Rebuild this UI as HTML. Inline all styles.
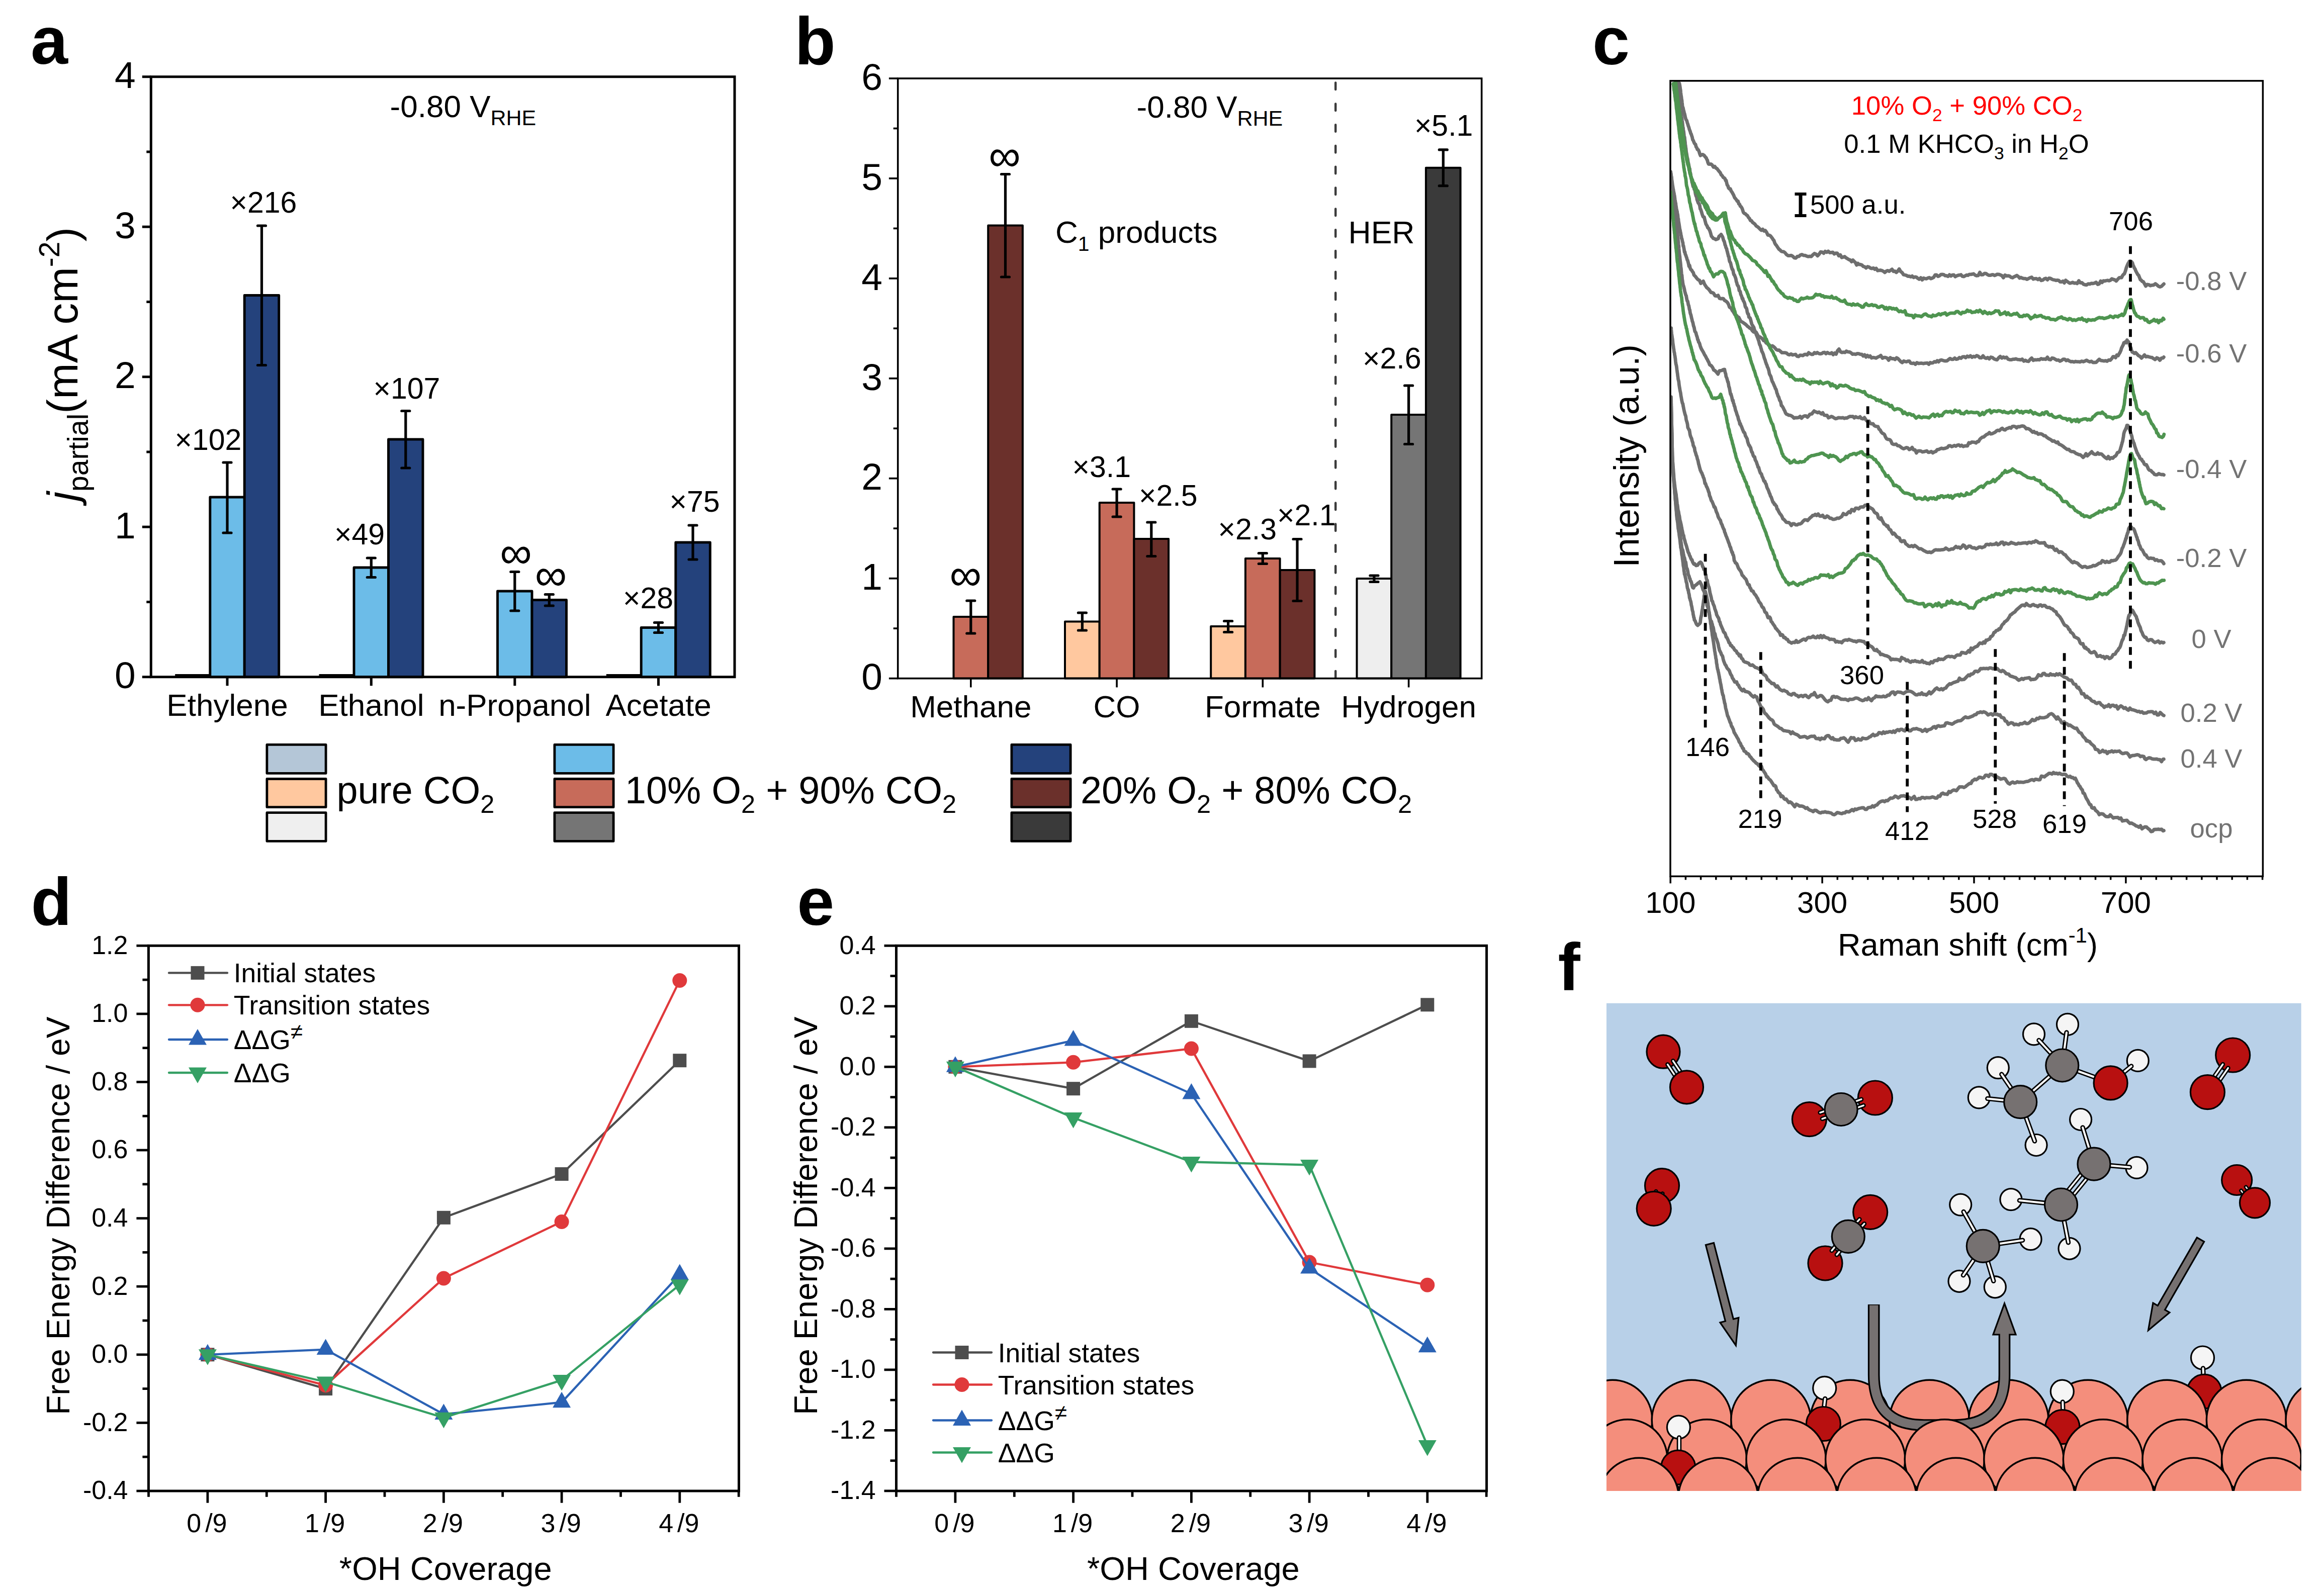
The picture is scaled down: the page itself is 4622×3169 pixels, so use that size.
<!DOCTYPE html>
<html><head><meta charset="utf-8"><title>Figure</title>
<style>html,body{margin:0;padding:0;background:#fff}svg{display:block}text{font-family:"Liberation Sans", Arial, sans-serif}</style>
</head><body>
<svg width="4622" height="3169" viewBox="0 0 4622 3169">
<rect width="4622" height="3169" fill="#fff"/>
<text x="61" y="127" font-size="133" text-anchor="start" fill="#000" font-weight="bold" >a</text>
<rect x="349.2" y="1342" width="68.5" height="4.7" fill="#000" stroke="#000" stroke-width="2" />
<rect x="417.8" y="989" width="68.5" height="357.7" fill="#6CBCE8" stroke="#000" stroke-width="4.9" stroke-linejoin="round"/>
<rect x="486.2" y="587.5" width="68.5" height="759.2" fill="#24427C" stroke="#000" stroke-width="4.9" stroke-linejoin="round"/>
<line x1="452" y1="920" x2="452" y2="1060" stroke="#000" stroke-width="5.2" /><line x1="444" y1="920" x2="460" y2="920" stroke="#000" stroke-width="5.2" stroke-linecap="round"/><line x1="444" y1="1060" x2="460" y2="1060" stroke="#000" stroke-width="5.2" stroke-linecap="round"/>
<line x1="520.5" y1="449" x2="520.5" y2="726.5" stroke="#000" stroke-width="5.2" /><line x1="512.5" y1="449" x2="528.5" y2="449" stroke="#000" stroke-width="5.2" stroke-linecap="round"/><line x1="512.5" y1="726.5" x2="528.5" y2="726.5" stroke="#000" stroke-width="5.2" stroke-linecap="round"/>
<rect x="635.5" y="1342" width="68.5" height="4.7" fill="#000" stroke="#000" stroke-width="2" />
<rect x="704" y="1129" width="68.5" height="217.7" fill="#6CBCE8" stroke="#000" stroke-width="4.9" stroke-linejoin="round"/>
<rect x="772.5" y="874" width="68.5" height="472.7" fill="#24427C" stroke="#000" stroke-width="4.9" stroke-linejoin="round"/>
<line x1="738.3" y1="1110" x2="738.3" y2="1148.5" stroke="#000" stroke-width="5.2" /><line x1="730.3" y1="1110" x2="746.3" y2="1110" stroke="#000" stroke-width="5.2" stroke-linecap="round"/><line x1="730.3" y1="1148.5" x2="746.3" y2="1148.5" stroke="#000" stroke-width="5.2" stroke-linecap="round"/>
<line x1="806.8" y1="817.5" x2="806.8" y2="931" stroke="#000" stroke-width="5.2" /><line x1="798.8" y1="817.5" x2="814.8" y2="817.5" stroke="#000" stroke-width="5.2" stroke-linecap="round"/><line x1="798.8" y1="931" x2="814.8" y2="931" stroke="#000" stroke-width="5.2" stroke-linecap="round"/>
<rect x="989.5" y="1176" width="68.5" height="170.7" fill="#6CBCE8" stroke="#000" stroke-width="4.9" stroke-linejoin="round"/>
<rect x="1058" y="1193.5" width="68.5" height="153.2" fill="#24427C" stroke="#000" stroke-width="4.9" stroke-linejoin="round"/>
<line x1="1023.8" y1="1137.5" x2="1023.8" y2="1215" stroke="#000" stroke-width="5.2" /><line x1="1015.8" y1="1137.5" x2="1031.8" y2="1137.5" stroke="#000" stroke-width="5.2" stroke-linecap="round"/><line x1="1015.8" y1="1215" x2="1031.8" y2="1215" stroke="#000" stroke-width="5.2" stroke-linecap="round"/>
<line x1="1092.3" y1="1182.5" x2="1092.3" y2="1205" stroke="#000" stroke-width="5.2" /><line x1="1084.3" y1="1182.5" x2="1100.3" y2="1182.5" stroke="#000" stroke-width="5.2" stroke-linecap="round"/><line x1="1084.3" y1="1205" x2="1100.3" y2="1205" stroke="#000" stroke-width="5.2" stroke-linecap="round"/>
<rect x="1206.8" y="1342" width="68.5" height="4.7" fill="#000" stroke="#000" stroke-width="2" />
<rect x="1275.2" y="1248.5" width="68.5" height="98.2" fill="#6CBCE8" stroke="#000" stroke-width="4.9" stroke-linejoin="round"/>
<rect x="1343.8" y="1079" width="68.5" height="267.7" fill="#24427C" stroke="#000" stroke-width="4.9" stroke-linejoin="round"/>
<line x1="1309.5" y1="1238.5" x2="1309.5" y2="1258.5" stroke="#000" stroke-width="5.2" /><line x1="1301.5" y1="1238.5" x2="1317.5" y2="1238.5" stroke="#000" stroke-width="5.2" stroke-linecap="round"/><line x1="1301.5" y1="1258.5" x2="1317.5" y2="1258.5" stroke="#000" stroke-width="5.2" stroke-linecap="round"/>
<line x1="1378" y1="1045" x2="1378" y2="1113" stroke="#000" stroke-width="5.2" /><line x1="1370" y1="1045" x2="1386" y2="1045" stroke="#000" stroke-width="5.2" stroke-linecap="round"/><line x1="1370" y1="1113" x2="1386" y2="1113" stroke="#000" stroke-width="5.2" stroke-linecap="round"/>
<rect x="300.3" y="152.7" width="1160.7" height="1194" fill="none" stroke="#000" stroke-width="5" />
<line x1="282.8" y1="1346.7" x2="300.3" y2="1346.7" stroke="#000" stroke-width="5" />
<text x="269.8" y="1369.4" font-size="75" text-anchor="end" fill="#000" >0</text>
<line x1="291.3" y1="1197.5" x2="300.3" y2="1197.5" stroke="#000" stroke-width="5" />
<line x1="282.8" y1="1048.2" x2="300.3" y2="1048.2" stroke="#000" stroke-width="5" />
<text x="269.8" y="1070.9" font-size="75" text-anchor="end" fill="#000" >1</text>
<line x1="291.3" y1="899" x2="300.3" y2="899" stroke="#000" stroke-width="5" />
<line x1="282.8" y1="749.7" x2="300.3" y2="749.7" stroke="#000" stroke-width="5" />
<text x="269.8" y="772.4" font-size="75" text-anchor="end" fill="#000" >2</text>
<line x1="291.3" y1="600.5" x2="300.3" y2="600.5" stroke="#000" stroke-width="5" />
<line x1="282.8" y1="451.2" x2="300.3" y2="451.2" stroke="#000" stroke-width="5" />
<text x="269.8" y="473.9" font-size="75" text-anchor="end" fill="#000" >3</text>
<line x1="291.3" y1="302" x2="300.3" y2="302" stroke="#000" stroke-width="5" />
<line x1="282.8" y1="152.7" x2="300.3" y2="152.7" stroke="#000" stroke-width="5" />
<text x="269.8" y="175.4" font-size="75" text-anchor="end" fill="#000" >4</text>
<line x1="452" y1="1346.7" x2="452" y2="1364.2" stroke="#000" stroke-width="5" />
<text x="452" y="1424" font-size="62" text-anchor="middle" fill="#000" >Ethylene</text>
<line x1="738.3" y1="1346.7" x2="738.3" y2="1364.2" stroke="#000" stroke-width="5" />
<text x="738.3" y="1424" font-size="62" text-anchor="middle" fill="#000" >Ethanol</text>
<line x1="1023.8" y1="1346.7" x2="1023.8" y2="1364.2" stroke="#000" stroke-width="5" />
<text x="1023.8" y="1424" font-size="62" text-anchor="middle" fill="#000" >n-Propanol</text>
<line x1="1309.5" y1="1346.7" x2="1309.5" y2="1364.2" stroke="#000" stroke-width="5" />
<text x="1309.5" y="1424" font-size="62" text-anchor="middle" fill="#000" >Acetate</text>
<text transform="translate(153.6,997) rotate(-90)" font-size="86"><tspan font-style="italic">j</tspan><tspan font-size="57" dy="21">partial</tspan><tspan dy="-21">(mA cm</tspan><tspan font-size="57" dy="-35.6">-2</tspan><tspan dy="35.6">)</tspan></text>
<text x="775.6" y="232.5" font-size="62" text-anchor="start" fill="#000" ><tspan>-0.80 V</tspan><tspan font-size="43" dy="16">RHE</tspan></text>
<text x="347.5" y="895" font-size="59" text-anchor="start" fill="#000" >×102</text>
<text x="457.5" y="422.5" font-size="59" text-anchor="start" fill="#000" >×216</text>
<text x="742.5" y="792.5" font-size="59" text-anchor="start" fill="#000" >×107</text>
<text x="665" y="1082.5" font-size="59" text-anchor="start" fill="#000" >×49</text>
<text x="1239" y="1210" font-size="59" text-anchor="start" fill="#000" >×28</text>
<text x="1331.5" y="1017.5" font-size="59" text-anchor="start" fill="#000" >×75</text>
<text x="1026" y="1130.2" font-size="89" text-anchor="middle" fill="#000" >∞</text>
<text x="1095.5" y="1173.7" font-size="89" text-anchor="middle" fill="#000" >∞</text>
<text x="1580.5" y="127.5" font-size="133" text-anchor="start" fill="#000" font-weight="bold" >b</text>
<line x1="2656.2" y1="164.6" x2="2656.2" y2="1349.6" stroke="#3C3C3C" stroke-width="4.5" stroke-dasharray="13.5 28.3" stroke-linecap="round"/>
<rect x="1896.5" y="1227" width="68.7" height="122.6" fill="#C76B5A" stroke="#000" stroke-width="4" stroke-linejoin="round"/>
<rect x="1965.2" y="448.5" width="68.7" height="901.1" fill="#6B302B" stroke="#000" stroke-width="4" stroke-linejoin="round"/>
<line x1="1930.8" y1="1195" x2="1930.8" y2="1260" stroke="#000" stroke-width="5.2" /><line x1="1922.8" y1="1195" x2="1938.8" y2="1195" stroke="#000" stroke-width="5.2" stroke-linecap="round"/><line x1="1922.8" y1="1260" x2="1938.8" y2="1260" stroke="#000" stroke-width="5.2" stroke-linecap="round"/>
<line x1="1999.5" y1="346.5" x2="1999.5" y2="551" stroke="#000" stroke-width="5.2" /><line x1="1991.5" y1="346.5" x2="2007.5" y2="346.5" stroke="#000" stroke-width="5.2" stroke-linecap="round"/><line x1="1991.5" y1="551" x2="2007.5" y2="551" stroke="#000" stroke-width="5.2" stroke-linecap="round"/>
<rect x="2118" y="1236.5" width="68.7" height="113.1" fill="#FFC89F" stroke="#000" stroke-width="4" stroke-linejoin="round"/>
<rect x="2186.7" y="1000" width="68.7" height="349.6" fill="#C76B5A" stroke="#000" stroke-width="4" stroke-linejoin="round"/>
<rect x="2255.4" y="1072" width="68.7" height="277.6" fill="#6B302B" stroke="#000" stroke-width="4" stroke-linejoin="round"/>
<line x1="2152.4" y1="1219" x2="2152.4" y2="1254" stroke="#000" stroke-width="5.2" /><line x1="2144.4" y1="1219" x2="2160.4" y2="1219" stroke="#000" stroke-width="5.2" stroke-linecap="round"/><line x1="2144.4" y1="1254" x2="2160.4" y2="1254" stroke="#000" stroke-width="5.2" stroke-linecap="round"/>
<line x1="2221.1" y1="973" x2="2221.1" y2="1028" stroke="#000" stroke-width="5.2" /><line x1="2213.1" y1="973" x2="2229.1" y2="973" stroke="#000" stroke-width="5.2" stroke-linecap="round"/><line x1="2213.1" y1="1028" x2="2229.1" y2="1028" stroke="#000" stroke-width="5.2" stroke-linecap="round"/>
<line x1="2289.8" y1="1039" x2="2289.8" y2="1106.5" stroke="#000" stroke-width="5.2" /><line x1="2281.8" y1="1039" x2="2297.8" y2="1039" stroke="#000" stroke-width="5.2" stroke-linecap="round"/><line x1="2281.8" y1="1106.5" x2="2297.8" y2="1106.5" stroke="#000" stroke-width="5.2" stroke-linecap="round"/>
<rect x="2408.2" y="1246" width="68.7" height="103.6" fill="#FFC89F" stroke="#000" stroke-width="4" stroke-linejoin="round"/>
<rect x="2476.9" y="1111" width="68.7" height="238.6" fill="#C76B5A" stroke="#000" stroke-width="4" stroke-linejoin="round"/>
<rect x="2545.7" y="1134" width="68.7" height="215.6" fill="#6B302B" stroke="#000" stroke-width="4" stroke-linejoin="round"/>
<line x1="2442.6" y1="1235.5" x2="2442.6" y2="1257.5" stroke="#000" stroke-width="5.2" /><line x1="2434.6" y1="1235.5" x2="2450.6" y2="1235.5" stroke="#000" stroke-width="5.2" stroke-linecap="round"/><line x1="2434.6" y1="1257.5" x2="2450.6" y2="1257.5" stroke="#000" stroke-width="5.2" stroke-linecap="round"/>
<line x1="2511.3" y1="1100.5" x2="2511.3" y2="1121.5" stroke="#000" stroke-width="5.2" /><line x1="2503.3" y1="1100.5" x2="2519.3" y2="1100.5" stroke="#000" stroke-width="5.2" stroke-linecap="round"/><line x1="2503.3" y1="1121.5" x2="2519.3" y2="1121.5" stroke="#000" stroke-width="5.2" stroke-linecap="round"/>
<line x1="2580" y1="1072.5" x2="2580" y2="1195.5" stroke="#000" stroke-width="5.2" /><line x1="2572" y1="1072.5" x2="2588" y2="1072.5" stroke="#000" stroke-width="5.2" stroke-linecap="round"/><line x1="2572" y1="1195.5" x2="2588" y2="1195.5" stroke="#000" stroke-width="5.2" stroke-linecap="round"/>
<rect x="2698.5" y="1151" width="68.7" height="198.6" fill="#EEEEEE" stroke="#000" stroke-width="4" stroke-linejoin="round"/>
<rect x="2767.2" y="825" width="68.7" height="524.6" fill="#757575" stroke="#000" stroke-width="4" stroke-linejoin="round"/>
<rect x="2835.9" y="333.7" width="68.7" height="1015.9" fill="#3A3A3A" stroke="#000" stroke-width="4" stroke-linejoin="round"/>
<line x1="2732.9" y1="1145" x2="2732.9" y2="1157.5" stroke="#000" stroke-width="5.2" /><line x1="2724.9" y1="1145" x2="2740.9" y2="1145" stroke="#000" stroke-width="5.2" stroke-linecap="round"/><line x1="2724.9" y1="1157.5" x2="2740.9" y2="1157.5" stroke="#000" stroke-width="5.2" stroke-linecap="round"/>
<line x1="2801.6" y1="767" x2="2801.6" y2="883.5" stroke="#000" stroke-width="5.2" /><line x1="2793.6" y1="767" x2="2809.6" y2="767" stroke="#000" stroke-width="5.2" stroke-linecap="round"/><line x1="2793.6" y1="883.5" x2="2809.6" y2="883.5" stroke="#000" stroke-width="5.2" stroke-linecap="round"/>
<line x1="2870.3" y1="297.9" x2="2870.3" y2="369.7" stroke="#000" stroke-width="5.2" /><line x1="2862.3" y1="297.9" x2="2878.3" y2="297.9" stroke="#000" stroke-width="5.2" stroke-linecap="round"/><line x1="2862.3" y1="369.7" x2="2878.3" y2="369.7" stroke="#000" stroke-width="5.2" stroke-linecap="round"/>
<rect x="1785.7" y="156" width="1161" height="1193.6" fill="none" stroke="#000" stroke-width="3.6" />
<line x1="1767.9" y1="1349.6" x2="1785.7" y2="1349.6" stroke="#000" stroke-width="3.6" />
<text x="1755" y="1372.3" font-size="75" text-anchor="end" fill="#000" >0</text>
<line x1="1776.7" y1="1250.1" x2="1785.7" y2="1250.1" stroke="#000" stroke-width="3.6" />
<line x1="1767.9" y1="1150.7" x2="1785.7" y2="1150.7" stroke="#000" stroke-width="3.6" />
<text x="1755" y="1173.4" font-size="75" text-anchor="end" fill="#000" >1</text>
<line x1="1776.7" y1="1051.2" x2="1785.7" y2="1051.2" stroke="#000" stroke-width="3.6" />
<line x1="1767.9" y1="951.7" x2="1785.7" y2="951.7" stroke="#000" stroke-width="3.6" />
<text x="1755" y="974.4" font-size="75" text-anchor="end" fill="#000" >2</text>
<line x1="1776.7" y1="852.3" x2="1785.7" y2="852.3" stroke="#000" stroke-width="3.6" />
<line x1="1767.9" y1="752.8" x2="1785.7" y2="752.8" stroke="#000" stroke-width="3.6" />
<text x="1755" y="775.5" font-size="75" text-anchor="end" fill="#000" >3</text>
<line x1="1776.7" y1="653.3" x2="1785.7" y2="653.3" stroke="#000" stroke-width="3.6" />
<line x1="1767.9" y1="553.9" x2="1785.7" y2="553.9" stroke="#000" stroke-width="3.6" />
<text x="1755" y="576.6" font-size="75" text-anchor="end" fill="#000" >4</text>
<line x1="1776.7" y1="454.4" x2="1785.7" y2="454.4" stroke="#000" stroke-width="3.6" />
<line x1="1767.9" y1="354.9" x2="1785.7" y2="354.9" stroke="#000" stroke-width="3.6" />
<text x="1755" y="377.6" font-size="75" text-anchor="end" fill="#000" >5</text>
<line x1="1776.7" y1="255.5" x2="1785.7" y2="255.5" stroke="#000" stroke-width="3.6" />
<line x1="1767.9" y1="156" x2="1785.7" y2="156" stroke="#000" stroke-width="3.6" />
<text x="1755" y="178.7" font-size="75" text-anchor="end" fill="#000" >6</text>
<line x1="1930.8" y1="1349.6" x2="1930.8" y2="1367.4" stroke="#000" stroke-width="3.6" />
<text x="1930.8" y="1426.5" font-size="62" text-anchor="middle" fill="#000" >Methane</text>
<line x1="2221.1" y1="1349.6" x2="2221.1" y2="1367.4" stroke="#000" stroke-width="3.6" />
<text x="2221.1" y="1426.5" font-size="62" text-anchor="middle" fill="#000" >CO</text>
<line x1="2511.3" y1="1349.6" x2="2511.3" y2="1367.4" stroke="#000" stroke-width="3.6" />
<text x="2511.3" y="1426.5" font-size="62" text-anchor="middle" fill="#000" >Formate</text>
<line x1="2801.6" y1="1349.6" x2="2801.6" y2="1367.4" stroke="#000" stroke-width="3.6" />
<text x="2801.6" y="1426.5" font-size="62" text-anchor="middle" fill="#000" >Hydrogen</text>
<text x="2260.6" y="234" font-size="62" text-anchor="start" fill="#000" ><tspan>-0.80 V</tspan><tspan font-size="43" dy="16">RHE</tspan></text>
<text x="2099" y="482.5" font-size="62" text-anchor="start" fill="#000" ><tspan>C</tspan><tspan font-size="41" dy="16">1</tspan><tspan dy="-16"> products</tspan></text>
<text x="2681.5" y="484" font-size="62.5" text-anchor="start" fill="#000" >HER</text>
<text x="2132.5" y="948.5" font-size="59" text-anchor="start" fill="#000" >×3.1</text>
<text x="2265" y="1006" font-size="59" text-anchor="start" fill="#000" >×2.5</text>
<text x="2422.5" y="1072.5" font-size="59" text-anchor="start" fill="#000" >×2.3</text>
<text x="2540" y="1045" font-size="59" text-anchor="start" fill="#000" >×2.1</text>
<text x="2710" y="732.5" font-size="59" text-anchor="start" fill="#000" >×2.6</text>
<text x="2812.9" y="270.4" font-size="59" text-anchor="start" fill="#000" >×5.1</text>
<text x="1920.2" y="1174.4" font-size="89" text-anchor="middle" fill="#000" >∞</text>
<text x="1998" y="340.2" font-size="89" text-anchor="middle" fill="#000" >∞</text>
<rect x="530.9" y="1481.4" width="117.2" height="57" fill="#B4C6D7" stroke="#000" stroke-width="4.8" stroke-linejoin="round"/>
<rect x="530.9" y="1549.5" width="117.2" height="56.2" fill="#FFC89F" stroke="#000" stroke-width="4.8" stroke-linejoin="round"/>
<rect x="530.9" y="1616.7" width="117.2" height="56.7" fill="#EFEFEF" stroke="#000" stroke-width="4.8" stroke-linejoin="round"/>
<rect x="1102.9" y="1481.4" width="117.2" height="57" fill="#6CBCE8" stroke="#000" stroke-width="4.8" stroke-linejoin="round"/>
<rect x="1102.9" y="1549.5" width="117.2" height="56.2" fill="#C76B5A" stroke="#000" stroke-width="4.8" stroke-linejoin="round"/>
<rect x="1102.9" y="1616.7" width="117.2" height="56.7" fill="#757575" stroke="#000" stroke-width="4.8" stroke-linejoin="round"/>
<rect x="2011.9" y="1481.4" width="117.2" height="57" fill="#24427C" stroke="#000" stroke-width="4.8" stroke-linejoin="round"/>
<rect x="2011.9" y="1549.5" width="117.2" height="56.2" fill="#6B302B" stroke="#000" stroke-width="4.8" stroke-linejoin="round"/>
<rect x="2011.9" y="1616.7" width="117.2" height="56.7" fill="#3A3A3A" stroke="#000" stroke-width="4.8" stroke-linejoin="round"/>
<text x="669.5" y="1598" font-size="75.6" text-anchor="start" fill="#000" ><tspan>pure CO</tspan><tspan font-size="50.5" dy="19">2</tspan></text>
<text x="1243" y="1598" font-size="75.6" text-anchor="start" fill="#000" ><tspan>10% O</tspan><tspan font-size="50.5" dy="19">2</tspan><tspan dy="-19"> + 90% CO</tspan><tspan font-size="50.5" dy="19">2</tspan></text>
<text x="2149" y="1598" font-size="75.6" text-anchor="start" fill="#000" ><tspan>20% O</tspan><tspan font-size="50.5" dy="19">2</tspan><tspan dy="-19"> + 80% CO</tspan><tspan font-size="50.5" dy="19">2</tspan></text>
<text x="3167" y="127.5" font-size="133" text-anchor="start" fill="#000" font-weight="bold" >c</text>
<clipPath id="clipc"><rect x="3322" y="160.8" width="1178.4" height="1582.5"/></clipPath>
<g clip-path="url(#clipc)" fill="none" stroke-linejoin="round" stroke-linecap="round" stroke-width="6.8">
<path d="M3323.5,808.7 3323.6,812.6 3323.7,815.3 3323.7,817.9 3323.8,821.9 3323.9,824.3 3324.0,826.7 3324.0,831.1 3324.1,832.6 3324.2,834.3 3324.3,836.7 3324.4,840.0 3324.4,844.0 3324.5,847.3 3324.6,850.6 3324.7,854.1 3324.8,857.1 3324.8,859.1 3324.9,862.2 3325.0,864.5 3325.1,866.2 3325.1,869.7 3325.2,872.2 3325.3,874.7 3325.4,879.1 3325.5,881.6 3325.5,883.2 3325.6,885.9 3325.7,890.7 3325.8,892.1 3325.8,895.2 3325.9,898.0 3326.0,900.8 3326.1,903.7 3326.2,905.6 3326.3,908.2 3326.4,911.2 3326.5,914.0 3326.6,917.7 3326.8,921.5 3326.9,922.7 3327.0,926.2 3327.1,928.0 3327.2,930.7 3327.3,933.9 3327.4,937.1 3327.5,939.7 3327.7,940.4 3328.0,946.1 3328.2,948.4 3328.4,950.7 3328.7,954.5 3328.9,956.6 3329.1,958.3 3329.4,962.5 3329.6,965.7 3329.8,967.6 3330.1,971.5 3330.3,974.3 3330.5,975.8 3330.8,980.7 3331.0,982.9 3331.2,984.3 3331.5,988.0 3331.7,990.9 3332.0,994.4 3332.2,995.4 3332.4,999.8 3332.7,1003.0 3332.9,1005.8 3333.1,1008.5 3333.4,1011.9 3333.6,1014.4 3333.8,1016.5 3334.1,1018.3 3334.3,1022.4 3334.5,1025.6 3334.8,1027.9 3335.1,1030.5 3335.4,1033.7 3335.8,1033.6 3336.2,1038.1 3336.5,1038.8 3336.9,1043.5 3337.3,1047.8 3337.7,1051.9 3338.1,1052.9 3338.5,1056.0 3338.8,1058.4 3339.2,1059.0 3339.6,1063.9 3340.0,1066.7 3340.4,1069.6 3340.8,1071.5 3341.2,1074.9 3341.5,1078.0 3341.9,1082.1 3342.3,1084.4 3342.7,1090.1 3343.1,1090.2 3343.5,1092.2 3343.8,1094.9 3344.2,1097.0 3344.6,1101.8 3345.0,1104.4 3345.4,1105.4 3345.8,1108.8 3346.2,1112.9 3346.5,1113.7 3346.9,1117.3 3347.3,1120.0 3347.7,1125.3 3348.1,1127.1 3348.5,1128.8 3348.8,1131.1 3349.2,1136.1 3349.6,1137.4 3350.1,1142.4 3350.6,1142.1 3351.2,1145.2 3351.8,1148.1 3352.4,1150.4 3353.0,1153.5 3353.6,1157.4 3354.2,1159.2 3354.8,1160.8 3355.4,1166.1 3356.0,1169.9 3356.6,1170.8 3357.2,1174.0 3357.8,1173.9 3358.4,1179.5 3359.0,1180.8 3359.6,1183.8 3360.2,1189.6 3360.8,1189.8 3361.4,1193.1 3362.0,1194.9 3362.6,1196.5 3363.2,1199.6 3363.8,1204.0 3364.4,1205.8 3365.0,1208.9 3365.6,1213.2 3366.2,1215.5 3366.8,1216.9 3367.4,1222.2 3368.0,1224.3 3368.6,1228.2 3369.2,1228.8 3369.8,1233.7 3370.4,1233.9 3371.4,1235.2 3372.7,1239.0 3374.3,1242.2 3376.3,1244.2 3378.5,1242.3 3380.3,1240.6 3381.5,1238.7 3382.0,1233.9 3382.5,1229.7 3383.0,1227.2 3383.5,1225.6 3384.0,1223.1 3384.5,1219.1 3385.0,1215.1 3385.5,1212.7 3386.0,1210.9 3386.4,1206.7 3386.8,1205.2 3387.2,1201.7 3387.7,1198.6 3388.1,1194.6 3388.5,1193.2 3388.9,1189.5 3389.3,1184.8 3389.8,1183.4 3390.2,1179.8 3390.6,1178.1 3391.1,1177.1 3391.7,1176.6 3392.4,1180.1 3393.1,1182.6 3393.9,1185.0 3394.6,1188.7 3395.3,1192.8 3395.9,1195.3 3396.4,1197.9 3396.8,1200.2 3397.2,1203.9 3397.6,1206.8 3398.0,1210.3 3398.3,1212.7 3398.7,1217.1 3399.1,1217.0 3399.5,1220.2 3399.9,1223.7 3400.3,1227.2 3400.7,1227.9 3401.1,1230.2 3401.5,1234.0 3401.9,1238.3 3402.3,1241.6 3402.7,1242.1 3403.0,1245.7 3403.4,1249.8 3403.8,1252.0 3404.2,1253.6 3404.6,1256.2 3405.0,1258.4 3405.4,1263.5 3405.9,1265.7 3406.3,1268.1 3406.7,1270.4 3407.2,1273.7 3407.6,1276.0 3408.0,1278.5 3408.5,1282.2 3408.9,1285.1 3409.3,1288.6 3409.8,1291.4 3410.2,1295.2 3410.7,1297.2 3411.1,1300.0 3411.5,1302.8 3412.0,1304.6 3412.4,1309.0 3412.8,1310.7 3413.3,1312.1 3413.7,1317.2 3414.1,1320.3 3414.6,1322.0 3415.0,1325.9 3415.6,1329.1 3416.1,1331.8 3416.7,1332.6 3417.2,1336.1 3417.8,1337.9 3418.3,1340.7 3418.9,1343.6 3419.4,1346.1 3420.0,1350.2 3420.6,1352.1 3421.1,1356.0 3421.7,1358.7 3422.2,1360.7 3422.8,1363.9 3423.3,1367.4 3423.9,1370.9 3424.4,1372.5 3425.0,1377.0 3425.6,1379.1 3426.2,1382.4 3426.9,1382.7 3427.5,1384.9 3428.1,1389.9 3428.8,1392.0 3429.4,1395.3 3430.0,1399.0 3430.6,1399.4 3431.2,1403.3 3431.9,1408.1 3432.5,1410.4 3433.1,1412.3 3433.8,1415.3 3434.4,1417.6 3435.1,1421.0 3436.0,1424.6 3437.0,1425.8 3438.0,1428.9 3439.0,1431.4 3440.0,1434.5 3441.0,1437.4 3442.0,1438.0 3443.0,1442.5 3444.0,1445.5 3445.0,1445.9 3446.0,1448.8 3447.0,1450.2 3448.0,1453.7 3449.0,1457.4 3450.1,1458.6 3451.4,1461.1 3452.9,1463.4 3454.3,1466.1 3455.7,1468.6 3457.1,1470.7 3458.6,1475.1 3460.0,1477.3 3461.4,1478.9 3462.9,1483.4 3464.3,1484.7 3465.7,1488.6 3467.1,1488.8 3468.6,1494.0 3470.2,1494.8 3472.0,1495.7 3474.0,1499.2 3476.0,1499.2 3478.0,1500.9 3480.0,1504.7 3482.0,1506.2 3484.0,1509.4 3486.0,1511.4 3488.0,1513.6 3490.2,1515.4 3492.5,1518.2 3495.0,1519.3 3497.5,1522.5 3499.7,1524.7 3501.7,1523.1 3503.3,1524.6 3505.0,1531.1 3506.7,1532.3 3508.3,1535.2 3510.0,1537.5 3511.7,1540.4 3513.3,1545.6 3515.0,1545.2 3516.7,1547.7 3518.3,1550.1 3520.1,1551.1 3522.0,1553.4 3524.0,1556.6 3526.0,1559.7 3528.0,1563.0 3529.9,1562.6 3531.7,1564.6 3533.3,1571.2 3535.0,1572.7 3536.7,1576.2 3538.3,1577.4 3540.1,1578.9 3542.0,1584.7 3544.0,1583.2 3546.0,1584.5 3548.0,1588.5 3550.2,1590.2 3552.5,1589.6 3555.0,1593.2 3557.5,1596.6 3560.2,1595.3 3563.1,1597.2 3566.2,1600.8 3569.4,1604.8 3572.5,1599.8 3575.6,1601.3 3578.8,1603.6 3581.9,1603.4 3585.0,1603.9 3588.0,1605.3 3591.0,1608.0 3594.0,1606.8 3597.0,1610.2 3600.0,1611.8 3603.0,1612.7 3606.0,1614.6 3609.0,1611.9 3612.0,1612.1 3615.0,1614.5 3618.0,1616.4 3621.0,1617.1 3624.0,1615.7 3627.0,1615.8 3630.0,1614.8 3633.0,1616.2 3636.0,1616.0 3639.0,1616.8 3642.0,1617.5 3645.0,1620.0 3648.0,1620.8 3651.0,1619.1 3654.0,1616.3 3657.0,1617.1 3660.0,1618.0 3663.0,1618.6 3666.0,1617.1 3669.0,1617.2 3672.0,1614.3 3675.0,1615.0 3677.9,1615.0 3680.7,1612.6 3683.6,1610.6 3686.4,1612.9 3689.3,1609.4 3692.1,1610.6 3695.0,1609.0 3697.9,1608.0 3700.7,1607.5 3703.6,1606.8 3706.4,1607.0 3709.3,1610.0 3712.1,1610.2 3715.0,1606.9 3718.0,1606.2 3721.0,1606.0 3724.0,1603.1 3727.0,1605.2 3730.0,1602.2 3733.0,1601.3 3736.0,1597.6 3739.0,1595.3 3742.0,1593.9 3745.0,1593.2 3748.0,1594.9 3751.0,1592.5 3754.0,1592.9 3757.0,1590.1 3760.0,1587.5 3763.0,1588.0 3766.0,1586.7 3769.0,1583.6 3772.0,1584.9 3775.0,1587.2 3777.9,1585.5 3780.8,1583.3 3783.8,1583.4 3786.7,1582.8 3789.6,1584.4 3792.5,1584.0 3795.4,1585.6 3798.3,1587.1 3801.2,1589.9 3804.2,1586.9 3807.1,1584.4 3810.0,1590.4 3813.0,1590.1 3816.0,1588.3 3819.0,1589.1 3822.0,1586.5 3825.0,1586.5 3828.0,1588.1 3831.0,1586.7 3834.0,1586.8 3837.0,1587.2 3840.0,1586.6 3843.0,1585.4 3846.0,1586.1 3849.0,1587.6 3852.0,1587.7 3855.0,1583.5 3858.0,1584.2 3861.0,1579.3 3864.0,1577.7 3867.0,1579.6 3870.0,1579.7 3873.0,1580.3 3876.0,1574.5 3879.0,1576.3 3882.0,1573.4 3885.0,1571.7 3888.0,1572.0 3891.0,1573.1 3894.0,1568.9 3897.0,1565.5 3900.0,1565.4 3903.0,1565.4 3906.0,1566.6 3909.0,1564.9 3912.0,1562.3 3914.8,1560.1 3917.5,1558.3 3920.0,1558.5 3922.5,1553.5 3925.0,1552.0 3927.5,1549.9 3930.2,1551.2 3933.1,1549.2 3936.2,1546.2 3939.4,1546.5 3942.5,1548.1 3945.6,1546.9 3948.8,1542.1 3951.9,1542.1 3955.0,1544.7 3958.0,1540.4 3961.0,1540.5 3964.0,1542.3 3967.0,1544.9 3970.0,1544.1 3973.0,1546.4 3976.0,1547.8 3979.0,1550.0 3982.0,1549.3 3985.0,1548.4 3988.0,1549.2 3991.0,1554.1 3994.0,1558.1 3997.0,1559.7 4000.0,1557.1 4003.0,1555.7 4006.0,1557.7 4009.0,1557.1 4012.0,1555.1 4015.0,1556.4 4018.0,1555.9 4021.0,1556.1 4024.0,1556.4 4027.0,1555.5 4030.0,1554.7 4033.0,1554.5 4036.0,1553.1 4039.0,1551.5 4042.0,1550.8 4045.0,1552.7 4048.0,1550.2 4051.0,1550.5 4054.0,1551.3 4057.0,1551.1 4060.0,1543.9 4063.0,1544.5 4066.0,1545.5 4069.0,1542.8 4072.0,1540.8 4075.0,1538.3 4078.0,1538.5 4081.0,1539.8 4084.0,1536.7 4087.0,1538.9 4090.0,1538.1 4093.0,1539.6 4096.0,1538.2 4099.0,1540.0 4102.0,1540.9 4105.0,1540.1 4108.0,1540.5 4111.0,1544.1 4114.0,1545.5 4117.0,1544.2 4119.8,1546.9 4122.5,1546.7 4125.0,1549.2 4127.5,1548.1 4129.7,1552.8 4131.7,1557.6 4133.3,1559.4 4135.0,1563.1 4136.7,1564.4 4138.3,1567.7 4139.9,1570.0 4141.4,1571.5 4142.9,1577.6 4144.3,1577.9 4145.7,1579.1 4147.1,1583.1 4148.6,1586.7 4150.1,1589.6 4151.7,1591.8 4153.3,1595.0 4155.0,1598.5 4156.7,1601.0 4158.3,1601.0 4160.3,1606.8 4162.5,1607.9 4165.0,1606.7 4167.5,1611.9 4170.0,1613.7 4172.5,1616.1 4175.0,1620.6 4177.5,1618.9 4180.0,1619.0 4182.5,1619.3 4185.2,1621.9 4188.0,1624.1 4191.0,1624.6 4194.0,1624.7 4197.0,1621.0 4200.0,1624.4 4203.0,1627.4 4206.0,1626.3 4209.0,1626.4 4212.0,1626.1 4215.0,1628.8 4218.0,1627.3 4221.0,1633.3 4224.0,1632.5 4227.0,1632.2 4230.0,1631.8 4233.0,1635.3 4236.0,1638.1 4239.0,1637.3 4242.0,1639.0 4245.0,1640.5 4248.0,1642.9 4251.0,1643.7 4254.0,1645.7 4257.0,1642.6 4260.0,1648.9 4263.0,1646.4 4266.0,1644.9 4269.0,1645.2 4272.0,1648.1 4275.0,1650.2 4278.0,1654.3 4281.0,1653.7 4284.0,1650.2 4287.0,1650.0 4290.0,1649.8 4293.0,1649.5 4296.0,1650.2 4299.0,1649.6 4302.0,1652.8 4303.5,1652.3" stroke="#6E6E6E"/>
<path d="M3323.5,799.1 3323.6,802.8 3323.6,806.5 3323.7,808.4 3323.8,810.3 3323.9,813.8 3323.9,817.4 3324.0,821.0 3324.1,822.2 3324.1,824.5 3324.2,828.7 3324.3,831.9 3324.4,835.7 3324.4,838.4 3324.5,840.4 3324.6,842.8 3324.6,847.7 3324.7,849.0 3324.8,851.0 3324.9,853.2 3324.9,856.8 3325.0,860.0 3325.1,862.6 3325.1,865.6 3325.2,868.7 3325.3,872.0 3325.4,875.4 3325.4,877.7 3325.5,878.8 3325.5,883.0 3325.6,884.7 3325.6,888.1 3325.6,890.1 3325.7,893.8 3325.7,896.4 3325.8,899.9 3325.8,905.4 3325.8,906.6 3325.9,909.5 3325.9,910.7 3325.9,913.8 3326.0,917.5 3326.1,920.1 3326.2,923.2 3326.5,925.9 3326.7,927.8 3326.9,931.6 3327.2,933.6 3327.4,938.6 3327.6,940.1 3327.9,943.5 3328.1,945.9 3328.3,949.5 3328.6,951.2 3328.8,955.1 3329.0,957.3 3329.2,961.2 3329.5,963.8 3329.7,966.2 3329.9,968.0 3330.2,971.9 3330.4,974.9 3330.6,978.8 3330.9,980.2 3331.1,983.4 3331.3,986.4 3331.6,989.0 3331.8,991.8 3332.0,994.6 3332.3,996.7 3332.6,998.9 3332.9,1002.1 3333.3,1005.9 3333.7,1010.0 3334.1,1012.7 3334.5,1015.6 3334.8,1018.1 3335.2,1020.8 3335.6,1023.1 3336.0,1026.2 3336.4,1030.1 3336.8,1031.3 3337.2,1033.2 3337.6,1038.2 3338.0,1040.2 3338.4,1043.4 3338.8,1046.3 3339.1,1047.2 3339.5,1052.7 3339.9,1055.9 3340.3,1057.3 3340.7,1060.1 3341.1,1062.4 3341.5,1064.0 3341.9,1067.2 3342.3,1070.5 3342.7,1074.3 3343.0,1077.0 3343.4,1079.2 3343.8,1083.0 3344.2,1084.2 3344.6,1087.9 3345.1,1091.4 3345.7,1093.0 3346.4,1093.7 3347.1,1096.7 3347.8,1100.8 3348.5,1104.3 3349.2,1108.5 3349.9,1109.0 3350.6,1112.1 3351.2,1115.6 3351.9,1117.8 3352.6,1118.1 3353.3,1123.3 3354.0,1128.6 3354.7,1130.8 3355.4,1131.4 3356.1,1133.9 3356.8,1137.3 3357.6,1142.7 3358.4,1144.4 3359.3,1146.2 3360.2,1150.2 3361.1,1151.5 3362.0,1155.9 3363.0,1156.4 3363.9,1158.6 3364.8,1162.4 3365.7,1166.4 3366.6,1168.8 3368.0,1169.7 3370.0,1165.5 3372.5,1164.1 3374.8,1162.3 3377.0,1160.1 3379.0,1159.1 3380.7,1157.3 3382.0,1159.6 3383.0,1161.7 3384.0,1163.7 3385.0,1166.7 3386.0,1169.8 3387.0,1173.2 3388.0,1174.5 3389.0,1177.0 3389.9,1178.4 3390.6,1184.0 3391.2,1187.5 3391.9,1188.9 3392.5,1190.9 3393.1,1192.7 3393.8,1196.6 3394.4,1199.8 3395.0,1204.8 3395.6,1206.4 3396.2,1207.7 3396.9,1208.3 3397.5,1214.3 3398.1,1216.9 3398.8,1217.8 3399.4,1221.8 3400.0,1223.1 3400.8,1230.8 3401.5,1232.7 3402.3,1234.5 3403.1,1236.1 3403.8,1236.2 3404.6,1240.2 3405.4,1241.8 3406.2,1246.5 3406.9,1246.9 3407.7,1250.1 3408.5,1255.3 3409.2,1259.4 3410.0,1259.5 3410.9,1261.0 3411.8,1266.0 3412.7,1269.6 3413.6,1270.7 3414.5,1273.3 3415.4,1276.0 3416.2,1278.3 3417.1,1281.5 3418.0,1286.6 3418.9,1289.7 3419.8,1294.1 3420.7,1295.1 3421.6,1297.3 3422.6,1298.9 3423.6,1302.2 3424.8,1303.7 3425.9,1305.5 3427.0,1310.8 3428.2,1315.3 3429.3,1317.9 3430.5,1321.2 3431.6,1322.9 3432.7,1324.1 3433.9,1327.2 3435.1,1329.4 3436.5,1330.9 3438.0,1332.3 3439.5,1334.6 3441.0,1339.0 3442.5,1342.3 3444.0,1344.3 3445.5,1349.1 3447.0,1350.8 3448.5,1353.5 3450.1,1356.9 3451.9,1356.8 3453.8,1356.5 3455.6,1361.6 3457.5,1362.8 3459.4,1367.4 3461.2,1369.1 3463.1,1372.1 3465.4,1374.1 3468.0,1371.4 3471.0,1375.7 3474.0,1376.0 3477.0,1376.9 3479.8,1378.8 3482.5,1382.3 3485.0,1384.7 3487.5,1386.7 3490.0,1384.2 3492.1,1386.4 3493.9,1386.4 3495.3,1391.2 3496.7,1395.3 3498.1,1396.6 3499.4,1400.0 3500.8,1402.8 3502.2,1406.4 3503.6,1406.9 3505.2,1408.7 3506.9,1411.0 3508.8,1416.8 3510.6,1419.6 3512.5,1420.6 3514.4,1423.0 3516.2,1425.3 3518.1,1427.9 3520.1,1429.7 3522.1,1431.6 3524.3,1432.3 3526.4,1434.8 3528.6,1440.4 3530.7,1442.1 3532.9,1443.4 3535.1,1444.7 3537.5,1446.7 3540.0,1448.9 3542.5,1449.2 3545.0,1451.7 3547.5,1453.7 3550.2,1453.7 3553.0,1454.3 3556.0,1454.7 3559.0,1455.4 3562.0,1459.6 3565.0,1456.2 3568.0,1459.2 3571.0,1460.4 3574.0,1461.4 3577.0,1463.6 3580.0,1466.6 3582.9,1466.1 3585.7,1465.7 3588.6,1465.0 3591.4,1465.8 3594.3,1468.2 3597.1,1466.9 3600.0,1465.3 3602.9,1464.6 3605.7,1464.8 3608.6,1464.5 3611.4,1469.1 3614.3,1469.5 3617.1,1468.7 3620.0,1471.5 3622.9,1468.3 3625.7,1469.4 3628.6,1469.6 3631.4,1465.2 3634.3,1463.3 3637.1,1463.4 3639.9,1467.2 3642.5,1469.7 3645.0,1467.5 3647.5,1471.3 3650.0,1471.2 3652.5,1472.0 3655.2,1472.0 3658.0,1472.2 3661.0,1468.9 3664.0,1468.7 3667.0,1467.6 3670.0,1470.0 3672.9,1473.8 3675.7,1476.5 3678.6,1471.7 3681.4,1467.3 3684.3,1468.3 3687.1,1467.6 3690.0,1473.0 3692.9,1472.2 3695.7,1469.7 3698.6,1471.9 3701.4,1472.1 3704.3,1468.2 3707.1,1469.0 3709.9,1469.5 3712.5,1469.3 3715.0,1468.3 3717.5,1466.3 3720.0,1465.5 3722.5,1463.0 3725.2,1460.9 3728.0,1463.7 3731.0,1462.4 3734.0,1461.6 3737.0,1457.3 3740.0,1457.9 3742.9,1459.5 3745.7,1456.0 3748.6,1458.6 3751.4,1456.5 3754.3,1456.8 3757.1,1455.6 3760.0,1455.5 3762.9,1456.9 3765.7,1454.4 3768.6,1456.8 3771.4,1453.2 3774.3,1451.4 3777.1,1453.5 3780.0,1450.8 3782.9,1450.9 3785.7,1453.0 3788.6,1454.0 3791.4,1448.8 3794.3,1450.8 3797.1,1453.9 3800.0,1453.8 3802.9,1451.1 3805.7,1449.9 3808.6,1450.2 3811.4,1449.1 3814.3,1450.5 3817.1,1451.3 3820.0,1451.9 3823.0,1454.8 3826.0,1453.4 3829.0,1450.8 3832.0,1454.8 3834.8,1451.9 3837.5,1451.3 3840.0,1450.4 3842.5,1448.7 3845.0,1446.2 3847.5,1445.4 3850.1,1448.5 3852.9,1444.6 3855.7,1443.7 3858.6,1445.2 3861.4,1444.7 3864.3,1444.2 3867.1,1443.8 3870.0,1438.3 3873.0,1437.9 3876.0,1439.0 3879.0,1439.5 3882.0,1440.7 3885.0,1439.1 3888.0,1436.7 3891.0,1435.6 3894.0,1434.2 3897.0,1433.8 3900.0,1433.5 3903.0,1430.9 3906.0,1428.1 3909.0,1426.2 3912.0,1427.6 3915.0,1427.7 3918.0,1426.5 3921.0,1425.3 3924.0,1424.2 3927.0,1421.8 3930.0,1421.5 3933.0,1417.9 3936.0,1417.6 3939.0,1416.1 3942.0,1417.5 3945.0,1415.9 3948.0,1416.9 3951.0,1419.1 3954.0,1422.3 3957.0,1420.7 3960.1,1419.9 3963.3,1422.5 3966.7,1419.1 3969.7,1421.1 3972.5,1420.8 3975.0,1422.9 3977.5,1422.0 3980.0,1426.7 3982.5,1427.6 3985.2,1428.3 3988.0,1434.2 3991.0,1435.1 3994.0,1440.9 3997.0,1438.9 4000.0,1437.7 4003.0,1438.6 4006.0,1441.8 4009.0,1440.6 4012.0,1441.5 4015.0,1442.0 4018.0,1439.4 4021.0,1440.0 4024.0,1438.8 4027.0,1436.8 4030.0,1439.4 4033.0,1439.4 4036.0,1437.6 4039.0,1434.7 4042.0,1431.2 4045.0,1433.5 4048.0,1432.7 4051.0,1429.0 4054.0,1429.9 4057.0,1427.0 4060.0,1427.9 4063.1,1427.9 4066.2,1427.6 4069.4,1426.6 4072.3,1425.2 4075.0,1421.7 4077.5,1420.4 4080.0,1419.7 4082.5,1421.1 4085.0,1423.9 4087.5,1426.6 4090.0,1430.3 4092.5,1426.2 4095.0,1430.4 4097.5,1432.0 4100.0,1437.5 4102.5,1438.5 4105.2,1435.8 4108.0,1439.0 4111.0,1439.7 4114.0,1443.3 4117.0,1442.3 4119.8,1444.5 4122.5,1446.3 4125.0,1448.0 4127.5,1449.0 4130.0,1448.5 4132.5,1452.9 4134.9,1456.6 4137.1,1457.9 4139.2,1458.7 4141.2,1462.3 4143.3,1465.7 4145.4,1467.5 4147.5,1469.8 4149.6,1474.1 4151.7,1473.3 4153.8,1475.1 4155.8,1475.2 4157.9,1478.3 4160.1,1480.6 4162.5,1482.4 4165.0,1484.7 4167.5,1490.6 4170.0,1490.9 4172.7,1492.1 4175.6,1497.0 4178.8,1495.5 4181.9,1492.6 4185.0,1495.6 4188.0,1494.5 4191.0,1499.0 4194.0,1495.5 4197.0,1495.6 4200.0,1493.7 4203.0,1496.0 4206.0,1494.3 4209.0,1495.1 4212.0,1494.5 4215.0,1494.0 4218.0,1497.1 4221.0,1499.0 4224.0,1498.8 4227.0,1497.8 4230.0,1497.8 4233.0,1500.7 4236.0,1505.9 4239.0,1503.6 4242.0,1502.9 4245.0,1502.8 4248.0,1501.9 4251.0,1501.4 4254.0,1502.2 4257.0,1505.2 4259.6,1504.2 4261.9,1504.5 4263.8,1505.1 4265.6,1509.4 4267.9,1511.0 4270.6,1509.0 4273.8,1507.5 4276.9,1507.8 4280.0,1509.7 4283.1,1510.0 4286.2,1510.1 4289.4,1509.9 4292.5,1511.2 4295.6,1511.2 4298.8,1515.2 4301.9,1510.3 4303.4,1510.1" stroke="#6E6E6E"/>
<path d="M3323.5,789.6 3323.6,792.2 3323.6,794.9 3323.7,797.9 3323.7,801.6 3323.8,802.8 3323.9,806.1 3323.9,809.0 3324.0,811.5 3324.0,814.8 3324.1,817.9 3324.2,822.7 3324.2,824.5 3324.3,826.7 3324.3,830.0 3324.4,831.4 3324.5,834.1 3324.5,837.8 3324.6,840.1 3324.6,842.3 3324.7,845.2 3324.8,847.5 3324.8,852.0 3324.9,855.6 3324.9,859.7 3325.0,860.6 3325.0,862.9 3325.0,865.6 3325.0,868.9 3325.0,871.6 3325.0,874.9 3325.0,877.1 3325.0,878.9 3325.0,883.7 3325.0,885.6 3325.0,889.4 3325.0,891.5 3325.0,894.4 3325.0,895.9 3325.1,898.7 3325.2,902.7 3325.5,906.2 3325.7,908.5 3326.0,911.5 3326.2,912.7 3326.4,916.6 3326.7,919.2 3326.9,921.7 3327.1,925.6 3327.4,928.1 3327.6,930.5 3327.9,933.6 3328.1,936.6 3328.3,939.5 3328.6,942.8 3328.8,945.3 3329.0,949.2 3329.3,953.0 3329.5,955.7 3329.8,957.4 3330.1,959.5 3330.4,963.1 3330.8,965.6 3331.2,969.9 3331.6,972.2 3332.0,975.1 3332.4,977.1 3332.8,980.3 3333.2,982.1 3333.6,984.3 3333.9,988.5 3334.3,990.6 3334.7,993.7 3335.1,998.1 3335.5,1002.2 3335.9,1004.0 3336.3,1006.1 3336.7,1009.9 3337.1,1013.3 3337.6,1015.9 3338.1,1017.2 3338.6,1019.9 3339.2,1024.1 3339.7,1025.3 3340.3,1028.7 3340.8,1032.8 3341.4,1035.9 3341.9,1037.1 3342.5,1039.7 3343.1,1042.4 3343.6,1044.3 3344.2,1048.0 3344.7,1050.1 3345.3,1054.2 3345.8,1055.7 3346.4,1058.5 3346.9,1061.3 3347.6,1064.7 3348.4,1065.1 3349.3,1070.8 3350.2,1073.3 3351.1,1076.5 3352.0,1080.7 3352.9,1082.7 3353.8,1085.6 3354.6,1088.2 3355.5,1091.8 3356.4,1094.7 3357.3,1098.1 3358.2,1099.8 3359.1,1101.2 3360.1,1105.0 3361.2,1106.5 3362.5,1110.2 3363.8,1112.9 3365.0,1113.5 3366.2,1117.7 3367.5,1120.2 3368.8,1122.3 3370.6,1121.8 3373.0,1125.1 3376.1,1124.5 3379.2,1120.0 3381.8,1118.2 3383.8,1119.8 3385.0,1122.5 3386.2,1127.0 3387.5,1128.5 3388.8,1133.0 3389.8,1132.5 3390.7,1134.9 3391.4,1140.3 3392.0,1142.7 3392.7,1143.6 3393.4,1150.1 3394.1,1152.5 3394.8,1154.8 3395.5,1154.4 3396.1,1159.5 3396.8,1162.2 3397.5,1164.7 3398.2,1167.1 3398.9,1168.3 3399.5,1171.1 3400.2,1175.5 3400.9,1179.4 3401.6,1182.2 3402.3,1184.7 3403.0,1187.2 3403.6,1190.1 3404.3,1194.7 3405.1,1195.9 3405.9,1196.2 3406.8,1200.3 3407.7,1202.7 3408.6,1204.4 3409.5,1206.6 3410.5,1211.4 3411.4,1213.3 3412.3,1216.2 3413.2,1218.3 3414.1,1223.0 3415.1,1224.7 3416.1,1227.0 3417.3,1228.4 3418.4,1230.9 3419.5,1236.3 3420.7,1237.5 3421.8,1242.1 3423.0,1244.9 3424.1,1247.4 3425.2,1250.0 3426.4,1252.4 3427.6,1256.4 3428.9,1258.4 3430.3,1259.0 3431.7,1262.4 3433.1,1267.7 3434.4,1268.0 3435.8,1271.3 3437.2,1274.2 3438.6,1278.5 3440.2,1279.2 3441.9,1284.1 3443.8,1284.1 3445.6,1287.3 3447.5,1288.4 3449.4,1292.2 3451.2,1294.1 3453.1,1295.2 3455.1,1299.5 3457.1,1300.6 3459.3,1304.8 3461.4,1303.0 3463.6,1309.7 3465.7,1311.0 3467.9,1315.5 3470.1,1316.9 3472.5,1317.6 3475.0,1318.4 3477.5,1319.4 3480.0,1322.7 3482.5,1323.6 3485.2,1322.6 3488.0,1325.0 3491.0,1327.7 3494.0,1328.6 3497.0,1329.8 3499.6,1331.7 3501.9,1329.7 3503.8,1334.5 3505.6,1339.5 3507.5,1341.5 3509.4,1342.8 3511.2,1343.8 3513.1,1346.4 3515.1,1352.3 3517.1,1352.5 3519.3,1355.4 3521.4,1356.9 3523.6,1359.8 3525.7,1359.6 3527.9,1359.9 3530.1,1363.4 3532.5,1366.5 3535.0,1364.5 3537.5,1368.4 3540.0,1371.5 3542.5,1373.1 3545.2,1374.3 3548.0,1373.0 3551.0,1375.0 3554.0,1376.0 3557.0,1380.2 3560.0,1381.4 3562.9,1382.7 3565.7,1379.8 3568.6,1379.7 3571.4,1382.7 3574.3,1383.6 3577.1,1386.2 3580.0,1384.4 3582.9,1383.6 3585.7,1385.8 3588.6,1383.4 3591.4,1383.2 3594.3,1386.1 3597.1,1387.8 3600.0,1384.6 3602.9,1381.7 3605.7,1382.2 3608.6,1377.9 3611.4,1383.5 3614.3,1387.0 3617.1,1385.7 3619.9,1383.7 3622.5,1383.8 3625.0,1386.1 3627.5,1389.2 3630.0,1392.5 3632.6,1394.7 3635.4,1396.1 3638.3,1393.3 3641.2,1393.1 3644.2,1386.1 3647.1,1385.2 3650.0,1387.3 3652.9,1386.1 3655.7,1387.4 3658.6,1389.0 3661.4,1391.0 3664.3,1391.0 3667.1,1391.4 3670.0,1390.9 3672.9,1392.1 3675.7,1393.5 3678.6,1390.8 3681.4,1391.4 3684.3,1391.2 3687.1,1390.3 3690.0,1388.6 3692.9,1388.7 3695.7,1389.5 3698.6,1391.6 3701.4,1392.6 3704.3,1393.8 3707.1,1392.9 3710.0,1390.4 3713.0,1392.0 3716.0,1387.9 3719.0,1391.4 3722.0,1393.9 3725.0,1389.5 3728.0,1388.2 3731.0,1384.4 3734.0,1385.9 3737.0,1385.6 3740.0,1386.1 3742.9,1386.1 3745.7,1384.7 3748.6,1386.1 3751.4,1385.6 3754.3,1382.8 3757.1,1383.2 3760.0,1379.4 3762.9,1376.9 3765.7,1376.5 3768.6,1381.5 3771.4,1377.9 3774.3,1376.5 3777.1,1377.0 3780.0,1377.2 3783.0,1378.5 3786.0,1379.7 3789.0,1377.3 3792.0,1375.8 3795.0,1374.9 3798.0,1375.0 3801.0,1375.8 3804.0,1377.4 3807.0,1379.8 3810.0,1382.1 3813.0,1382.3 3816.0,1380.6 3819.0,1381.4 3822.0,1378.3 3825.0,1381.6 3828.0,1381.1 3831.0,1382.7 3834.0,1380.0 3837.0,1376.3 3840.0,1380.1 3843.0,1377.2 3846.0,1374.2 3849.0,1370.5 3852.0,1368.6 3855.0,1371.3 3858.0,1372.1 3861.0,1369.9 3864.0,1372.3 3867.0,1369.5 3869.8,1368.8 3872.5,1364.8 3875.0,1362.5 3877.5,1360.2 3880.0,1361.0 3882.5,1359.4 3885.2,1357.8 3888.0,1357.1 3891.0,1355.8 3894.0,1355.2 3897.0,1349.1 3900.0,1352.0 3903.0,1352.0 3906.0,1351.6 3909.0,1348.9 3912.0,1345.6 3914.8,1342.8 3917.5,1344.2 3920.0,1340.8 3922.5,1341.1 3925.0,1339.2 3927.5,1335.6 3930.2,1335.2 3933.0,1336.3 3936.0,1334.3 3939.0,1329.8 3942.0,1330.4 3945.0,1329.6 3948.0,1330.1 3951.0,1329.6 3954.0,1330.5 3957.0,1328.6 3960.1,1328.9 3963.3,1330.4 3966.7,1329.8 3969.7,1329.3 3972.5,1330.1 3975.0,1332.9 3977.5,1334.9 3980.0,1336.0 3982.5,1333.8 3985.0,1334.9 3987.5,1337.2 3990.0,1340.2 3992.5,1340.7 3995.0,1341.1 3997.5,1344.6 4000.2,1345.4 4003.0,1346.1 4006.0,1347.4 4009.0,1348.1 4012.0,1351.0 4015.0,1353.3 4018.0,1351.8 4021.0,1349.7 4024.0,1351.5 4027.0,1349.3 4030.0,1349.2 4033.0,1348.7 4036.0,1348.1 4039.0,1352.3 4042.0,1351.3 4045.0,1351.5 4048.0,1350.9 4051.0,1347.9 4054.0,1342.3 4057.0,1343.9 4060.0,1344.2 4063.0,1340.0 4066.0,1339.7 4069.0,1343.1 4072.0,1343.0 4075.0,1343.6 4078.0,1340.5 4081.0,1342.7 4084.0,1342.1 4087.0,1343.5 4090.0,1340.6 4093.0,1342.5 4096.0,1340.3 4099.0,1342.4 4102.0,1344.5 4105.0,1346.7 4108.0,1347.8 4111.0,1349.0 4114.0,1352.3 4117.0,1353.3 4119.7,1352.9 4122.0,1356.8 4124.0,1360.6 4126.0,1361.2 4128.0,1361.3 4130.0,1366.2 4132.0,1368.6 4134.0,1367.4 4136.0,1371.5 4138.0,1373.9 4140.0,1380.2 4142.0,1380.3 4144.0,1379.9 4146.0,1383.8 4148.0,1387.2 4150.4,1385.1 4153.3,1388.2 4156.7,1389.8 4159.7,1393.6 4162.5,1395.3 4165.0,1395.3 4167.5,1398.2 4170.2,1399.5 4173.0,1397.6 4176.0,1397.7 4179.0,1402.0 4182.0,1403.7 4185.0,1407.2 4188.0,1404.7 4191.0,1405.1 4194.0,1401.9 4197.0,1406.2 4200.0,1403.2 4203.0,1403.0 4206.0,1405.4 4209.0,1403.9 4212.0,1410.4 4215.0,1406.5 4218.0,1404.1 4221.0,1406.0 4224.0,1409.2 4227.0,1407.7 4230.0,1411.1 4233.0,1412.8 4236.0,1408.5 4239.0,1411.6 4242.0,1412.1 4245.0,1413.0 4248.0,1414.0 4251.0,1415.6 4254.0,1415.0 4257.0,1417.1 4260.0,1416.0 4263.0,1418.8 4266.0,1418.3 4269.0,1418.3 4272.0,1416.2 4275.0,1416.1 4278.1,1415.7 4281.2,1416.0 4284.4,1419.4 4287.4,1416.9 4290.4,1422.3 4293.3,1422.1 4296.2,1417.3 4299.2,1420.2 4302.1,1422.8 4303.5,1423.4" stroke="#6E6E6E"/>
<path d="M3323.7,652.6 3323.8,655.7 3324.2,659.9 3324.5,663.4 3324.9,666.1 3325.2,667.9 3325.6,670.6 3325.9,672.9 3326.3,674.5 3326.6,677.8 3327.0,682.0 3327.3,684.7 3327.7,687.0 3328.0,688.9 3328.4,692.4 3328.9,694.9 3329.3,698.2 3329.8,701.6 3330.2,702.0 3330.6,706.1 3331.1,708.0 3331.5,711.0 3331.9,713.6 3332.4,718.6 3332.8,721.7 3333.2,724.5 3333.7,726.1 3334.1,727.8 3334.6,731.3 3335.0,734.9 3335.4,737.7 3335.8,741.2 3336.2,743.2 3336.7,747.8 3337.1,750.1 3337.5,754.0 3337.9,755.5 3338.3,757.4 3338.8,759.2 3339.2,763.3 3339.6,766.7 3340.0,768.9 3340.4,771.7 3340.8,773.8 3341.2,776.2 3341.7,779.0 3342.1,780.3 3342.6,783.3 3343.1,787.3 3343.8,790.8 3344.4,794.8 3345.0,797.7 3345.6,800.4 3346.2,802.8 3346.9,803.2 3347.5,807.6 3348.1,810.1 3348.8,814.3 3349.4,816.8 3350.0,819.5 3350.7,822.0 3351.4,824.9 3352.0,825.9 3352.7,828.4 3353.4,834.0 3354.1,837.0 3354.8,838.8 3355.5,841.4 3356.1,844.0 3356.8,850.5 3357.5,851.7 3358.3,853.3 3359.0,854.9 3359.8,855.3 3360.6,859.9 3361.3,864.7 3362.1,867.6 3362.9,869.6 3363.7,871.1 3364.4,872.8 3365.2,876.5 3366.0,879.0 3366.7,880.8 3367.5,886.3 3368.3,887.2 3369.2,889.9 3370.0,890.6 3370.8,897.2 3371.7,899.3 3372.5,901.9 3373.3,905.1 3374.2,906.8 3375.0,909.5 3375.8,913.3 3376.7,915.2 3377.5,919.0 3378.3,923.1 3379.2,925.9 3380.0,929.5 3380.8,932.2 3381.7,935.7 3382.6,937.2 3383.5,939.7 3384.6,940.7 3385.6,944.0 3386.7,946.3 3387.7,949.7 3388.8,951.6 3389.8,955.7 3390.8,961.6 3391.9,961.6 3392.9,965.0 3394.0,968.1 3395.0,969.4 3396.0,972.1 3397.0,974.5 3398.0,978.2 3399.0,980.0 3400.0,986.1 3401.0,987.9 3402.0,990.7 3403.0,994.5 3404.0,996.7 3405.0,997.5 3406.0,1000.0 3407.0,1002.3 3408.0,1005.1 3409.0,1008.6 3410.1,1008.1 3411.2,1010.0 3412.3,1014.0 3413.5,1018.1 3414.6,1020.2 3415.8,1023.0 3416.9,1027.3 3418.1,1030.0 3419.2,1031.8 3420.4,1033.9 3421.5,1035.0 3422.7,1039.5 3423.8,1042.4 3424.9,1043.9 3426.0,1047.8 3427.0,1049.9 3428.0,1052.4 3429.0,1053.5 3430.0,1058.6 3431.0,1060.2 3432.0,1063.7 3433.0,1066.5 3434.0,1068.4 3435.0,1071.3 3436.0,1073.9 3437.0,1076.5 3438.0,1079.6 3439.0,1081.5 3440.0,1085.4 3440.9,1087.9 3441.8,1089.1 3442.7,1093.1 3443.6,1095.4 3444.5,1098.9 3445.5,1098.7 3446.4,1103.5 3447.3,1104.0 3448.2,1108.0 3449.1,1115.3 3450.2,1116.8 3451.4,1119.7 3452.9,1120.4 3454.3,1121.9 3455.7,1125.6 3457.1,1129.4 3458.6,1131.9 3460.0,1133.8 3461.6,1135.9 3463.1,1138.8 3464.7,1144.1 3466.2,1145.4 3467.8,1147.1 3469.4,1149.4 3470.9,1150.9 3472.5,1152.6 3474.1,1156.8 3475.6,1161.4 3477.2,1163.6 3478.8,1163.5 3480.3,1168.9 3481.9,1170.8 3483.4,1175.2 3485.0,1175.7 3486.6,1175.9 3488.1,1179.7 3489.7,1182.1 3491.2,1183.4 3492.8,1185.9 3494.4,1188.9 3495.9,1190.9 3497.5,1195.2 3499.1,1197.9 3500.6,1199.5 3502.2,1201.8 3503.8,1205.9 3505.3,1208.3 3506.9,1208.7 3508.4,1212.3 3510.0,1217.2 3511.6,1218.6 3513.1,1219.3 3514.7,1224.2 3516.2,1228.8 3517.8,1229.0 3519.4,1227.5 3520.9,1229.7 3522.6,1236.5 3524.3,1237.8 3526.1,1241.1 3527.9,1243.6 3529.6,1245.7 3531.4,1250.0 3533.2,1251.2 3535.1,1253.8 3537.1,1256.0 3539.2,1258.3 3541.2,1263.8 3543.3,1262.4 3545.4,1263.4 3547.6,1268.4 3550.0,1268.1 3552.5,1271.4 3555.0,1272.0 3557.5,1276.6 3560.2,1277.5 3563.1,1279.4 3566.2,1277.6 3569.4,1278.3 3572.3,1274.3 3575.0,1277.8 3577.5,1277.2 3580.0,1275.5 3582.5,1274.1 3585.2,1272.2 3588.0,1271.3 3591.0,1273.7 3594.0,1269.7 3597.0,1267.8 3600.0,1268.6 3603.0,1267.7 3606.0,1265.4 3609.0,1268.1 3612.0,1268.8 3615.0,1265.5 3618.0,1268.4 3621.0,1264.3 3624.0,1268.5 3627.0,1264.9 3630.0,1267.8 3633.0,1268.7 3636.0,1269.6 3639.0,1272.3 3642.0,1271.5 3645.0,1272.2 3648.0,1272.2 3651.0,1277.2 3654.0,1275.8 3657.0,1277.4 3660.0,1276.9 3662.9,1278.7 3665.7,1275.0 3668.6,1273.5 3671.4,1273.0 3674.3,1273.8 3677.1,1271.9 3680.0,1273.3 3683.0,1274.1 3686.0,1275.5 3689.0,1275.3 3692.0,1277.0 3695.0,1274.9 3698.0,1274.6 3701.0,1275.1 3704.0,1276.1 3707.0,1276.2 3709.8,1280.0 3712.5,1281.8 3715.0,1280.2 3717.5,1283.8 3720.0,1285.2 3722.5,1286.5 3725.0,1289.0 3727.5,1293.2 3730.0,1294.1 3732.5,1292.2 3735.0,1296.3 3737.5,1296.9 3740.2,1302.1 3743.0,1301.5 3746.0,1302.9 3749.0,1304.2 3752.0,1304.6 3755.0,1306.1 3758.0,1307.7 3761.0,1312.6 3764.0,1311.2 3767.0,1311.8 3770.0,1311.7 3773.0,1312.0 3776.0,1312.6 3779.0,1314.9 3782.0,1307.9 3785.0,1310.0 3788.0,1310.7 3791.0,1314.3 3794.0,1312.9 3797.0,1315.9 3800.0,1317.4 3802.9,1314.9 3805.7,1315.9 3808.6,1314.2 3811.4,1316.0 3814.3,1315.9 3817.1,1317.1 3820.0,1316.9 3822.9,1314.0 3825.8,1318.0 3828.8,1317.5 3831.7,1319.6 3834.6,1319.3 3837.6,1320.5 3840.6,1316.6 3843.8,1318.4 3846.9,1314.4 3849.9,1313.7 3852.9,1314.1 3855.7,1310.4 3858.6,1311.9 3861.4,1311.3 3864.3,1312.0 3867.1,1310.3 3870.0,1307.6 3872.9,1306.0 3875.7,1305.5 3878.6,1306.5 3881.4,1305.8 3884.3,1306.5 3887.1,1307.9 3890.0,1304.7 3892.9,1302.9 3895.7,1303.2 3898.6,1303.0 3901.4,1297.9 3904.3,1298.3 3907.1,1299.2 3909.9,1299.7 3912.5,1297.2 3915.0,1294.4 3917.5,1297.2 3920.0,1289.2 3922.5,1292.4 3925.0,1289.3 3927.5,1287.6 3930.0,1286.4 3932.5,1285.5 3935.0,1282.0 3937.5,1279.1 3940.0,1279.6 3942.5,1280.3 3945.0,1277.2 3947.5,1279.1 3950.0,1273.3 3952.5,1273.5 3954.9,1271.9 3957.1,1271.4 3959.3,1266.3 3961.4,1265.8 3963.6,1263.3 3965.7,1258.0 3967.9,1257.6 3969.9,1254.7 3971.9,1253.9 3973.8,1253.5 3975.6,1250.9 3977.5,1251.3 3979.4,1248.4 3981.2,1244.2 3983.1,1241.7 3985.0,1240.4 3986.9,1237.0 3988.8,1236.1 3990.6,1234.5 3992.5,1233.0 3994.4,1230.0 3996.2,1227.5 3998.1,1223.4 4000.2,1222.5 4002.5,1220.3 4005.0,1218.7 4007.5,1217.1 4010.0,1213.6 4012.5,1211.4 4015.2,1209.1 4018.0,1206.7 4021.0,1204.1 4024.0,1203.6 4027.0,1205.1 4030.0,1200.5 4032.9,1203.4 4035.7,1204.9 4038.6,1205.6 4041.4,1203.5 4044.3,1202.6 4047.1,1204.7 4050.0,1204.9 4052.9,1206.8 4055.7,1204.1 4058.6,1203.3 4061.4,1206.0 4064.3,1204.5 4067.1,1204.7 4070.0,1207.7 4073.0,1208.7 4076.0,1208.3 4079.0,1210.7 4082.0,1211.5 4084.7,1214.7 4087.0,1216.2 4089.0,1216.9 4091.0,1222.3 4093.0,1223.4 4094.9,1225.5 4096.7,1227.0 4098.3,1230.0 4100.0,1232.1 4101.7,1235.7 4103.3,1238.6 4105.1,1242.0 4106.9,1244.2 4108.8,1244.6 4110.6,1245.8 4112.5,1247.6 4114.4,1252.0 4116.2,1252.6 4118.1,1257.4 4120.0,1258.6 4121.9,1260.2 4123.8,1262.5 4125.6,1266.9 4127.5,1267.6 4129.4,1268.6 4131.2,1269.4 4133.1,1270.4 4135.0,1273.4 4136.9,1278.5 4138.8,1280.8 4140.6,1281.2 4142.5,1280.4 4144.4,1286.5 4146.2,1289.0 4148.1,1287.9 4150.4,1291.2 4153.0,1292.1 4156.0,1296.6 4159.0,1298.6 4162.0,1298.2 4165.0,1296.2 4168.0,1299.4 4171.0,1305.9 4174.0,1305.3 4177.0,1304.1 4180.0,1306.8 4183.1,1305.9 4186.2,1309.9 4189.4,1306.2 4192.3,1306.9 4195.0,1310.0 4197.5,1309.2 4200.0,1307.1 4202.5,1302.4 4204.8,1301.8 4206.8,1301.0 4208.6,1297.4 4210.4,1295.1 4212.1,1293.8 4213.9,1290.1 4215.7,1288.3 4217.2,1285.0 4218.4,1281.0 4219.3,1277.5 4220.2,1275.4 4221.1,1272.7 4222.0,1272.1 4223.0,1269.0 4223.9,1264.0 4224.8,1264.2 4225.7,1263.6 4226.6,1258.4 4227.4,1255.8 4228.2,1252.2 4228.8,1249.9 4229.4,1246.5 4230.1,1243.7 4230.8,1240.3 4231.4,1236.5 4232.1,1233.5 4232.7,1230.1 4233.3,1227.0 4234.2,1224.1 4235.2,1224.6 4236.5,1220.7 4237.8,1218.9 4239.4,1213.3 4241.3,1214.3 4243.7,1218.7 4245.5,1222.2 4246.9,1224.1 4247.9,1225.7 4248.8,1226.9 4249.7,1231.1 4250.6,1232.3 4251.6,1236.8 4252.5,1239.3 4253.6,1241.8 4254.6,1244.5 4255.7,1246.3 4256.8,1249.1 4257.9,1253.8 4258.9,1256.1 4260.3,1258.4 4262.0,1263.1 4264.0,1266.0 4266.0,1268.2 4268.0,1268.0 4270.4,1272.7 4273.1,1274.3 4276.2,1272.3 4279.4,1272.7 4282.6,1276.0 4285.8,1278.2 4289.2,1276.8 4292.4,1275.2 4295.6,1279.0 4298.8,1277.1 4301.9,1278.9 4303.4,1278.1" stroke="#6E6E6E"/>
<path d="M3322.7,343.5 3322.9,345.8 3323.3,348.3 3323.8,350.9 3324.2,353.2 3324.6,356.5 3325.0,360.8 3325.3,363.6 3325.7,366.9 3326.0,369.3 3326.3,372.1 3326.7,374.8 3327.0,375.8 3327.3,380.4 3327.7,383.6 3328.0,386.5 3328.3,387.4 3328.7,389.6 3329.0,392.9 3329.3,396.3 3329.6,400.1 3329.8,402.9 3330.1,406.2 3330.4,408.1 3330.7,411.5 3331.0,414.5 3331.3,416.5 3331.5,421.1 3331.8,423.5 3332.1,426.8 3332.4,428.1 3332.7,430.3 3333.0,433.2 3333.2,436.3 3333.5,439.8 3333.8,442.6 3334.1,444.7 3334.4,446.8 3334.7,449.8 3334.9,454.2 3335.2,455.8 3335.5,459.1 3335.8,462.3 3336.1,463.6 3336.4,467.3 3336.7,471.7 3337.0,472.1 3337.3,475.7 3337.6,479.0 3337.9,481.4 3338.2,485.3 3338.5,488.1 3338.8,489.7 3339.0,494.2 3339.3,497.5 3339.6,500.8 3339.9,504.3 3340.2,506.5 3340.5,508.9 3340.8,510.3 3341.1,514.5 3341.4,516.7 3341.7,519.5 3342.0,521.6 3342.3,524.4 3342.6,527.7 3342.9,532.3 3343.2,532.7 3343.5,535.2 3343.8,539.4 3344.2,543.8 3344.5,546.4 3344.8,546.9 3345.1,548.3 3345.4,553.2 3345.7,555.8 3346.2,558.1 3346.8,563.1 3347.6,567.0 3348.4,569.4 3349.2,572.4 3350.0,575.6 3350.7,579.8 3351.4,582.0 3352.1,584.6 3352.9,587.4 3353.6,588.0 3354.3,593.0 3355.0,596.3 3355.7,598.9 3356.4,599.0 3357.1,602.3 3357.9,606.9 3358.6,607.5 3359.3,611.3 3360.0,615.8 3360.7,616.7 3361.4,622.0 3362.1,624.6 3362.9,626.6 3363.6,629.7 3364.3,633.0 3365.0,635.4 3365.7,639.2 3366.4,640.5 3367.1,643.1 3367.9,647.4 3368.6,649.6 3369.3,651.3 3370.1,655.7 3370.9,659.6 3371.8,660.6 3372.7,661.7 3373.6,665.2 3374.5,668.2 3375.5,670.9 3376.4,675.5 3377.3,676.2 3378.2,680.7 3379.1,681.2 3380.2,683.7 3381.4,688.2 3382.9,692.2 3384.3,695.2 3385.7,697.4 3387.1,699.8 3388.6,702.5 3390.0,705.7 3391.4,707.6 3392.9,710.4 3394.3,713.4 3395.7,715.3 3397.1,718.6 3398.6,721.1 3400.1,725.5 3401.7,726.5 3403.3,727.5 3405.0,729.5 3406.7,732.3 3408.3,736.2 3410.6,737.2 3413.3,739.8 3416.7,744.2 3419.6,737.7 3422.2,737.3 3424.5,737.0 3426.8,735.4 3428.5,734.9 3429.8,734.9 3430.5,738.7 3431.2,741.4 3432.0,743.4 3432.8,749.0 3433.5,750.6 3434.2,752.0 3435.0,754.8 3435.7,757.4 3436.4,760.3 3437.0,760.2 3437.7,764.4 3438.4,769.2 3439.1,770.3 3439.8,773.7 3440.5,777.7 3441.1,780.8 3441.8,784.3 3442.6,783.9 3443.3,787.0 3444.2,789.9 3445.0,793.8 3445.8,797.5 3446.7,796.4 3447.5,802.0 3448.3,803.0 3449.2,807.5 3450.0,808.4 3450.9,812.4 3451.8,816.7 3452.7,818.4 3453.6,821.2 3454.5,824.6 3455.5,826.9 3456.4,829.2 3457.3,833.6 3458.2,836.3 3459.1,837.6 3460.1,843.3 3461.1,842.5 3462.3,846.5 3463.4,848.2 3464.5,851.1 3465.7,854.5 3466.8,856.9 3468.0,860.0 3469.1,860.3 3470.2,862.2 3471.4,867.2 3472.5,868.8 3473.6,871.1 3474.8,873.1 3475.9,878.9 3477.0,882.0 3478.2,885.8 3479.3,886.0 3480.5,889.0 3481.6,890.4 3482.7,895.0 3483.9,899.3 3485.0,899.7 3486.2,904.5 3487.3,907.3 3488.5,908.7 3489.6,908.9 3490.8,914.7 3491.9,916.8 3493.1,918.7 3494.2,922.4 3495.4,925.5 3496.5,929.7 3497.7,929.9 3498.8,934.4 3500.0,938.1 3501.1,941.1 3502.2,942.0 3503.3,943.3 3504.4,947.6 3505.6,949.8 3506.7,952.3 3507.8,956.5 3508.9,957.7 3510.0,957.4 3511.2,961.4 3512.5,962.9 3513.8,968.5 3515.0,971.6 3516.2,973.5 3517.5,976.7 3518.8,980.6 3520.0,982.9 3521.2,987.1 3522.5,988.7 3523.8,992.4 3525.0,996.0 3526.2,999.3 3527.5,999.5 3528.8,1003.3 3530.1,1003.0 3531.4,1005.4 3532.9,1006.8 3534.3,1012.7 3535.7,1013.5 3537.1,1017.0 3538.6,1019.6 3540.2,1022.3 3542.0,1024.1 3544.0,1027.5 3546.0,1032.5 3548.0,1033.4 3550.2,1035.9 3552.5,1038.9 3555.0,1039.4 3557.5,1039.3 3560.0,1041.5 3562.6,1045.4 3565.4,1041.8 3568.3,1041.8 3571.2,1044.1 3574.2,1044.1 3577.1,1042.3 3580.0,1042.4 3583.0,1040.6 3586.0,1036.9 3589.0,1034.2 3592.0,1034.1 3594.8,1035.6 3597.5,1032.7 3600.0,1030.1 3602.5,1028.3 3605.0,1025.4 3607.5,1025.4 3610.2,1023.2 3613.0,1025.5 3616.0,1022.5 3619.0,1026.5 3622.0,1026.8 3625.0,1025.0 3627.9,1029.4 3630.7,1029.5 3633.6,1026.4 3636.4,1028.0 3639.3,1031.0 3642.1,1031.0 3645.0,1033.1 3648.0,1033.1 3651.0,1032.2 3654.0,1030.6 3657.0,1031.1 3660.0,1029.3 3663.0,1027.4 3666.0,1021.6 3669.0,1023.4 3672.0,1023.7 3674.8,1020.3 3677.5,1017.9 3680.0,1019.8 3682.5,1013.7 3685.0,1014.1 3687.5,1016.4 3690.3,1011.0 3693.3,1010.9 3696.7,1012.2 3699.9,1008.8 3703.0,1008.4 3706.0,1008.6 3709.0,1005.1 3712.0,1005.0 3714.7,1006.2 3717.1,1008.5 3719.3,1009.7 3721.4,1011.3 3723.6,1012.1 3725.7,1014.7 3727.9,1018.8 3729.9,1020.5 3731.9,1021.2 3733.8,1022.8 3735.6,1029.7 3737.5,1031.4 3739.4,1032.8 3741.2,1030.2 3743.1,1035.1 3745.0,1038.1 3746.9,1042.2 3748.8,1043.4 3750.6,1044.5 3752.5,1047.1 3754.4,1046.0 3756.2,1051.2 3758.1,1053.5 3760.1,1054.2 3762.1,1058.8 3764.3,1062.4 3766.4,1060.5 3768.6,1062.3 3770.7,1065.7 3772.9,1068.1 3775.1,1069.3 3777.5,1070.0 3780.0,1076.0 3782.5,1077.5 3785.0,1075.7 3787.5,1075.9 3790.2,1081.8 3793.0,1083.7 3796.0,1086.7 3799.0,1087.1 3802.0,1085.5 3805.0,1087.6 3808.0,1085.0 3811.0,1087.0 3814.0,1089.5 3817.0,1092.0 3820.0,1091.5 3822.9,1093.0 3825.8,1095.2 3828.8,1096.6 3831.7,1098.2 3834.6,1098.8 3837.6,1098.0 3840.6,1099.3 3843.8,1097.5 3846.9,1094.8 3849.9,1093.7 3852.9,1094.1 3855.7,1093.9 3858.6,1094.1 3861.4,1093.6 3864.3,1093.5 3867.1,1092.7 3870.0,1090.2 3872.9,1092.2 3875.7,1094.0 3878.6,1093.3 3881.4,1091.8 3884.3,1092.3 3887.1,1089.7 3890.0,1087.0 3892.9,1089.4 3895.7,1088.3 3898.6,1090.7 3901.4,1088.1 3904.3,1084.2 3907.1,1085.5 3910.0,1090.7 3912.9,1088.8 3915.7,1086.3 3918.6,1086.6 3921.4,1089.2 3924.3,1090.0 3927.1,1089.7 3930.0,1091.7 3932.9,1090.5 3935.7,1088.3 3938.6,1088.1 3941.4,1089.5 3944.3,1088.3 3947.1,1087.5 3950.0,1083.1 3952.9,1082.8 3955.7,1083.9 3958.6,1082.1 3961.4,1083.5 3964.3,1082.8 3967.1,1082.8 3970.2,1080.3 3973.3,1083.7 3976.7,1082.1 3979.8,1078.9 3982.9,1078.5 3985.7,1083.3 3988.6,1080.1 3991.4,1081.4 3994.3,1082.4 3997.1,1081.4 4000.0,1078.9 4002.9,1080.4 4005.7,1081.0 4008.6,1082.4 4011.4,1082.1 4014.3,1080.4 4017.1,1081.2 4020.0,1080.9 4022.9,1080.2 4025.7,1080.0 4028.6,1079.6 4031.4,1081.3 4034.3,1078.9 4037.1,1079.0 4040.0,1080.2 4042.9,1077.8 4045.7,1078.6 4048.6,1075.8 4051.4,1077.1 4054.3,1079.6 4057.1,1080.4 4060.0,1079.8 4063.0,1080.1 4066.0,1079.4 4069.0,1085.3 4072.0,1086.2 4074.8,1088.3 4077.5,1086.9 4080.0,1088.5 4082.5,1087.5 4085.0,1092.2 4087.5,1095.0 4090.0,1092.6 4092.5,1095.7 4095.0,1099.0 4097.5,1097.5 4100.0,1098.0 4102.5,1100.4 4105.0,1103.0 4107.5,1103.8 4110.0,1107.4 4112.5,1110.1 4115.0,1112.7 4117.5,1114.8 4120.0,1117.8 4122.5,1119.4 4125.0,1117.3 4127.5,1118.9 4130.0,1119.6 4132.5,1120.9 4135.2,1124.0 4138.1,1126.2 4141.2,1128.7 4144.4,1127.1 4147.5,1127.0 4150.6,1129.0 4153.8,1128.5 4156.9,1127.6 4160.0,1127.0 4163.0,1124.8 4166.0,1125.6 4169.0,1124.4 4172.0,1122.4 4175.0,1120.3 4178.0,1120.1 4181.0,1115.3 4184.0,1116.7 4187.0,1119.0 4190.0,1116.7 4193.0,1118.5 4196.0,1118.4 4199.0,1115.2 4202.0,1115.6 4204.7,1114.7 4207.0,1114.4 4209.0,1113.0 4211.0,1110.3 4213.0,1106.9 4214.7,1105.2 4216.1,1103.1 4217.2,1101.5 4218.4,1098.8 4219.5,1094.9 4220.6,1091.0 4221.8,1089.2 4222.9,1086.4 4223.9,1083.3 4224.8,1081.5 4225.6,1078.7 4226.3,1076.5 4227.1,1074.4 4227.9,1070.8 4228.7,1070.8 4229.4,1066.1 4230.2,1064.2 4231.2,1060.6 4232.3,1058.6 4233.6,1051.7 4234.9,1049.3 4236.2,1047.7 4238.2,1047.8 4240.8,1051.4 4243.2,1051.8 4244.9,1054.9 4245.7,1057.2 4246.6,1060.1 4247.4,1062.5 4248.3,1064.5 4249.1,1067.8 4250.1,1069.0 4251.1,1073.9 4252.1,1074.9 4253.2,1078.6 4254.3,1083.9 4255.4,1084.9 4256.4,1087.4 4257.7,1091.4 4259.2,1093.1 4260.8,1094.1 4262.5,1097.5 4264.2,1100.8 4265.8,1103.8 4268.0,1103.9 4270.6,1108.8 4273.8,1111.2 4276.9,1110.1 4280.0,1110.9 4283.1,1110.9 4286.2,1114.7 4289.4,1113.4 4292.5,1115.9 4295.6,1115.5 4298.8,1115.7 4301.9,1118.7 4303.4,1121.3" stroke="#6E6E6E"/>
<path d="M3335.2,161.7 3335.5,163.9 3335.9,168.5 3336.4,169.2 3336.8,173.4 3337.3,174.8 3337.7,180.4 3338.2,183.4 3338.6,187.5 3339.1,189.1 3339.5,192.4 3340.0,194.8 3340.4,197.1 3340.7,200.6 3341.1,202.4 3341.4,205.7 3341.8,209.7 3342.1,212.3 3342.5,214.7 3342.9,219.8 3343.2,221.4 3343.6,223.3 3343.9,226.5 3344.3,228.8 3344.6,231.6 3345.0,234.5 3345.4,239.6 3345.7,241.3 3346.1,244.0 3346.4,247.2 3346.8,251.4 3347.1,252.7 3347.5,254.6 3347.9,260.1 3348.3,260.2 3348.7,263.1 3349.1,267.0 3349.5,271.8 3349.9,272.3 3350.3,272.9 3350.7,278.0 3351.1,280.5 3351.4,283.4 3351.8,287.1 3352.2,290.0 3352.6,293.0 3353.0,295.3 3353.4,299.5 3353.8,303.1 3354.2,304.9 3354.6,306.9 3355.1,310.6 3355.6,313.5 3356.1,314.8 3356.7,317.6 3357.2,321.9 3357.8,324.1 3358.3,326.4 3358.9,329.6 3359.4,332.2 3360.0,335.0 3360.6,335.8 3361.1,341.6 3361.7,343.9 3362.2,345.4 3362.8,349.6 3363.3,352.2 3363.9,354.7 3364.4,358.4 3365.1,362.8 3365.8,364.3 3366.5,367.7 3367.3,371.2 3368.1,370.8 3368.8,372.9 3369.6,376.8 3370.4,377.2 3371.2,380.7 3371.9,385.3 3372.7,388.4 3373.5,390.8 3374.2,390.6 3375.0,397.0 3375.9,399.1 3376.8,401.8 3377.7,404.2 3378.6,404.3 3379.5,406.5 3380.5,409.2 3381.4,415.5 3382.3,416.4 3383.2,419.1 3384.1,421.8 3385.1,425.5 3386.1,428.5 3387.2,431.1 3388.3,432.1 3389.4,432.0 3390.6,437.6 3391.7,441.5 3392.8,445.8 3393.9,447.6 3395.1,449.4 3396.4,453.1 3397.9,453.9 3399.3,456.6 3400.7,459.5 3402.1,464.0 3403.6,469.7 3405.4,471.7 3407.5,474.3 3410.0,475.0 3412.5,476.5 3414.8,475.7 3417.0,474.9 3419.0,469.8 3421.0,468.5 3423.0,466.4 3424.7,469.4 3426.0,471.3 3427.0,474.9 3428.0,478.6 3429.0,479.6 3430.0,483.4 3430.9,487.6 3431.7,488.7 3432.4,492.0 3433.2,493.7 3433.9,494.5 3434.6,498.5 3435.3,500.6 3436.1,504.2 3436.8,506.6 3437.5,510.1 3438.3,510.5 3439.2,517.0 3440.0,520.4 3440.8,521.4 3441.7,523.0 3442.5,526.4 3443.3,530.1 3444.2,532.9 3445.0,535.7 3445.9,535.8 3446.8,538.5 3447.7,544.0 3448.6,546.5 3449.5,547.1 3450.5,549.9 3451.4,551.9 3452.3,554.9 3453.2,560.2 3454.1,562.3 3455.0,566.3 3456.0,568.4 3457.0,569.0 3458.0,572.0 3459.0,578.2 3460.0,578.6 3461.0,580.2 3462.0,585.3 3463.0,587.5 3464.0,589.9 3465.0,594.3 3466.0,593.8 3467.0,598.0 3468.0,599.5 3469.0,601.4 3470.0,604.6 3471.0,609.8 3472.0,611.9 3473.0,612.4 3474.0,615.2 3475.0,621.1 3476.1,624.4 3477.2,624.8 3478.3,631.0 3479.4,631.6 3480.6,632.6 3481.7,636.1 3482.8,640.4 3483.9,644.5 3485.0,647.0 3486.0,647.9 3487.0,649.9 3488.0,651.3 3489.0,655.2 3490.0,657.8 3491.0,661.4 3492.0,662.7 3493.0,665.9 3494.0,668.3 3495.0,670.6 3496.0,673.2 3497.0,676.1 3498.0,678.7 3499.0,683.4 3500.0,686.3 3501.0,687.5 3502.0,691.8 3503.0,694.9 3504.0,699.1 3505.0,700.4 3505.9,702.6 3506.8,704.6 3507.7,708.0 3508.6,711.4 3509.5,714.0 3510.5,716.2 3511.4,719.7 3512.3,722.1 3513.2,724.9 3514.1,726.3 3515.0,729.9 3516.0,731.5 3517.0,734.1 3518.0,737.9 3519.0,743.4 3520.0,745.8 3521.0,747.2 3522.0,749.3 3523.0,753.2 3524.0,756.8 3525.0,759.6 3526.0,760.8 3527.0,763.4 3528.0,765.5 3529.0,768.1 3530.0,770.1 3531.0,773.3 3532.0,774.0 3533.0,777.1 3534.0,781.9 3535.0,783.8 3536.1,788.0 3537.2,789.1 3538.3,792.4 3539.4,796.3 3540.6,797.7 3541.7,800.4 3542.8,807.0 3543.9,807.3 3545.1,809.0 3546.5,811.4 3548.0,814.7 3549.5,817.3 3551.0,821.3 3552.8,823.9 3555.0,824.5 3557.5,826.0 3560.0,826.2 3562.5,827.2 3565.2,828.9 3568.0,831.9 3571.0,830.8 3574.0,831.0 3577.0,830.7 3580.0,828.4 3583.0,832.0 3586.0,828.6 3589.0,827.4 3592.0,827.5 3594.7,829.9 3597.1,827.4 3599.3,824.3 3601.4,823.7 3603.6,823.4 3605.7,820.2 3607.9,817.6 3610.1,819.0 3612.5,819.7 3615.0,821.0 3617.5,819.6 3620.0,821.6 3622.5,823.4 3625.1,821.1 3627.9,825.9 3630.7,826.3 3633.6,826.2 3636.4,831.2 3639.3,829.9 3642.1,828.4 3645.0,829.5 3647.9,831.5 3650.7,832.9 3653.6,832.2 3656.4,830.9 3659.3,831.1 3662.1,831.3 3665.0,830.8 3667.9,832.3 3670.7,831.4 3673.6,831.5 3676.4,829.6 3679.3,828.3 3682.1,828.6 3685.0,828.3 3687.9,831.3 3690.7,829.0 3693.6,830.5 3696.4,830.9 3699.3,829.1 3702.1,832.5 3705.0,833.3 3708.0,830.7 3711.0,835.3 3714.0,838.5 3717.0,837.7 3719.8,842.6 3722.5,843.1 3725.0,842.8 3727.5,846.6 3730.0,847.9 3732.5,848.3 3734.9,848.6 3737.1,853.6 3739.3,855.4 3741.4,859.4 3743.6,861.8 3745.7,862.7 3747.9,864.4 3750.0,869.7 3752.1,872.9 3754.3,874.0 3756.4,874.2 3758.6,874.7 3760.7,877.2 3762.9,882.5 3765.3,883.8 3768.0,884.1 3771.0,883.5 3774.0,886.6 3777.0,886.9 3780.0,889.0 3782.9,891.3 3785.7,892.7 3788.6,891.6 3791.4,890.3 3794.3,891.1 3797.1,894.3 3800.0,893.1 3802.9,890.1 3805.7,894.9 3808.6,894.9 3811.4,901.1 3814.3,897.1 3817.1,896.9 3820.0,897.1 3823.0,899.0 3826.0,898.7 3829.0,897.7 3832.0,897.0 3835.0,899.8 3838.0,899.5 3841.0,898.1 3844.0,901.0 3847.0,898.9 3850.0,898.0 3852.9,894.4 3855.7,894.1 3858.6,892.7 3861.4,891.7 3864.3,892.6 3867.1,892.2 3870.0,891.2 3872.9,890.3 3875.7,886.9 3878.6,886.7 3881.4,888.5 3884.3,887.5 3887.1,886.2 3890.0,887.6 3892.9,885.5 3895.7,885.0 3898.6,887.4 3901.4,885.8 3904.3,888.2 3907.1,887.2 3910.0,887.0 3912.9,887.0 3915.7,880.7 3918.6,881.7 3921.4,879.5 3924.3,879.7 3927.1,879.9 3929.9,881.3 3932.5,878.4 3935.0,878.5 3937.5,873.9 3940.0,871.6 3942.5,869.7 3945.1,869.4 3947.9,866.9 3950.7,864.5 3953.6,863.4 3956.4,860.6 3959.3,863.3 3962.1,862.7 3965.0,861.3 3967.9,859.9 3970.7,857.2 3973.6,855.9 3976.4,856.8 3979.3,853.7 3982.1,851.9 3985.0,854.7 3987.9,855.3 3990.7,852.8 3993.6,851.9 3996.4,850.5 3999.3,851.7 4002.1,848.4 4005.0,848.0 4007.9,848.7 4010.7,851.0 4013.6,848.7 4016.4,849.0 4019.3,847.9 4022.1,847.4 4024.9,847.8 4027.5,850.0 4030.0,853.0 4032.5,852.5 4035.0,853.3 4037.5,854.8 4040.0,857.4 4042.5,859.8 4045.1,858.3 4047.9,861.1 4050.7,860.5 4053.6,863.8 4056.4,862.9 4059.3,863.1 4062.1,864.4 4065.0,866.8 4067.9,867.0 4070.7,870.0 4073.6,871.9 4076.4,873.4 4079.3,875.1 4082.1,877.6 4084.9,877.0 4087.5,879.0 4090.0,880.7 4092.5,879.3 4095.0,883.6 4097.5,884.5 4100.1,885.8 4102.9,887.6 4105.7,890.1 4108.6,892.2 4111.4,894.1 4114.3,893.9 4117.1,896.9 4120.0,898.4 4122.9,898.3 4125.7,899.5 4128.6,902.0 4131.4,903.0 4134.3,904.4 4137.1,904.7 4140.0,906.9 4142.9,909.9 4145.7,907.3 4148.6,902.5 4151.4,906.9 4154.3,904.1 4157.1,901.5 4160.0,898.7 4163.0,902.2 4166.0,903.9 4169.0,903.9 4172.0,900.9 4174.8,903.5 4177.5,902.8 4180.0,903.5 4182.5,906.1 4185.0,908.6 4187.5,910.6 4190.2,912.4 4193.0,908.2 4196.0,913.0 4199.0,910.5 4202.0,911.5 4204.7,908.4 4207.1,907.4 4209.2,904.7 4211.2,900.2 4213.3,899.7 4215.4,898.3 4217.0,893.7 4218.1,889.4 4218.8,887.6 4219.4,884.8 4220.0,883.0 4220.6,880.3 4221.2,879.1 4221.9,875.8 4222.5,871.8 4223.1,869.0 4223.8,863.0 4224.4,860.9 4225.1,858.4 4226.0,856.6 4227.0,854.8 4228.0,852.3 4229.0,850.5 4230.0,846.2 4231.0,846.1 4232.1,846.6 4233.2,849.3 4234.2,852.4 4235.3,854.5 4236.4,857.5 4237.4,860.1 4238.3,863.9 4239.2,865.8 4240.0,868.8 4240.8,874.1 4241.7,875.6 4242.5,877.8 4243.3,881.0 4244.2,881.7 4245.1,885.6 4246.1,888.9 4247.1,891.6 4248.2,895.0 4249.3,897.8 4250.4,901.2 4251.4,902.1 4252.7,905.4 4254.2,907.0 4255.8,911.4 4257.5,913.2 4259.2,913.5 4260.8,917.1 4262.6,918.5 4264.6,923.3 4266.7,924.8 4268.8,924.4 4270.8,928.4 4272.9,933.4 4275.1,935.5 4277.5,935.8 4280.0,938.8 4282.5,940.7 4285.0,943.8 4287.6,944.6 4290.4,944.3 4293.3,942.1 4296.2,943.5 4299.2,944.1 4302.1,944.0 4303.5,944.8" stroke="#6E6E6E"/>
<path d="M3322.7,341.6 3322.9,344.1 3323.3,345.4 3323.8,349.5 3324.2,351.7 3324.6,354.3 3325.0,359.2 3325.4,361.2 3325.8,363.6 3326.2,367.0 3326.7,370.5 3327.1,372.5 3327.5,375.7 3328.0,377.1 3328.4,380.0 3328.9,382.8 3329.4,384.7 3329.8,387.1 3330.3,389.6 3330.8,393.6 3331.2,397.0 3331.7,399.8 3332.2,403.0 3332.7,404.6 3333.1,408.2 3333.6,411.6 3334.1,415.1 3334.5,416.6 3335.0,419.4 3335.5,420.6 3335.9,424.4 3336.4,425.8 3336.9,429.0 3337.3,434.3 3337.8,434.8 3338.3,439.7 3338.8,442.8 3339.2,445.1 3339.7,448.5 3340.2,451.6 3340.6,455.0 3341.1,456.8 3341.6,458.9 3342.0,461.4 3342.6,463.8 3343.1,467.4 3343.8,469.9 3344.4,474.5 3345.0,475.0 3345.6,477.9 3346.2,480.9 3346.9,482.7 3347.5,489.3 3348.1,489.1 3348.8,493.1 3349.4,496.2 3350.1,501.4 3350.9,501.0 3351.8,506.1 3352.7,507.6 3353.6,510.5 3354.5,512.7 3355.5,516.8 3356.4,518.0 3357.3,521.3 3358.2,524.8 3359.1,529.5 3360.2,527.8 3361.5,533.7 3363.0,536.6 3364.5,537.4 3366.0,540.4 3367.5,542.0 3369.0,547.0 3370.5,548.5 3372.0,550.1 3373.5,552.2 3375.3,554.5 3377.5,556.7 3380.0,557.7 3382.5,563.8 3385.0,561.4 3387.5,559.4 3389.9,565.3 3392.1,568.7 3394.3,572.0 3396.4,573.7 3398.6,575.8 3400.7,578.6 3402.9,581.9 3405.3,582.2 3408.0,583.4 3411.0,588.4 3414.0,588.9 3417.0,587.6 3419.8,593.5 3422.5,594.3 3425.0,593.9 3427.5,594.2 3430.0,597.8 3432.3,598.9 3434.3,600.6 3436.1,602.6 3437.9,606.0 3439.6,611.0 3441.4,612.3 3443.2,613.0 3445.0,617.6 3446.9,619.8 3448.8,623.1 3450.6,626.2 3452.5,626.7 3454.4,628.4 3456.2,630.6 3458.1,631.2 3460.1,635.4 3462.1,639.2 3464.3,640.3 3466.4,641.4 3468.6,643.2 3470.7,644.5 3472.9,646.3 3475.1,648.8 3477.5,650.4 3480.0,652.9 3482.5,653.5 3485.0,657.9 3487.5,660.3 3490.0,660.8 3492.5,660.6 3495.0,665.3 3497.5,669.9 3500.0,670.1 3502.5,672.0 3505.0,673.8 3507.5,677.6 3510.0,678.0 3512.5,682.3 3515.0,683.3 3517.5,686.8 3520.0,687.8 3522.5,688.7 3525.0,687.9 3527.5,689.8 3530.0,692.1 3532.5,695.2 3535.2,696.6 3538.0,696.4 3541.0,698.9 3544.0,701.6 3547.0,701.6 3550.0,701.7 3553.0,702.3 3556.0,705.0 3559.0,705.9 3562.0,704.1 3565.0,706.1 3568.0,705.5 3571.0,705.0 3574.0,708.6 3577.0,709.3 3580.0,706.6 3582.9,706.9 3585.7,707.4 3588.6,705.2 3591.4,705.0 3594.3,706.0 3597.1,701.7 3600.0,703.7 3602.9,705.0 3605.7,704.9 3608.6,701.4 3611.4,703.0 3614.3,701.3 3617.1,703.2 3620.0,703.9 3622.9,703.4 3625.7,701.4 3628.6,701.0 3631.4,703.6 3634.3,701.2 3637.1,703.0 3640.0,703.4 3642.9,701.8 3645.8,705.5 3648.8,702.3 3651.7,704.5 3654.6,697.5 3657.5,694.4 3660.4,699.7 3663.3,701.3 3666.2,700.6 3669.2,701.2 3672.1,698.5 3675.1,700.1 3678.1,700.1 3681.2,701.8 3684.4,704.6 3687.5,704.2 3690.6,704.9 3693.8,703.4 3696.9,703.6 3699.9,704.9 3702.8,705.0 3705.6,708.1 3708.3,705.8 3711.1,710.3 3713.9,707.1 3716.7,710.0 3719.4,708.1 3722.2,712.1 3725.1,711.1 3728.1,711.5 3731.2,712.4 3734.4,710.4 3737.5,709.2 3740.6,707.1 3743.8,712.6 3746.9,711.2 3750.0,711.1 3753.1,712.3 3756.2,716.6 3759.4,711.5 3762.5,713.5 3765.6,713.3 3768.8,715.1 3771.9,711.7 3774.9,713.4 3777.8,716.7 3780.6,719.6 3783.3,721.3 3786.1,718.2 3788.9,719.2 3791.7,719.8 3794.4,718.4 3797.2,718.3 3800.1,722.4 3803.1,723.0 3806.2,722.4 3809.4,724.8 3812.5,721.4 3815.6,723.1 3818.8,722.7 3821.9,722.5 3824.9,723.3 3827.8,722.7 3830.6,722.4 3833.3,722.1 3836.1,724.7 3838.9,721.3 3841.7,722.2 3844.4,721.6 3847.2,719.4 3850.0,720.4 3852.8,717.5 3855.6,719.8 3858.3,716.8 3861.1,716.1 3863.9,716.9 3866.7,717.9 3869.4,718.0 3872.2,717.8 3875.1,715.5 3878.1,713.1 3881.2,714.8 3884.4,714.8 3887.5,712.3 3890.6,714.7 3893.8,713.9 3896.9,711.3 3900.0,712.8 3903.1,709.9 3906.2,709.5 3909.4,711.5 3912.5,708.4 3915.6,710.0 3918.8,707.8 3921.9,710.7 3925.0,708.9 3928.1,710.0 3931.2,707.4 3934.4,708.7 3937.5,711.7 3940.6,711.9 3943.8,707.8 3946.9,711.6 3950.0,712.9 3953.1,711.2 3956.2,714.0 3959.4,710.5 3962.5,711.2 3965.6,713.8 3968.8,715.2 3971.9,715.8 3975.0,711.7 3978.1,709.1 3981.2,712.3 3984.4,710.2 3987.5,712.0 3990.6,710.6 3993.8,714.6 3996.9,715.6 4000.0,715.7 4003.1,714.7 4006.2,714.6 4009.4,713.9 4012.5,715.1 4015.6,715.3 4018.8,715.8 4021.9,714.5 4025.0,718.4 4028.1,716.8 4031.2,718.5 4034.4,719.0 4037.5,715.1 4040.6,712.3 4043.8,716.9 4046.9,715.6 4050.0,716.0 4053.1,715.4 4056.2,715.8 4059.4,713.4 4062.5,714.5 4065.6,714.2 4068.8,714.8 4071.9,710.6 4075.0,715.0 4078.1,715.7 4081.2,712.2 4084.4,712.9 4087.5,714.7 4090.6,716.5 4093.8,716.1 4096.9,718.6 4100.0,717.0 4103.1,714.7 4106.2,714.6 4109.4,717.3 4112.5,715.9 4115.6,718.2 4118.8,719.5 4121.9,719.2 4125.0,720.2 4128.0,719.0 4131.0,719.7 4134.0,719.6 4137.0,720.1 4140.1,718.4 4143.3,719.5 4146.7,718.2 4149.9,716.7 4153.1,718.7 4156.2,719.9 4159.4,718.6 4162.5,721.1 4165.6,721.0 4168.8,720.9 4171.9,717.7 4175.0,714.7 4178.1,717.2 4181.2,717.5 4184.4,718.1 4187.5,717.5 4190.6,718.7 4193.8,716.1 4196.9,716.6 4199.8,713.5 4202.5,709.3 4205.0,709.6 4207.5,711.6 4210.0,706.3 4212.5,707.5 4214.5,703.9 4216.1,701.4 4217.1,699.1 4218.2,696.6 4219.3,692.5 4220.4,690.5 4221.4,688.3 4222.6,686.2 4224.0,681.7 4225.5,681.3 4227.0,680.1 4228.6,682.0 4230.3,676.5 4232.2,679.8 4233.7,680.3 4235.0,685.1 4236.0,688.9 4237.0,690.1 4238.0,692.0 4239.0,696.5 4240.5,700.3 4242.5,701.0 4245.0,703.0 4247.5,701.5 4250.2,704.4 4253.0,707.5 4256.0,708.9 4259.0,712.4 4262.0,709.3 4265.0,706.1 4268.0,709.8 4271.0,708.9 4274.0,709.9 4277.0,710.8 4280.0,711.2 4283.1,713.4 4286.2,715.2 4289.4,711.8 4292.5,713.2 4295.6,716.6 4298.8,712.4 4301.9,712.2 4303.4,710.3" stroke="#6E6E6E"/>
<path d="M3339.8,165.4 3340.0,166.2 3340.4,167.9 3340.7,169.5 3341.1,171.6 3341.5,175.2 3341.9,177.3 3342.3,179.4 3342.6,183.6 3343.0,186.8 3343.4,190.1 3343.8,191.7 3344.1,195.0 3344.5,197.9 3344.9,199.3 3345.3,203.6 3345.7,206.7 3346.1,211.7 3346.8,213.2 3347.5,215.2 3348.2,219.2 3348.9,221.3 3349.6,224.7 3350.3,226.4 3351.0,229.5 3351.8,233.3 3352.6,236.2 3353.5,238.5 3354.6,239.9 3355.7,244.1 3356.8,247.1 3357.8,250.8 3358.9,253.5 3359.8,257.3 3360.7,259.3 3361.7,262.2 3362.6,265.6 3363.5,266.8 3364.4,269.8 3365.4,272.6 3366.5,278.2 3367.6,279.3 3368.7,282.3 3369.8,284.9 3371.0,286.5 3372.1,287.2 3373.2,292.1 3374.5,293.8 3375.9,297.5 3377.4,297.9 3378.9,300.8 3380.4,305.7 3381.9,309.4 3383.9,307.8 3386.4,307.3 3389.4,309.4 3391.7,312.5 3393.4,314.1 3394.4,317.0 3395.5,318.4 3396.5,322.6 3398.0,326.3 3400.1,326.7 3402.7,326.3 3405.2,328.2 3407.8,332.4 3410.4,331.1 3412.8,334.5 3415.0,335.6 3417.1,338.6 3419.1,340.9 3421.2,343.4 3423.2,347.8 3425.2,349.5 3427.1,353.0 3429.0,353.9 3430.7,355.7 3432.0,359.3 3433.0,359.0 3434.1,364.1 3435.1,368.1 3436.4,369.6 3437.8,373.9 3439.6,375.8 3441.3,375.6 3443.0,380.2 3444.7,382.4 3446.4,385.5 3448.1,388.7 3449.9,393.4 3451.6,395.2 3453.3,397.3 3455.0,400.3 3456.6,400.1 3458.2,405.7 3459.7,406.3 3461.1,410.2 3462.6,411.2 3464.1,413.4 3465.5,416.6 3467.2,422.4 3469.1,424.5 3471.1,425.2 3473.2,427.5 3475.3,428.8 3477.3,432.5 3479.4,434.7 3481.4,438.9 3483.5,439.2 3485.5,442.4 3487.8,444.0 3490.2,445.9 3492.8,449.6 3495.3,451.0 3497.9,453.2 3500.5,456.0 3503.1,458.1 3505.6,456.1 3508.2,459.5 3510.8,458.4 3513.3,461.9 3515.9,467.5 3518.5,467.8 3521.1,469.2 3523.3,472.0 3525.1,474.4 3526.6,477.0 3528.1,478.5 3529.5,483.1 3531.0,486.1 3532.5,487.5 3534.2,490.1 3536.1,493.0 3538.2,495.9 3540.4,497.4 3542.5,499.8 3544.7,500.6 3547.1,500.7 3549.9,502.5 3553.0,506.4 3556.1,508.5 3559.2,508.7 3562.3,508.1 3565.3,509.7 3568.4,512.8 3571.5,513.4 3574.6,510.1 3577.7,510.0 3580.8,507.2 3583.9,506.4 3587.0,508.1 3590.1,508.1 3593.1,509.5 3596.2,510.4 3599.3,509.8 3602.4,510.3 3605.5,506.9 3608.6,504.3 3611.7,505.7 3614.8,509.0 3617.9,505.6 3620.9,501.2 3624.0,501.6 3627.0,503.8 3630.0,500.0 3633.0,501.9 3636.0,499.8 3639.0,502.5 3642.0,502.4 3645.0,501.8 3648.0,505.2 3651.0,503.6 3654.0,503.6 3657.0,508.7 3660.0,507.0 3662.9,512.3 3665.7,511.5 3668.6,510.5 3671.4,512.8 3674.3,514.7 3677.1,516.4 3679.9,517.3 3682.5,520.6 3685.0,517.3 3687.5,519.9 3690.0,522.2 3692.5,527.2 3695.0,523.9 3697.5,526.2 3700.1,526.2 3702.9,527.2 3705.7,530.0 3708.6,530.8 3711.4,533.1 3714.3,530.4 3717.1,531.2 3720.0,533.4 3722.9,534.2 3725.7,533.1 3728.6,535.8 3731.4,533.8 3734.3,538.4 3737.1,537.8 3740.0,537.5 3742.9,538.3 3745.7,539.7 3748.6,542.0 3751.4,539.4 3754.3,538.3 3757.1,539.8 3760.0,537.8 3762.9,535.7 3765.7,539.9 3768.6,539.3 3771.4,542.0 3774.3,539.2 3777.1,535.1 3780.0,540.0 3782.9,542.2 3785.7,546.4 3788.6,547.0 3791.4,547.8 3794.3,549.5 3797.1,549.4 3800.0,550.8 3802.9,549.1 3805.7,552.0 3808.6,550.9 3811.4,551.4 3814.3,553.9 3817.1,555.5 3820.0,552.5 3822.9,556.8 3825.7,553.2 3828.6,554.2 3831.4,554.5 3834.3,553.0 3837.1,552.2 3840.0,554.4 3842.9,553.3 3845.7,551.8 3848.6,546.9 3851.4,546.8 3854.3,549.8 3857.1,548.8 3860.0,546.2 3862.9,545.8 3865.7,546.3 3868.6,548.4 3871.4,548.5 3874.3,549.8 3877.1,546.7 3880.0,549.1 3882.9,547.1 3885.7,546.8 3888.6,550.5 3891.4,548.7 3894.3,547.7 3897.1,547.2 3900.0,546.5 3902.8,549.7 3905.6,550.1 3908.3,548.8 3911.1,547.1 3913.9,547.8 3916.7,545.8 3919.4,545.8 3922.2,545.5 3925.1,544.7 3928.1,547.3 3931.2,548.5 3934.4,548.1 3937.5,541.8 3940.6,546.7 3943.8,546.3 3946.9,543.9 3949.9,544.1 3952.8,546.4 3955.6,547.6 3958.3,547.7 3961.1,546.7 3963.9,546.4 3966.7,548.0 3969.4,547.1 3972.2,545.6 3975.1,545.8 3978.1,546.8 3981.2,548.2 3984.4,552.4 3987.5,547.2 3990.6,549.0 3993.8,548.6 3996.9,549.4 3999.9,551.7 4002.8,552.6 4005.6,550.6 4008.3,549.5 4011.1,547.9 4013.9,549.9 4016.7,553.2 4019.4,551.9 4022.2,553.4 4025.1,554.2 4028.1,554.2 4031.2,555.6 4034.4,554.1 4037.5,552.5 4040.6,551.5 4043.8,555.2 4046.9,554.3 4050.0,554.2 4053.1,556.3 4056.2,554.0 4059.4,558.0 4062.5,557.3 4065.6,554.8 4068.8,553.7 4071.9,556.6 4074.9,553.5 4077.8,553.7 4080.6,555.3 4083.3,556.5 4086.1,556.9 4088.9,557.9 4091.7,557.3 4094.4,557.8 4097.2,560.7 4100.0,560.9 4102.8,559.3 4105.6,562.8 4108.3,557.6 4111.1,559.8 4113.9,561.9 4116.7,563.4 4119.4,562.7 4122.2,561.7 4125.1,563.4 4128.1,562.8 4131.2,564.0 4134.4,558.5 4137.5,562.7 4140.6,562.3 4143.8,565.5 4146.9,566.5 4150.0,566.8 4153.1,564.6 4156.2,565.1 4159.4,563.7 4162.5,564.0 4165.6,563.3 4168.8,561.5 4171.9,565.8 4174.9,564.8 4177.8,559.1 4180.6,562.0 4183.3,558.6 4186.1,559.1 4188.9,558.3 4191.7,557.7 4194.4,558.5 4197.2,557.5 4200.0,554.7 4202.9,555.9 4205.8,556.6 4208.8,559.0 4211.7,555.6 4214.6,552.7 4217.2,552.2 4219.4,552.3 4221.2,548.5 4223.1,545.9 4224.7,545.0 4226.0,542.2 4227.0,539.4 4228.0,535.6 4229.0,532.2 4230.0,529.6 4231.1,527.1 4232.4,524.1 4233.8,522.1 4235.1,519.7 4236.5,519.4 4238.0,519.9 4239.5,521.0 4241.0,523.0 4242.4,527.9 4243.8,530.6 4245.0,533.5 4246.2,534.9 4247.5,538.5 4248.8,541.1 4250.1,543.4 4251.7,546.2 4253.3,547.6 4255.0,551.8 4256.7,556.3 4258.3,557.0 4260.3,559.8 4262.5,560.4 4265.0,564.4 4267.5,569.1 4270.3,566.0 4273.3,566.3 4276.7,568.3 4280.0,567.3 4283.3,567.0 4286.7,564.4 4289.9,566.9 4293.0,569.6 4296.0,570.7 4299.0,569.3 4302.0,566.3 4303.5,564.9" stroke="#6E6E6E"/>
<path d="M3322.6,382.1 3322.8,385.2 3323.0,387.5 3323.2,390.2 3323.5,392.6 3323.8,395.0 3324.0,398.0 3324.2,400.3 3324.5,402.3 3324.8,404.8 3325.0,407.2 3325.2,411.3 3325.5,414.8 3325.8,418.9 3326.0,421.2 3326.3,423.6 3326.6,426.7 3326.9,429.0 3327.1,430.0 3327.4,434.8 3327.7,437.0 3328.0,440.3 3328.3,442.8 3328.6,448.5 3328.9,450.7 3329.1,452.7 3329.4,453.8 3329.7,457.9 3330.0,459.5 3330.3,463.9 3330.6,464.8 3330.9,468.3 3331.1,472.3 3331.4,473.9 3331.7,477.2 3332.0,480.3 3332.3,483.9 3332.6,485.7 3332.9,489.3 3333.1,493.7 3333.4,493.8 3333.7,496.3 3334.0,500.2 3334.3,502.4 3334.6,504.4 3334.9,509.6 3335.1,512.8 3335.4,515.9 3335.7,518.8 3336.0,521.4 3336.3,522.7 3336.6,523.5 3336.9,528.4 3337.2,530.5 3337.5,534.1 3337.9,537.6 3338.2,539.1 3338.5,542.3 3338.8,547.3 3339.1,550.0 3339.4,550.5 3339.7,553.9 3340.0,557.1 3340.3,560.7 3340.6,563.9 3341.0,566.2 3341.3,568.6 3341.6,572.4 3341.9,573.4 3342.2,578.0 3342.5,580.8 3342.9,582.8 3343.3,585.3 3343.7,588.9 3344.1,590.3 3344.5,591.8 3344.9,596.9 3345.3,601.6 3345.7,603.6 3346.1,606.4 3346.4,609.1 3346.8,611.0 3347.2,614.9 3347.6,618.6 3348.0,621.0 3348.4,624.5 3348.8,625.8 3349.2,629.4 3349.6,631.5 3350.1,634.3 3350.6,637.9 3351.2,640.9 3351.9,644.5 3352.5,647.4 3353.1,648.3 3353.8,653.0 3354.4,653.5 3355.0,657.0 3355.6,660.5 3356.2,663.1 3356.9,666.5 3357.5,669.0 3358.1,670.6 3358.8,674.9 3359.4,677.3 3360.0,679.0 3360.8,682.4 3361.5,685.3 3362.3,688.4 3363.1,690.2 3363.8,693.5 3364.6,696.0 3365.4,700.6 3366.2,701.7 3366.9,705.7 3367.7,707.4 3368.5,711.0 3369.2,715.4 3370.1,715.7 3371.1,718.2 3372.2,719.6 3373.3,722.2 3374.4,725.0 3375.6,728.6 3376.7,732.7 3377.8,735.9 3378.9,737.1 3380.1,740.2 3381.4,741.0 3382.8,745.7 3384.2,748.1 3385.6,749.7 3386.9,752.5 3388.3,756.9 3389.7,759.6 3391.1,763.1 3392.5,764.8 3393.9,768.0 3395.4,770.5 3396.8,771.6 3398.2,775.5 3399.6,778.8 3401.1,781.1 3402.7,785.4 3404.5,790.3 3406.5,792.3 3408.5,792.2 3410.5,791.6 3412.5,792.7 3414.5,791.7 3416.5,790.8 3418.5,790.7 3420.5,787.5 3422.2,784.4 3423.5,789.1 3424.5,791.4 3425.5,795.7 3426.5,796.6 3427.3,802.5 3428.0,802.4 3428.6,805.7 3429.1,809.4 3429.6,809.1 3430.2,812.7 3430.7,815.0 3431.2,821.0 3431.8,823.9 3432.3,825.1 3432.9,826.6 3433.4,829.0 3433.9,833.6 3434.5,836.1 3435.1,840.0 3435.7,842.3 3436.4,843.7 3437.1,849.8 3437.9,852.4 3438.6,853.9 3439.3,856.6 3440.0,861.2 3440.7,864.2 3441.4,864.8 3442.1,869.8 3442.9,871.2 3443.6,874.8 3444.3,876.0 3445.0,878.8 3445.8,883.2 3446.5,884.2 3447.3,887.8 3448.1,891.1 3448.8,892.8 3449.6,897.5 3450.4,900.1 3451.2,901.8 3451.9,905.5 3452.7,908.9 3453.5,911.7 3454.2,912.9 3455.1,916.2 3456.1,918.9 3457.1,920.0 3458.2,923.2 3459.3,929.1 3460.4,929.8 3461.4,933.5 3462.5,938.1 3463.6,939.0 3464.6,941.5 3465.7,943.3 3466.8,947.2 3467.9,948.2 3468.9,952.4 3470.0,954.1 3471.1,957.8 3472.2,958.5 3473.3,961.3 3474.4,966.5 3475.6,969.7 3476.7,968.3 3477.8,975.1 3478.9,976.5 3480.0,980.8 3481.1,984.3 3482.2,985.9 3483.3,988.0 3484.4,988.7 3485.6,993.6 3486.7,998.8 3487.8,998.7 3488.9,1003.3 3490.0,1006.3 3491.1,1009.3 3492.2,1009.8 3493.3,1012.9 3494.4,1016.3 3495.6,1021.0 3496.7,1021.3 3497.8,1023.7 3498.9,1026.0 3500.0,1030.6 3501.1,1031.1 3502.2,1034.7 3503.3,1036.5 3504.4,1040.0 3505.6,1044.4 3506.7,1046.2 3507.8,1050.1 3508.9,1051.9 3510.0,1054.8 3511.0,1057.5 3512.0,1059.4 3513.0,1063.3 3514.0,1066.8 3515.0,1068.1 3516.0,1072.0 3517.0,1074.5 3518.0,1076.6 3519.0,1079.8 3520.0,1083.5 3521.0,1086.4 3522.0,1090.1 3523.0,1091.8 3524.0,1094.1 3525.0,1094.7 3526.0,1097.8 3527.0,1102.0 3528.0,1103.3 3529.0,1105.7 3530.0,1111.6 3531.1,1113.2 3532.2,1114.4 3533.3,1115.4 3534.4,1119.0 3535.6,1125.9 3536.7,1127.3 3537.8,1130.4 3538.9,1133.3 3540.1,1134.8 3541.4,1138.2 3542.9,1140.9 3544.3,1143.2 3545.7,1147.5 3547.1,1148.6 3548.6,1150.9 3550.4,1153.3 3552.5,1158.1 3555.0,1158.4 3557.5,1163.3 3560.2,1160.8 3563.1,1160.9 3566.2,1158.2 3569.4,1160.6 3572.5,1163.2 3575.6,1164.5 3578.8,1161.1 3581.9,1159.9 3585.0,1161.7 3588.0,1158.3 3591.0,1157.1 3594.0,1156.5 3597.0,1152.7 3600.0,1154.2 3603.0,1151.7 3606.0,1151.8 3609.0,1149.4 3612.0,1148.9 3615.0,1149.9 3618.0,1148.1 3621.0,1143.6 3624.0,1144.4 3627.0,1144.2 3630.0,1144.5 3633.0,1145.5 3636.0,1143.0 3639.0,1148.6 3642.0,1146.1 3645.0,1148.8 3648.0,1146.0 3651.0,1143.9 3654.0,1142.5 3657.0,1140.7 3659.8,1140.4 3662.5,1139.9 3665.0,1139.2 3667.5,1137.7 3670.0,1131.2 3672.5,1130.3 3674.8,1128.4 3676.9,1125.5 3678.8,1123.6 3680.6,1121.1 3682.5,1117.2 3684.4,1114.8 3686.2,1115.1 3688.1,1112.3 3690.2,1112.1 3692.5,1108.0 3695.0,1105.1 3697.5,1103.8 3700.0,1102.1 3702.7,1102.8 3705.6,1100.9 3708.8,1103.7 3711.9,1104.7 3715.0,1103.8 3718.0,1105.3 3721.0,1106.4 3724.0,1109.5 3727.0,1111.5 3729.7,1112.2 3732.0,1111.8 3734.0,1115.0 3736.0,1116.5 3738.0,1117.3 3739.8,1121.0 3741.4,1122.1 3742.9,1125.1 3744.3,1127.0 3745.7,1129.2 3747.1,1133.9 3748.6,1135.0 3750.1,1138.3 3751.7,1141.4 3753.3,1145.2 3755.0,1146.7 3756.7,1150.6 3758.3,1151.6 3760.0,1153.6 3761.7,1155.9 3763.3,1158.7 3765.1,1160.9 3766.9,1162.2 3768.8,1164.9 3770.6,1167.2 3772.5,1172.0 3774.4,1172.2 3776.2,1175.6 3778.1,1176.5 3780.1,1180.7 3782.1,1182.2 3784.3,1183.4 3786.4,1187.8 3788.6,1191.1 3790.7,1193.8 3792.9,1195.3 3795.3,1195.6 3798.0,1195.2 3801.0,1195.9 3804.0,1196.6 3807.0,1199.3 3810.0,1199.2 3813.0,1200.6 3816.0,1201.4 3819.0,1201.4 3822.0,1200.8 3825.0,1200.3 3828.1,1206.9 3831.2,1205.2 3834.4,1202.6 3837.5,1202.1 3840.6,1202.9 3843.8,1206.6 3846.9,1204.4 3849.9,1201.4 3852.9,1205.0 3855.7,1199.5 3858.6,1203.0 3861.4,1207.2 3864.3,1203.4 3867.1,1203.7 3870.0,1203.2 3872.9,1196.2 3875.7,1199.7 3878.6,1199.1 3881.4,1194.8 3884.3,1199.9 3887.1,1198.9 3890.0,1200.5 3892.9,1201.7 3895.7,1200.9 3898.6,1198.3 3901.4,1201.1 3904.3,1202.1 3907.1,1202.3 3910.0,1203.5 3913.0,1205.7 3916.0,1209.6 3919.0,1208.8 3922.0,1209.2 3924.6,1210.0 3926.7,1207.9 3928.3,1204.4 3930.0,1201.1 3931.7,1197.7 3933.3,1197.9 3935.4,1195.5 3938.0,1196.0 3941.0,1192.4 3944.0,1190.7 3947.0,1191.2 3950.0,1192.6 3952.9,1189.7 3955.7,1187.4 3958.6,1188.0 3961.4,1184.4 3964.3,1187.0 3967.1,1183.1 3970.0,1180.7 3972.9,1182.2 3975.7,1181.2 3978.6,1183.7 3981.4,1183.2 3984.3,1181.9 3987.1,1176.6 3990.0,1177.8 3992.9,1176.4 3995.7,1173.6 3998.6,1179.0 4001.4,1173.9 4004.3,1173.4 4007.1,1172.9 4010.0,1172.9 4012.9,1174.1 4015.7,1174.8 4018.6,1171.7 4021.4,1173.5 4024.3,1174.3 4027.1,1173.8 4030.0,1175.9 4032.9,1172.6 4035.7,1171.8 4038.6,1171.3 4041.4,1169.8 4044.3,1171.4 4047.1,1174.1 4050.0,1174.1 4052.9,1173.0 4055.7,1172.9 4058.6,1175.2 4061.4,1175.7 4064.3,1170.0 4067.1,1169.0 4070.0,1173.3 4072.9,1174.4 4075.7,1175.0 4078.6,1175.8 4081.4,1172.6 4084.3,1171.5 4087.1,1174.5 4090.0,1172.7 4092.9,1174.7 4095.7,1179.2 4098.6,1174.0 4101.4,1176.6 4104.3,1179.7 4107.1,1180.5 4110.0,1178.1 4112.9,1177.1 4115.7,1179.1 4118.6,1178.3 4121.4,1181.2 4124.3,1182.0 4127.1,1183.1 4130.0,1186.0 4132.9,1186.2 4135.7,1185.8 4138.6,1186.9 4141.4,1187.7 4144.3,1188.6 4147.1,1189.0 4150.0,1191.6 4153.0,1189.9 4156.0,1191.3 4159.0,1190.6 4162.0,1190.4 4164.8,1188.5 4167.5,1184.0 4170.0,1186.8 4172.5,1182.3 4175.2,1179.2 4178.1,1181.2 4181.2,1183.1 4184.4,1181.1 4187.2,1180.9 4189.6,1182.3 4191.7,1180.8 4193.8,1178.0 4195.8,1175.8 4197.9,1175.2 4200.0,1172.2 4202.1,1171.9 4204.3,1170.2 4206.4,1167.3 4208.6,1168.2 4210.7,1167.0 4212.9,1160.8 4214.8,1159.2 4216.4,1158.8 4217.9,1153.8 4219.3,1148.5 4220.7,1146.3 4222.1,1144.0 4223.6,1141.3 4225.0,1139.9 4226.3,1138.1 4227.6,1135.9 4228.9,1130.3 4230.1,1128.3 4231.4,1128.1 4232.7,1124.4 4234.6,1120.9 4237.0,1119.8 4239.5,1124.5 4241.5,1121.9 4243.0,1125.0 4244.5,1128.2 4246.0,1130.5 4247.4,1134.2 4248.8,1136.9 4250.0,1138.8 4251.2,1142.5 4252.5,1145.6 4253.8,1148.4 4255.4,1152.0 4257.5,1155.0 4260.0,1157.4 4262.5,1159.5 4265.0,1158.8 4267.7,1161.2 4270.6,1161.2 4273.8,1159.2 4276.9,1159.9 4280.1,1159.8 4283.3,1160.1 4286.7,1162.1 4289.7,1159.5 4292.5,1159.9 4295.0,1157.4 4297.5,1156.1 4300.0,1154.4 4302.5,1154.7 4303.8,1154.5" stroke="#4E9450"/>
<path d="M3327.7,167.4 3327.9,166.4 3328.3,169.6 3328.8,173.4 3329.2,177.9 3329.6,180.0 3330.0,181.1 3330.4,185.2 3330.8,187.1 3331.2,192.0 3331.7,194.2 3332.1,198.8 3332.5,200.4 3332.8,202.0 3333.2,204.0 3333.5,207.6 3333.8,211.4 3334.1,215.3 3334.5,217.6 3334.8,219.3 3335.1,222.9 3335.4,224.2 3335.8,228.3 3336.1,230.4 3336.4,235.1 3336.7,238.1 3337.1,240.4 3337.4,241.7 3337.7,245.5 3338.0,248.5 3338.4,250.5 3338.7,253.0 3339.0,257.4 3339.3,259.3 3339.7,262.6 3340.0,266.4 3340.4,266.9 3340.7,271.9 3341.1,274.8 3341.5,276.0 3341.9,278.0 3342.2,280.2 3342.6,284.8 3343.0,284.9 3343.3,290.1 3343.7,293.0 3344.1,295.0 3344.4,297.7 3344.8,300.5 3345.2,303.5 3345.6,307.4 3345.9,308.9 3346.3,313.1 3346.7,316.2 3347.0,318.0 3347.4,321.2 3347.8,323.0 3348.1,326.1 3348.5,329.3 3348.9,333.7 3349.3,335.1 3349.6,337.3 3350.0,340.1 3350.5,342.7 3351.0,344.6 3351.4,350.0 3351.9,351.3 3352.4,353.7 3352.9,356.2 3353.3,360.4 3353.8,365.9 3354.3,369.7 3354.8,371.0 3355.2,372.6 3355.7,374.7 3356.2,376.3 3356.7,380.4 3357.1,382.9 3357.6,387.8 3358.1,389.0 3358.6,390.6 3359.0,392.2 3359.5,394.6 3360.0,399.7 3360.6,403.1 3361.2,404.5 3361.9,406.5 3362.5,410.9 3363.1,413.6 3363.8,416.9 3364.4,419.7 3365.0,421.7 3365.6,423.2 3366.2,427.5 3366.9,430.8 3367.5,433.9 3368.1,437.6 3368.8,440.7 3369.4,442.1 3370.0,445.6 3370.8,445.5 3371.5,450.4 3372.3,453.0 3373.1,456.9 3373.8,459.9 3374.6,460.6 3375.4,463.5 3376.2,467.7 3376.9,469.0 3377.7,471.9 3378.5,473.9 3379.2,477.7 3380.0,480.5 3380.9,482.0 3381.8,483.6 3382.7,485.0 3383.6,490.8 3384.5,493.1 3385.5,495.4 3386.4,498.1 3387.3,500.4 3388.2,504.8 3389.1,508.1 3390.1,507.7 3391.1,511.9 3392.2,515.4 3393.3,517.9 3394.4,521.1 3395.6,525.9 3396.7,527.7 3397.8,531.2 3398.9,534.1 3400.1,533.7 3401.5,539.3 3403.0,540.9 3404.5,542.5 3406.0,546.2 3408.0,550.7 3410.6,546.8 3413.8,544.6 3416.9,545.1 3420.0,540.9 3423.0,539.8 3426.0,540.4 3428.3,542.3 3429.9,543.8 3430.7,547.0 3431.6,550.2 3432.4,551.5 3433.3,553.9 3434.1,556.7 3434.9,559.4 3435.7,563.8 3436.4,566.8 3437.0,566.4 3437.7,570.8 3438.4,572.5 3439.1,574.8 3439.8,579.9 3440.5,583.5 3441.1,586.4 3441.8,588.7 3442.5,592.5 3443.2,592.4 3443.9,596.2 3444.5,597.7 3445.2,600.1 3445.9,601.6 3446.6,607.3 3447.3,611.3 3448.0,613.6 3448.6,614.5 3449.3,617.5 3450.1,618.9 3450.9,622.0 3451.8,627.0 3452.7,630.6 3453.6,632.5 3454.5,635.1 3455.5,636.8 3456.4,639.7 3457.3,641.8 3458.2,645.1 3459.1,646.8 3460.0,651.0 3460.9,652.8 3461.8,655.7 3462.7,658.1 3463.6,662.7 3464.5,665.3 3465.5,666.1 3466.4,667.9 3467.3,672.1 3468.2,674.8 3469.1,677.1 3470.0,680.2 3470.9,684.7 3471.8,686.1 3472.7,690.1 3473.6,691.0 3474.5,693.4 3475.5,696.7 3476.4,699.1 3477.3,701.3 3478.2,703.2 3479.1,706.4 3480.0,709.3 3480.9,712.5 3481.8,716.6 3482.7,719.2 3483.6,722.6 3484.5,724.5 3485.5,727.2 3486.4,730.1 3487.3,733.0 3488.2,736.2 3489.1,737.2 3490.0,740.5 3490.9,743.2 3491.8,747.0 3492.7,749.7 3493.6,750.8 3494.5,754.1 3495.5,757.4 3496.4,759.5 3497.3,763.4 3498.2,765.4 3499.1,766.2 3500.0,770.0 3500.9,773.6 3501.8,774.9 3502.7,778.8 3503.6,778.0 3504.5,785.0 3505.5,785.3 3506.4,788.2 3507.3,791.2 3508.2,792.7 3509.1,797.0 3510.0,798.9 3510.9,800.8 3511.8,802.2 3512.7,807.8 3513.6,812.1 3514.5,813.8 3515.5,816.7 3516.4,821.0 3517.3,823.0 3518.2,826.3 3519.1,829.1 3520.0,831.5 3520.9,833.9 3521.8,837.2 3522.7,839.1 3523.6,841.4 3524.5,843.0 3525.5,843.8 3526.4,847.2 3527.3,850.8 3528.2,855.4 3529.1,857.2 3530.0,857.8 3530.9,862.8 3531.8,866.9 3532.7,869.1 3533.6,871.6 3534.5,874.2 3535.5,876.5 3536.4,880.8 3537.3,881.5 3538.2,883.6 3539.1,885.3 3540.1,888.8 3541.1,891.6 3542.1,894.6 3543.2,898.4 3544.3,902.7 3545.4,903.2 3546.4,906.9 3548.0,908.7 3550.0,910.7 3552.5,912.9 3555.0,916.2 3557.5,915.6 3560.1,921.0 3562.9,920.2 3565.7,918.2 3568.6,915.7 3571.4,919.5 3574.3,919.9 3577.1,920.1 3580.0,918.2 3582.9,919.4 3585.7,918.4 3588.6,918.1 3591.4,914.1 3594.3,912.8 3597.1,909.2 3600.0,908.1 3602.9,906.4 3605.7,906.1 3608.6,905.6 3611.4,904.8 3614.3,904.0 3617.1,903.6 3620.0,902.3 3622.9,901.4 3625.7,901.9 3628.6,904.4 3631.4,905.6 3634.3,906.9 3637.1,910.0 3640.0,905.4 3642.9,907.9 3645.7,906.3 3648.6,907.9 3651.4,909.0 3654.3,911.7 3657.1,915.7 3660.0,917.9 3662.9,915.4 3665.7,914.4 3668.6,912.3 3671.4,907.9 3674.3,910.1 3677.1,906.3 3680.0,904.5 3682.9,904.2 3685.7,902.4 3688.6,902.2 3691.4,904.4 3694.3,901.8 3697.1,901.2 3700.0,899.1 3702.9,898.6 3705.7,903.0 3708.6,905.1 3711.4,904.9 3714.3,909.0 3717.1,906.1 3719.9,908.6 3722.5,908.7 3725.0,911.4 3727.5,914.4 3730.0,914.1 3732.5,919.4 3734.6,920.5 3736.4,922.7 3737.9,924.9 3739.3,928.0 3740.7,928.6 3742.1,930.5 3743.6,934.8 3745.2,937.2 3747.0,939.4 3749.0,942.8 3751.0,947.3 3753.0,946.9 3755.0,946.3 3756.9,950.5 3758.8,951.4 3760.6,955.2 3762.5,957.0 3764.4,960.4 3766.2,965.6 3768.1,966.1 3770.2,965.1 3772.5,966.7 3775.0,968.3 3777.5,969.4 3780.0,973.8 3782.5,976.0 3785.2,979.2 3788.0,981.0 3791.0,981.0 3794.0,981.3 3797.0,982.5 3800.0,984.5 3802.9,984.8 3805.7,984.0 3808.6,991.1 3811.4,992.7 3814.3,991.1 3817.1,990.9 3820.0,991.4 3822.9,993.3 3825.7,992.6 3828.6,988.9 3831.4,992.4 3834.3,994.3 3837.1,991.5 3840.0,990.3 3842.9,992.0 3845.7,990.2 3848.6,992.9 3851.4,993.0 3854.3,988.1 3857.1,989.8 3860.0,986.5 3862.9,986.3 3865.7,989.5 3868.6,987.4 3871.4,988.0 3874.3,985.8 3877.1,989.1 3880.0,986.4 3882.9,991.1 3885.7,988.0 3888.6,985.1 3891.4,984.8 3894.3,984.0 3897.1,986.9 3900.0,982.9 3902.9,984.8 3905.7,986.0 3908.6,985.4 3911.4,980.5 3914.3,983.1 3917.1,982.8 3919.9,982.3 3922.5,977.7 3925.0,976.7 3927.5,976.9 3930.0,974.2 3932.5,972.4 3935.2,969.7 3938.0,968.1 3941.0,967.0 3944.0,969.7 3947.0,965.3 3950.0,962.3 3952.9,959.6 3955.7,960.5 3958.6,959.7 3961.4,957.5 3964.3,954.1 3967.1,958.2 3969.9,955.2 3972.5,952.0 3975.0,951.0 3977.5,947.5 3980.0,945.9 3982.5,941.3 3985.1,940.7 3987.9,936.2 3990.8,939.5 3993.8,938.5 3996.7,936.9 3999.6,936.0 4002.6,932.9 4005.6,935.2 4008.8,937.1 4011.9,940.0 4015.0,939.2 4018.0,940.2 4021.0,942.3 4024.0,944.5 4027.0,946.1 4030.0,947.7 4033.0,950.0 4036.0,950.4 4039.0,951.3 4042.0,951.4 4045.0,950.1 4048.0,954.0 4051.0,954.7 4054.0,956.4 4057.0,956.2 4059.8,962.0 4062.5,964.0 4065.0,963.5 4067.5,965.8 4070.0,968.4 4072.5,972.1 4075.0,971.7 4077.5,974.1 4080.0,973.5 4082.5,975.6 4085.0,977.8 4087.5,979.7 4089.9,980.5 4092.1,984.8 4094.3,985.4 4096.4,987.1 4098.6,990.2 4100.7,994.9 4102.9,997.6 4105.1,997.9 4107.5,997.6 4110.0,998.0 4112.5,1001.5 4115.0,1005.0 4117.5,1007.4 4120.0,1007.9 4122.5,1008.4 4125.0,1011.9 4127.5,1015.7 4130.0,1016.4 4132.5,1018.8 4135.0,1019.6 4137.5,1021.0 4140.0,1025.1 4142.5,1024.3 4145.2,1027.8 4148.0,1026.4 4151.0,1026.6 4154.0,1028.4 4157.0,1029.1 4159.8,1026.4 4162.5,1025.5 4165.0,1024.0 4167.5,1022.5 4170.0,1020.7 4172.5,1020.5 4175.2,1016.7 4178.0,1018.1 4181.0,1018.6 4184.0,1014.5 4187.0,1014.9 4190.0,1013.2 4193.0,1010.7 4196.0,1011.9 4199.0,1012.6 4202.0,1010.5 4204.7,1010.0 4207.0,1008.2 4209.0,1003.2 4211.0,1002.7 4213.0,1003.0 4214.7,1001.9 4216.1,996.3 4217.1,992.2 4218.2,991.2 4219.3,988.2 4220.4,985.7 4221.4,982.3 4222.3,980.6 4223.0,978.1 4223.6,974.2 4224.1,971.4 4224.6,968.5 4225.2,966.3 4225.7,963.4 4226.2,960.5 4226.8,958.0 4227.3,954.7 4227.9,951.1 4228.4,949.4 4228.9,945.5 4229.5,941.5 4230.0,938.6 4230.5,936.6 4231.0,933.4 4231.5,930.4 4232.0,928.0 4232.5,925.4 4233.0,921.9 4233.5,918.5 4234.0,916.0 4234.5,913.9 4235.3,909.0 4236.3,906.4 4237.7,903.0 4239.1,902.2 4240.5,906.1 4242.0,911.4 4243.5,912.7 4244.7,914.0 4245.6,916.5 4246.2,921.2 4246.9,924.9 4247.5,928.1 4248.1,930.9 4248.8,932.4 4249.4,934.6 4250.0,938.1 4250.6,942.0 4251.2,943.9 4251.9,945.9 4252.5,950.8 4253.1,951.7 4253.8,957.0 4254.4,958.0 4255.0,962.1 4255.6,964.3 4256.2,968.7 4256.9,970.4 4257.5,973.4 4258.1,976.7 4258.8,978.9 4259.4,980.6 4260.3,983.7 4261.5,986.4 4263.0,990.7 4264.5,989.2 4266.0,996.7 4268.0,1002.0 4270.6,1001.3 4273.8,998.4 4276.9,997.5 4279.8,997.5 4282.5,998.3 4285.0,1003.6 4287.5,1000.8 4290.0,1003.2 4292.7,1006.3 4295.6,1006.0 4298.8,1011.8 4301.9,1011.3 4303.4,1012.0" stroke="#4E9450"/>
<path d="M3332.7,164.0 3332.8,165.8 3333.2,167.9 3333.5,171.2 3333.8,174.8 3334.2,177.4 3334.5,181.2 3334.8,182.1 3335.2,185.1 3335.5,187.3 3335.8,189.9 3336.2,193.2 3336.5,196.5 3336.8,199.7 3337.2,202.8 3337.5,207.3 3337.9,209.5 3338.2,209.8 3338.6,213.4 3338.9,215.8 3339.3,218.6 3339.6,223.1 3340.0,225.1 3340.4,226.1 3340.7,230.4 3341.1,233.2 3341.4,235.2 3341.8,238.0 3342.1,241.1 3342.5,244.6 3342.9,247.3 3343.2,250.6 3343.6,255.2 3343.9,256.3 3344.3,258.5 3344.6,261.6 3345.1,265.9 3345.5,267.5 3346.1,272.1 3346.6,272.8 3347.1,275.3 3347.6,279.0 3348.2,281.3 3348.7,284.3 3349.2,288.3 3349.7,291.8 3350.3,294.3 3350.8,296.7 3351.3,301.0 3351.8,303.5 3352.4,305.6 3352.9,309.7 3353.4,310.8 3353.9,314.2 3354.5,317.8 3355.1,320.2 3355.7,322.3 3356.4,325.9 3357.1,328.1 3357.9,330.6 3358.6,332.9 3359.3,338.0 3360.0,339.7 3360.7,344.0 3361.4,346.5 3362.1,348.6 3362.9,352.1 3363.6,354.8 3364.3,357.5 3365.1,358.6 3366.1,362.3 3367.2,366.5 3368.3,369.2 3369.4,372.6 3370.6,376.2 3371.7,377.9 3372.8,382.2 3373.9,381.4 3375.2,384.3 3376.6,384.1 3378.1,389.8 3379.7,392.6 3381.2,397.2 3382.8,397.8 3384.4,397.5 3385.9,403.3 3387.4,403.5 3388.9,405.4 3390.3,409.0 3391.7,413.0 3393.1,414.5 3394.4,417.6 3395.8,417.6 3397.2,423.9 3398.6,425.4 3400.2,427.7 3402.0,430.7 3404.0,432.7 3406.0,434.9 3408.0,435.5 3410.2,437.0 3412.5,437.9 3415.0,437.5 3417.5,434.6 3419.8,432.5 3422.0,430.6 3424.0,428.5 3426.0,425.7 3427.5,424.1 3428.5,424.8 3429.0,429.3 3429.5,431.9 3430.0,434.4 3430.5,440.6 3431.1,442.2 3431.7,444.5 3432.4,446.5 3433.1,447.8 3433.9,452.3 3434.6,454.5 3435.3,457.3 3436.0,461.1 3436.7,464.3 3437.4,466.3 3438.2,468.6 3438.9,473.5 3439.6,475.3 3440.3,476.1 3441.1,480.0 3441.8,482.6 3442.5,485.2 3443.3,488.6 3444.2,491.1 3445.0,495.7 3445.8,497.2 3446.7,499.5 3447.5,503.2 3448.3,504.4 3449.2,508.3 3450.0,510.3 3450.9,514.2 3451.8,515.0 3452.7,518.5 3453.6,519.2 3454.5,522.5 3455.5,526.0 3456.4,529.5 3457.3,534.2 3458.2,537.4 3459.1,536.8 3460.0,539.0 3460.9,543.8 3461.8,546.3 3462.7,546.9 3463.6,551.0 3464.5,552.4 3465.5,555.0 3466.4,557.2 3467.3,560.9 3468.2,566.7 3469.1,568.5 3470.1,570.3 3471.1,575.8 3472.2,576.1 3473.3,578.3 3474.4,580.8 3475.6,584.3 3476.7,586.4 3477.8,591.1 3478.9,592.4 3480.0,595.7 3481.1,598.3 3482.2,599.7 3483.3,601.9 3484.4,605.6 3485.6,606.0 3486.7,610.7 3487.8,614.2 3488.9,617.3 3490.0,619.9 3491.1,623.2 3492.2,625.3 3493.3,629.0 3494.4,629.4 3495.6,634.4 3496.7,635.8 3497.8,639.7 3498.9,641.8 3500.0,644.3 3501.1,646.6 3502.2,651.7 3503.3,652.5 3504.4,654.4 3505.6,658.5 3506.7,661.9 3507.8,664.6 3508.9,666.1 3510.1,668.9 3511.4,673.5 3512.9,674.7 3514.3,679.0 3515.7,682.5 3517.1,684.8 3518.6,685.8 3520.0,691.9 3521.4,693.7 3522.9,696.2 3524.3,698.3 3525.7,700.2 3527.1,703.5 3528.6,707.1 3530.0,708.8 3531.4,712.3 3532.9,716.4 3534.3,718.5 3535.7,720.2 3537.1,723.9 3538.6,726.7 3540.2,729.3 3542.0,729.6 3544.0,729.9 3546.0,735.2 3548.0,737.6 3550.2,739.2 3552.5,742.2 3555.0,742.8 3557.5,743.9 3560.0,749.0 3562.5,746.7 3565.2,750.6 3568.0,753.1 3571.0,756.0 3574.0,755.3 3577.0,756.2 3580.0,754.9 3582.9,756.6 3585.7,754.2 3588.6,756.6 3591.4,758.9 3594.3,760.2 3597.1,760.6 3600.0,763.8 3602.9,759.7 3605.7,761.0 3608.6,760.1 3611.4,760.3 3614.3,760.0 3617.1,763.0 3620.0,758.7 3623.0,761.8 3626.0,763.6 3629.0,762.0 3632.0,761.1 3635.0,760.4 3638.0,761.6 3641.0,767.7 3644.0,763.8 3647.0,767.5 3650.0,767.2 3652.9,771.9 3655.7,770.2 3658.6,766.5 3661.4,766.5 3664.3,767.7 3667.1,767.9 3670.0,766.4 3672.9,767.7 3675.7,768.8 3678.6,771.6 3681.4,773.0 3684.3,774.2 3687.1,774.0 3690.0,777.0 3693.0,776.4 3696.0,776.4 3699.0,777.7 3702.0,779.0 3705.0,780.3 3708.0,778.9 3711.0,784.6 3714.0,786.3 3717.0,788.8 3720.0,787.8 3723.0,790.3 3726.0,791.3 3729.0,792.3 3732.0,796.5 3734.8,795.2 3737.5,797.6 3740.0,796.0 3742.5,800.0 3745.0,801.4 3747.5,801.7 3750.2,803.4 3753.0,802.6 3756.0,804.9 3759.0,808.7 3762.0,806.5 3765.0,812.5 3767.9,815.2 3770.7,814.0 3773.6,813.0 3776.4,813.5 3779.3,814.6 3782.1,816.5 3785.0,822.7 3787.9,819.9 3790.7,822.7 3793.6,825.0 3796.4,822.7 3799.3,823.6 3802.1,826.0 3805.0,825.2 3807.9,828.6 3810.7,831.8 3813.6,829.6 3816.4,827.9 3819.3,830.3 3822.1,831.1 3825.0,829.5 3827.9,829.9 3830.7,829.9 3833.6,830.4 3836.4,831.3 3839.3,828.5 3842.1,825.7 3845.0,823.8 3847.9,828.5 3850.7,825.6 3853.6,824.0 3856.4,827.7 3859.3,826.1 3862.1,826.9 3865.0,822.5 3867.9,819.6 3870.7,818.4 3873.6,819.6 3876.4,819.1 3879.3,818.5 3882.1,821.1 3885.0,820.6 3888.0,816.0 3891.0,817.8 3894.0,819.0 3897.0,817.5 3900.0,822.7 3902.9,822.3 3905.7,823.4 3908.6,820.2 3911.4,818.2 3914.3,821.1 3917.1,820.6 3920.0,819.7 3922.9,820.3 3925.7,820.9 3928.6,820.9 3931.4,820.2 3934.3,821.1 3937.1,825.9 3940.0,824.4 3942.9,820.7 3945.7,824.3 3948.6,820.9 3951.4,817.9 3954.3,817.2 3957.1,815.8 3960.0,821.2 3962.9,818.8 3965.7,817.2 3968.6,818.0 3971.4,818.7 3974.3,816.9 3977.1,817.3 3980.0,818.4 3982.9,820.2 3985.7,818.2 3988.6,820.4 3991.4,820.8 3994.3,821.6 3997.1,820.1 4000.0,818.3 4002.9,821.2 4005.7,820.9 4008.6,818.1 4011.4,816.5 4014.3,818.0 4017.1,820.5 4020.0,818.4 4023.0,821.7 4026.0,819.0 4029.0,818.4 4032.0,818.6 4035.0,820.1 4038.0,817.1 4041.0,819.7 4044.0,823.3 4047.0,820.7 4050.0,822.9 4053.0,824.2 4056.0,825.3 4059.0,824.8 4062.0,821.3 4065.0,824.1 4068.0,819.9 4071.0,819.3 4074.0,824.5 4077.0,826.1 4080.0,824.5 4082.9,828.3 4085.7,829.8 4088.6,830.7 4091.4,829.6 4094.3,828.4 4097.1,827.9 4100.0,830.7 4102.9,832.1 4105.7,832.3 4108.6,832.6 4111.4,835.6 4114.3,833.4 4117.1,833.6 4120.0,838.8 4122.9,836.1 4125.7,835.2 4128.6,838.2 4131.4,834.0 4134.3,839.1 4137.1,835.6 4140.0,835.1 4142.9,833.8 4145.7,833.4 4148.6,833.1 4151.4,835.5 4154.3,834.1 4157.1,835.6 4159.9,834.1 4162.5,829.2 4165.0,827.9 4167.5,825.2 4170.0,823.1 4172.5,821.9 4175.2,821.8 4178.0,822.4 4181.0,819.9 4184.0,823.1 4187.0,824.8 4190.0,829.9 4193.0,829.0 4196.0,829.6 4199.0,830.5 4202.0,832.9 4205.0,830.1 4208.1,830.5 4211.2,829.5 4214.4,828.5 4216.8,826.5 4218.6,823.8 4219.7,821.5 4220.8,817.1 4221.8,817.1 4222.9,813.3 4223.8,808.2 4224.4,806.3 4224.7,804.9 4225.1,801.4 4225.4,798.4 4225.8,793.5 4226.1,793.4 4226.5,790.2 4226.9,785.4 4227.2,783.2 4227.6,782.4 4227.9,779.3 4228.3,774.5 4228.6,771.9 4229.1,769.9 4229.6,769.3 4230.2,765.4 4230.9,762.7 4231.5,758.8 4232.1,756.0 4232.8,752.1 4233.4,748.3 4234.4,745.7 4235.8,748.2 4237.1,753.6 4238.1,755.7 4238.7,759.7 4239.3,762.6 4239.9,764.9 4240.5,767.0 4241.0,772.3 4241.6,775.1 4242.2,778.1 4242.8,782.3 4243.4,784.7 4244.0,786.1 4244.6,788.6 4245.2,791.4 4245.8,795.9 4246.4,795.9 4247.0,796.8 4247.6,800.3 4248.2,803.8 4248.8,806.2 4249.4,810.5 4250.6,813.5 4252.5,815.4 4255.0,817.7 4257.8,822.3 4260.8,824.1 4264.2,823.3 4266.9,819.7 4269.0,822.4 4270.5,822.7 4272.0,823.9 4273.5,830.7 4275.0,833.9 4276.4,836.4 4277.9,839.8 4279.3,843.0 4280.7,843.9 4282.1,845.9 4283.6,848.6 4285.0,851.6 4286.4,853.6 4287.9,854.3 4289.3,861.2 4290.7,861.4 4292.1,863.6 4293.6,867.7 4295.4,868.6 4297.5,869.1 4300.0,870.2 4302.5,868.0 4303.8,864.1" stroke="#4E9450"/>
<path d="M3330.3,168.5 3330.6,165.7 3331.1,169.1 3331.7,172.0 3332.2,175.7 3332.8,176.7 3333.3,180.0 3333.9,182.9 3334.4,185.5 3335.0,188.6 3335.4,191.8 3335.8,194.9 3336.2,197.2 3336.7,201.1 3337.1,203.4 3337.5,203.4 3337.9,209.4 3338.3,211.8 3338.8,214.2 3339.2,217.7 3339.6,220.8 3340.0,223.5 3340.4,225.3 3340.8,228.8 3341.2,230.2 3341.7,235.3 3342.1,236.3 3342.5,239.5 3342.9,242.7 3343.4,245.8 3343.8,248.3 3344.2,251.7 3344.7,250.8 3345.1,255.6 3345.5,259.0 3346.0,261.8 3346.4,266.5 3346.8,267.6 3347.3,270.6 3347.7,271.7 3348.2,276.1 3348.6,277.6 3349.0,280.1 3349.5,286.6 3349.9,289.1 3350.3,291.1 3350.8,293.8 3351.2,295.0 3351.6,297.7 3352.1,301.9 3352.6,302.6 3353.1,307.1 3353.8,308.4 3354.4,312.7 3355.0,314.7 3355.6,320.2 3356.2,323.2 3356.9,324.5 3357.5,325.3 3358.1,328.6 3358.8,332.3 3359.4,334.5 3360.0,338.4 3360.6,342.3 3361.2,344.5 3361.9,346.6 3362.7,350.5 3363.6,352.4 3364.8,356.2 3365.9,357.9 3367.0,362.6 3368.2,363.7 3369.3,365.0 3370.5,368.6 3371.6,370.7 3372.7,372.9 3373.9,376.4 3375.2,380.4 3376.7,379.7 3378.3,383.8 3380.0,386.7 3381.7,389.4 3383.3,393.2 3385.0,393.3 3386.7,397.6 3388.3,399.6 3390.0,402.3 3391.7,404.5 3393.3,406.7 3395.0,408.9 3396.7,412.5 3398.3,417.7 3400.0,419.7 3401.8,421.8 3403.6,423.7 3405.4,424.6 3407.1,428.0 3408.9,432.9 3410.7,431.5 3413.0,434.5 3415.8,435.2 3419.2,432.6 3422.1,431.0 3424.6,429.5 3426.8,428.2 3428.9,424.9 3430.4,425.2 3431.4,423.4 3431.8,426.5 3432.2,429.1 3432.6,432.2 3433.1,434.5 3433.8,438.3 3434.6,442.3 3435.3,443.7 3436.1,446.4 3436.9,449.6 3437.7,451.9 3438.4,455.5 3439.2,457.8 3440.2,458.8 3441.4,461.1 3442.9,465.9 3444.3,469.4 3445.7,473.0 3447.1,475.1 3448.6,477.6 3450.1,477.8 3451.9,483.3 3453.8,483.4 3455.6,487.6 3457.5,487.5 3459.4,489.5 3461.2,492.8 3463.1,494.6 3465.1,496.2 3467.1,500.4 3469.3,503.0 3471.4,504.9 3473.6,505.9 3475.7,506.9 3477.9,509.2 3480.1,511.3 3482.5,514.1 3485.0,517.6 3487.5,518.8 3490.0,519.6 3492.5,521.5 3494.9,526.4 3497.1,527.8 3499.3,529.8 3501.4,532.0 3503.6,534.6 3505.7,536.3 3507.9,539.7 3510.0,541.8 3512.0,538.5 3514.0,542.6 3516.0,549.7 3518.0,547.5 3519.8,550.1 3521.4,553.9 3522.9,555.5 3524.3,559.4 3525.7,559.0 3527.1,560.6 3528.6,564.1 3530.2,566.2 3532.0,568.1 3534.0,572.6 3536.0,575.4 3538.0,577.7 3540.0,579.3 3542.0,582.2 3544.0,583.9 3546.0,584.9 3548.0,588.4 3550.3,590.4 3553.0,591.4 3556.0,593.3 3559.0,591.6 3562.0,593.3 3565.0,593.5 3568.0,597.0 3571.0,596.7 3574.0,599.6 3577.0,599.6 3580.0,595.8 3582.9,593.0 3585.7,594.6 3588.6,593.5 3591.4,593.1 3594.3,591.1 3597.1,593.2 3600.0,592.8 3602.9,592.6 3605.7,591.9 3608.6,589.1 3611.4,585.3 3614.3,586.9 3617.1,586.4 3620.0,586.2 3622.9,589.1 3625.7,588.4 3628.6,591.4 3631.4,590.2 3634.3,591.0 3637.1,591.1 3640.0,592.1 3642.9,589.4 3645.7,593.0 3648.6,593.2 3651.4,592.0 3654.3,594.8 3657.1,595.9 3660.0,598.5 3662.9,599.2 3665.7,599.6 3668.6,597.2 3671.4,602.6 3674.3,604.9 3677.1,605.3 3680.0,605.4 3682.9,607.2 3685.7,604.4 3688.6,606.5 3691.4,606.4 3694.3,604.9 3697.1,607.1 3700.0,608.1 3702.9,611.1 3705.7,610.9 3708.6,606.2 3711.4,604.1 3714.3,606.9 3717.1,607.8 3720.0,607.0 3722.9,605.9 3725.7,608.0 3728.6,607.2 3731.4,608.0 3734.3,611.2 3737.1,611.4 3740.0,609.8 3742.9,608.7 3745.7,610.2 3748.6,614.4 3751.4,611.9 3754.3,615.3 3757.1,612.0 3760.0,612.3 3762.9,614.5 3765.7,613.4 3768.6,615.0 3771.4,613.8 3774.3,617.4 3777.1,620.1 3780.0,618.6 3782.9,620.2 3785.7,620.4 3788.6,618.2 3791.4,626.3 3794.3,626.2 3797.1,627.2 3800.0,627.4 3803.0,627.6 3806.0,632.0 3809.0,626.8 3812.0,628.1 3815.0,628.4 3818.0,628.7 3821.0,630.0 3824.0,627.6 3827.0,625.3 3830.0,624.6 3832.9,627.1 3835.7,628.7 3838.6,628.9 3841.4,630.3 3844.3,626.8 3847.1,628.2 3850.1,627.9 3853.1,626.1 3856.2,624.2 3859.4,626.4 3862.5,624.2 3865.6,623.9 3868.8,622.4 3871.9,626.7 3875.0,624.8 3878.1,623.2 3881.2,622.9 3884.4,622.8 3887.5,623.2 3890.6,619.9 3893.8,619.6 3896.9,622.5 3900.0,624.4 3903.1,621.1 3906.2,621.9 3909.4,620.8 3912.5,617.1 3915.6,619.4 3918.8,618.6 3921.9,621.8 3925.0,620.9 3928.1,620.9 3931.2,618.2 3934.4,620.3 3937.5,617.0 3940.6,620.0 3943.8,623.3 3946.9,619.5 3950.0,622.1 3953.1,624.2 3956.2,622.0 3959.4,623.9 3962.5,622.7 3965.6,621.4 3968.8,618.2 3971.9,618.9 3975.0,618.6 3978.1,625.7 3981.2,624.4 3984.4,623.3 3987.5,620.8 3990.6,625.8 3993.8,622.3 3996.9,626.1 3999.9,626.8 4002.8,625.5 4005.6,624.0 4008.3,624.8 4011.1,623.0 4013.9,626.2 4016.7,629.5 4019.4,629.4 4022.2,629.9 4025.0,627.2 4027.8,628.3 4030.6,626.6 4033.3,627.3 4036.1,629.9 4038.9,634.2 4041.7,631.6 4044.4,630.9 4047.2,627.4 4050.1,630.1 4053.1,629.2 4056.2,628.1 4059.4,627.6 4062.5,630.6 4065.6,630.8 4068.8,633.0 4071.9,632.2 4075.0,632.4 4078.1,635.4 4081.2,635.3 4084.4,635.3 4087.5,636.8 4090.6,635.1 4093.8,632.4 4096.9,631.9 4100.0,630.4 4103.1,633.5 4106.2,633.3 4109.4,635.0 4112.5,636.3 4115.6,633.7 4118.8,634.8 4121.9,637.3 4125.0,636.0 4128.1,637.4 4131.2,636.0 4134.4,634.3 4137.5,635.3 4140.6,632.8 4143.8,636.8 4146.9,636.2 4150.0,639.5 4153.1,635.7 4156.2,636.6 4159.4,637.1 4162.5,636.1 4165.6,636.6 4168.8,634.5 4171.9,632.9 4175.0,631.6 4178.1,632.4 4181.2,632.1 4184.4,633.7 4187.5,632.9 4190.6,631.9 4193.8,631.2 4196.9,628.7 4200.0,630.3 4203.0,631.8 4206.0,628.8 4209.0,629.1 4212.0,630.4 4214.8,627.8 4217.5,627.4 4220.0,625.1 4222.5,627.6 4224.6,625.1 4226.2,621.9 4227.4,616.5 4228.6,614.3 4229.8,610.6 4231.0,608.1 4232.3,604.3 4233.6,602.1 4234.9,598.5 4236.2,596.7 4237.3,599.1 4238.3,596.0 4239.1,598.1 4239.9,602.8 4240.8,606.6 4241.6,608.6 4242.4,612.2 4243.2,615.3 4244.2,618.4 4245.5,622.4 4247.0,623.2 4248.5,627.0 4250.6,629.2 4253.3,629.8 4256.7,632.8 4259.9,631.8 4263.0,631.8 4266.0,636.7 4269.0,635.4 4272.0,640.3 4275.0,641.5 4278.0,639.4 4281.0,638.2 4284.0,635.5 4287.0,638.8 4290.0,636.9 4293.0,641.9 4296.0,637.2 4299.0,638.2 4302.0,633.1 4303.5,635.2" stroke="#4E9450"/>
</g>
<line x1="3391.6" y1="1101.7" x2="3391.6" y2="1449" stroke="#000" stroke-width="5.8" stroke-dasharray="15.5 12"/>
<line x1="3501.8" y1="1297.3" x2="3501.8" y2="1590.5" stroke="#000" stroke-width="5.8" stroke-dasharray="15.5 12"/>
<line x1="3714.7" y1="808.2" x2="3714.7" y2="1311.3" stroke="#000" stroke-width="5.8" stroke-dasharray="15.5 12"/>
<line x1="3793.2" y1="1356.5" x2="3793.2" y2="1615.5" stroke="#000" stroke-width="5.8" stroke-dasharray="15.5 12"/>
<line x1="3968.3" y1="1291.3" x2="3968.3" y2="1598.8" stroke="#000" stroke-width="5.8" stroke-dasharray="15.5 12"/>
<line x1="4105.6" y1="1299.3" x2="4105.6" y2="1603.5" stroke="#000" stroke-width="5.8" stroke-dasharray="15.5 12"/>
<line x1="4237" y1="489.7" x2="4237" y2="1332.6" stroke="#000" stroke-width="5.8" stroke-dasharray="15.5 12"/>
<rect x="3322" y="160.8" width="1178.4" height="1582.5" fill="none" stroke="#000" stroke-width="3.5" />
<line x1="3322.2" y1="1743.3" x2="3322.2" y2="1757.3" stroke="#000" stroke-width="3.5" />
<text x="3322.2" y="1815.5" font-size="60" text-anchor="middle" fill="#000" >100</text>
<line x1="3352.4" y1="1743.3" x2="3352.4" y2="1750.3" stroke="#000" stroke-width="3.5" />
<line x1="3382.6" y1="1743.3" x2="3382.6" y2="1750.3" stroke="#000" stroke-width="3.5" />
<line x1="3412.8" y1="1743.3" x2="3412.8" y2="1750.3" stroke="#000" stroke-width="3.5" />
<line x1="3443" y1="1743.3" x2="3443" y2="1750.3" stroke="#000" stroke-width="3.5" />
<line x1="3473.1" y1="1743.3" x2="3473.1" y2="1750.3" stroke="#000" stroke-width="3.5" />
<line x1="3503.3" y1="1743.3" x2="3503.3" y2="1750.3" stroke="#000" stroke-width="3.5" />
<line x1="3533.5" y1="1743.3" x2="3533.5" y2="1750.3" stroke="#000" stroke-width="3.5" />
<line x1="3563.7" y1="1743.3" x2="3563.7" y2="1750.3" stroke="#000" stroke-width="3.5" />
<line x1="3593.9" y1="1743.3" x2="3593.9" y2="1750.3" stroke="#000" stroke-width="3.5" />
<line x1="3624.1" y1="1743.3" x2="3624.1" y2="1757.3" stroke="#000" stroke-width="3.5" />
<text x="3624.1" y="1815.5" font-size="60" text-anchor="middle" fill="#000" >300</text>
<line x1="3654.3" y1="1743.3" x2="3654.3" y2="1750.3" stroke="#000" stroke-width="3.5" />
<line x1="3684.5" y1="1743.3" x2="3684.5" y2="1750.3" stroke="#000" stroke-width="3.5" />
<line x1="3714.7" y1="1743.3" x2="3714.7" y2="1750.3" stroke="#000" stroke-width="3.5" />
<line x1="3744.9" y1="1743.3" x2="3744.9" y2="1750.3" stroke="#000" stroke-width="3.5" />
<line x1="3775" y1="1743.3" x2="3775" y2="1750.3" stroke="#000" stroke-width="3.5" />
<line x1="3805.2" y1="1743.3" x2="3805.2" y2="1750.3" stroke="#000" stroke-width="3.5" />
<line x1="3835.4" y1="1743.3" x2="3835.4" y2="1750.3" stroke="#000" stroke-width="3.5" />
<line x1="3865.6" y1="1743.3" x2="3865.6" y2="1750.3" stroke="#000" stroke-width="3.5" />
<line x1="3895.8" y1="1743.3" x2="3895.8" y2="1750.3" stroke="#000" stroke-width="3.5" />
<line x1="3926" y1="1743.3" x2="3926" y2="1757.3" stroke="#000" stroke-width="3.5" />
<text x="3926" y="1815.5" font-size="60" text-anchor="middle" fill="#000" >500</text>
<line x1="3956.2" y1="1743.3" x2="3956.2" y2="1750.3" stroke="#000" stroke-width="3.5" />
<line x1="3986.4" y1="1743.3" x2="3986.4" y2="1750.3" stroke="#000" stroke-width="3.5" />
<line x1="4016.6" y1="1743.3" x2="4016.6" y2="1750.3" stroke="#000" stroke-width="3.5" />
<line x1="4046.8" y1="1743.3" x2="4046.8" y2="1750.3" stroke="#000" stroke-width="3.5" />
<line x1="4076.9" y1="1743.3" x2="4076.9" y2="1750.3" stroke="#000" stroke-width="3.5" />
<line x1="4107.1" y1="1743.3" x2="4107.1" y2="1750.3" stroke="#000" stroke-width="3.5" />
<line x1="4137.3" y1="1743.3" x2="4137.3" y2="1750.3" stroke="#000" stroke-width="3.5" />
<line x1="4167.5" y1="1743.3" x2="4167.5" y2="1750.3" stroke="#000" stroke-width="3.5" />
<line x1="4197.7" y1="1743.3" x2="4197.7" y2="1750.3" stroke="#000" stroke-width="3.5" />
<line x1="4227.9" y1="1743.3" x2="4227.9" y2="1757.3" stroke="#000" stroke-width="3.5" />
<text x="4227.9" y="1815.5" font-size="60" text-anchor="middle" fill="#000" >700</text>
<line x1="4258.1" y1="1743.3" x2="4258.1" y2="1750.3" stroke="#000" stroke-width="3.5" />
<line x1="4288.3" y1="1743.3" x2="4288.3" y2="1750.3" stroke="#000" stroke-width="3.5" />
<line x1="4318.5" y1="1743.3" x2="4318.5" y2="1750.3" stroke="#000" stroke-width="3.5" />
<line x1="4348.7" y1="1743.3" x2="4348.7" y2="1750.3" stroke="#000" stroke-width="3.5" />
<line x1="4378.9" y1="1743.3" x2="4378.9" y2="1750.3" stroke="#000" stroke-width="3.5" />
<line x1="4409" y1="1743.3" x2="4409" y2="1750.3" stroke="#000" stroke-width="3.5" />
<line x1="4439.2" y1="1743.3" x2="4439.2" y2="1750.3" stroke="#000" stroke-width="3.5" />
<line x1="4469.4" y1="1743.3" x2="4469.4" y2="1750.3" stroke="#000" stroke-width="3.5" />
<line x1="4499.6" y1="1743.3" x2="4499.6" y2="1750.3" stroke="#000" stroke-width="3.5" />
<text x="3913.5" y="1901.3" font-size="63" text-anchor="middle" fill="#000" ><tspan>Raman shift (cm</tspan><tspan font-size="42" dy="-26">-1</tspan><tspan dy="26">)</tspan></text>
<text transform="translate(3259,907) rotate(-90)" font-size="70" text-anchor="middle" fill="#000">Intensity (a.u.)</text>
<text x="3911.7" y="227.6" font-size="52.7" text-anchor="middle" fill="#FF0000" ><tspan>10% O</tspan><tspan font-size="35.5" dy="13">2</tspan><tspan dy="-13"> + 90% CO</tspan><tspan font-size="35.5" dy="13">2</tspan></text>
<text x="3911" y="303.9" font-size="52.7" text-anchor="middle" fill="#000" ><tspan>0.1 M KHCO</tspan><tspan font-size="35.5" dy="13">3</tspan><tspan dy="-13"> in H</tspan><tspan font-size="35.5" dy="13">2</tspan><tspan dy="-13">O</tspan></text>
<line x1="3581" y1="385" x2="3581" y2="430" stroke="#000" stroke-width="7" />
<line x1="3569.5" y1="386" x2="3592.5" y2="386" stroke="#000" stroke-width="6" />
<line x1="3569.5" y1="429" x2="3592.5" y2="429" stroke="#000" stroke-width="6" />
<text x="3600" y="424.7" font-size="52.7" text-anchor="start" fill="#000" >500 a.u.</text>
<text x="4238" y="457.8" font-size="52.7" text-anchor="middle" fill="#000" >706</text>
<text x="3703" y="1361.2" font-size="52.7" text-anchor="middle" fill="#000" >360</text>
<text x="3396" y="1504.3" font-size="52.7" text-anchor="middle" fill="#000" >146</text>
<text x="3500.5" y="1647.3" font-size="52.7" text-anchor="middle" fill="#000" >219</text>
<text x="3793" y="1670.5" font-size="52.7" text-anchor="middle" fill="#000" >412</text>
<text x="3967" y="1646.7" font-size="52.7" text-anchor="middle" fill="#000" >528</text>
<text x="4106" y="1656.8" font-size="52.7" text-anchor="middle" fill="#000" >619</text>
<text x="4398" y="577.3" font-size="52.7" text-anchor="middle" fill="#737373" >-0.8 V</text>
<text x="4398" y="721.3" font-size="52.7" text-anchor="middle" fill="#737373" >-0.6 V</text>
<text x="4398" y="951" font-size="52.7" text-anchor="middle" fill="#737373" >-0.4 V</text>
<text x="4398" y="1128.3" font-size="52.7" text-anchor="middle" fill="#737373" >-0.2 V</text>
<text x="4398" y="1289.3" font-size="52.7" text-anchor="middle" fill="#737373" >0 V</text>
<text x="4398" y="1435.7" font-size="52.7" text-anchor="middle" fill="#737373" >0.2 V</text>
<text x="4398" y="1526.9" font-size="52.7" text-anchor="middle" fill="#737373" >0.4 V</text>
<text x="4398" y="1666" font-size="52.7" text-anchor="middle" fill="#737373" >ocp</text>
<text x="61.6" y="1839.6" font-size="133" text-anchor="start" fill="#000" font-weight="bold" >d</text>
<polyline points="412.9,2694.8 647.6,2762.6 882.4,2422.3 1117.1,2335.5 1351.8,2109.7" fill="none" stroke="#4D4D4D" stroke-width="4.3" stroke-linejoin="round"/><rect x="399.4" y="2681.3" width="27" height="27" fill="#4D4D4D"/><rect x="634.1" y="2749.1" width="27" height="27" fill="#4D4D4D"/><rect x="868.9" y="2408.8" width="27" height="27" fill="#4D4D4D"/><rect x="1103.6" y="2322" width="27" height="27" fill="#4D4D4D"/><rect x="1338.3" y="2096.2" width="27" height="27" fill="#4D4D4D"/>
<polyline points="412.9,2694.8 647.6,2755.8 882.4,2542.9 1117.1,2430.4 1351.8,1950.4" fill="none" stroke="#E0393B" stroke-width="4.3" stroke-linejoin="round"/><circle cx="412.9" cy="2694.8" r="14.5" fill="#E0393B"/><circle cx="647.6" cy="2755.8" r="14.5" fill="#E0393B"/><circle cx="882.4" cy="2542.9" r="14.5" fill="#E0393B"/><circle cx="1117.1" cy="2430.4" r="14.5" fill="#E0393B"/><circle cx="1351.8" cy="1950.4" r="14.5" fill="#E0393B"/>
<polyline points="412.9,2694.8 647.6,2684.6 882.4,2813.4 1117.1,2789.7 1351.8,2535.5" fill="none" stroke="#2B62B4" stroke-width="4.3" stroke-linejoin="round"/><polygon points="412.9,2673.8 394.9,2705.3 430.9,2705.3" fill="#2B62B4"/><polygon points="647.6,2663.6 629.6,2695.1 665.6,2695.1" fill="#2B62B4"/><polygon points="882.4,2792.4 864.4,2823.9 900.4,2823.9" fill="#2B62B4"/><polygon points="1117.1,2768.7 1099.1,2800.2 1135.1,2800.2" fill="#2B62B4"/><polygon points="1351.8,2514.5 1333.8,2546 1369.8,2546" fill="#2B62B4"/>
<polyline points="412.9,2694.8 647.6,2749 882.4,2820.2 1117.1,2745.6 1351.8,2555.8" fill="none" stroke="#35A064" stroke-width="4.3" stroke-linejoin="round"/><polygon points="412.9,2715.8 394.9,2684.3 430.9,2684.3" fill="#35A064"/><polygon points="647.6,2770 629.6,2738.5 665.6,2738.5" fill="#35A064"/><polygon points="882.4,2841.2 864.4,2809.7 900.4,2809.7" fill="#35A064"/><polygon points="1117.1,2766.6 1099.1,2735.1 1135.1,2735.1" fill="#35A064"/><polygon points="1351.8,2576.8 1333.8,2545.3 1369.8,2545.3" fill="#35A064"/>
<rect x="295.4" y="1881.3" width="1174.1" height="1084.7" fill="none" stroke="#000" stroke-width="5" />
<line x1="271.4" y1="2966" x2="295.4" y2="2966" stroke="#000" stroke-width="4.8" />
<text x="254.5" y="2982.3" font-size="52" text-anchor="end" fill="#000" >-0.4</text>
<line x1="283.4" y1="2898.2" x2="295.4" y2="2898.2" stroke="#000" stroke-width="4.8" />
<line x1="271.4" y1="2830.4" x2="295.4" y2="2830.4" stroke="#000" stroke-width="4.8" />
<text x="254.5" y="2846.7" font-size="52" text-anchor="end" fill="#000" >-0.2</text>
<line x1="283.4" y1="2762.6" x2="295.4" y2="2762.6" stroke="#000" stroke-width="4.8" />
<line x1="271.4" y1="2694.8" x2="295.4" y2="2694.8" stroke="#000" stroke-width="4.8" />
<text x="254.5" y="2711.1" font-size="52" text-anchor="end" fill="#000" >0.0</text>
<line x1="283.4" y1="2627" x2="295.4" y2="2627" stroke="#000" stroke-width="4.8" />
<line x1="271.4" y1="2559.2" x2="295.4" y2="2559.2" stroke="#000" stroke-width="4.8" />
<text x="254.5" y="2575.5" font-size="52" text-anchor="end" fill="#000" >0.2</text>
<line x1="283.4" y1="2491.4" x2="295.4" y2="2491.4" stroke="#000" stroke-width="4.8" />
<line x1="271.4" y1="2423.6" x2="295.4" y2="2423.6" stroke="#000" stroke-width="4.8" />
<text x="254.5" y="2439.9" font-size="52" text-anchor="end" fill="#000" >0.4</text>
<line x1="283.4" y1="2355.8" x2="295.4" y2="2355.8" stroke="#000" stroke-width="4.8" />
<line x1="271.4" y1="2288" x2="295.4" y2="2288" stroke="#000" stroke-width="4.8" />
<text x="254.5" y="2304.3" font-size="52" text-anchor="end" fill="#000" >0.6</text>
<line x1="283.4" y1="2220.2" x2="295.4" y2="2220.2" stroke="#000" stroke-width="4.8" />
<line x1="271.4" y1="2152.4" x2="295.4" y2="2152.4" stroke="#000" stroke-width="4.8" />
<text x="254.5" y="2168.7" font-size="52" text-anchor="end" fill="#000" >0.8</text>
<line x1="283.4" y1="2084.7" x2="295.4" y2="2084.7" stroke="#000" stroke-width="4.8" />
<line x1="271.4" y1="2016.9" x2="295.4" y2="2016.9" stroke="#000" stroke-width="4.8" />
<text x="254.5" y="2033.2" font-size="52" text-anchor="end" fill="#000" >1.0</text>
<line x1="283.4" y1="1949.1" x2="295.4" y2="1949.1" stroke="#000" stroke-width="4.8" />
<line x1="271.4" y1="1881.3" x2="295.4" y2="1881.3" stroke="#000" stroke-width="4.8" />
<text x="254.5" y="1897.6" font-size="52" text-anchor="end" fill="#000" >1.2</text>
<line x1="412.9" y1="2966" x2="412.9" y2="2989.7" stroke="#000" stroke-width="4.8" />
<text x="411.4" y="3047.5" font-size="52" text-anchor="middle" fill="#000" >0<tspan dx="8">/9</tspan></text>
<line x1="647.6" y1="2966" x2="647.6" y2="2989.7" stroke="#000" stroke-width="4.8" />
<text x="646.1" y="3047.5" font-size="52" text-anchor="middle" fill="#000" >1<tspan dx="8">/9</tspan></text>
<line x1="882.4" y1="2966" x2="882.4" y2="2989.7" stroke="#000" stroke-width="4.8" />
<text x="880.9" y="3047.5" font-size="52" text-anchor="middle" fill="#000" >2<tspan dx="8">/9</tspan></text>
<line x1="1117.1" y1="2966" x2="1117.1" y2="2989.7" stroke="#000" stroke-width="4.8" />
<text x="1115.6" y="3047.5" font-size="52" text-anchor="middle" fill="#000" >3<tspan dx="8">/9</tspan></text>
<line x1="1351.8" y1="2966" x2="1351.8" y2="2989.7" stroke="#000" stroke-width="4.8" />
<text x="1350.3" y="3047.5" font-size="52" text-anchor="middle" fill="#000" >4<tspan dx="8">/9</tspan></text>
<line x1="295.5" y1="2966" x2="295.5" y2="2977.8" stroke="#000" stroke-width="4.8" />
<line x1="530.3" y1="2966" x2="530.3" y2="2977.8" stroke="#000" stroke-width="4.8" />
<line x1="765" y1="2966" x2="765" y2="2977.8" stroke="#000" stroke-width="4.8" />
<line x1="999.7" y1="2966" x2="999.7" y2="2977.8" stroke="#000" stroke-width="4.8" />
<line x1="1234.5" y1="2966" x2="1234.5" y2="2977.8" stroke="#000" stroke-width="4.8" />
<line x1="1469.2" y1="2966" x2="1469.2" y2="2977.8" stroke="#000" stroke-width="4.8" />
<text x="886.2" y="3143" font-size="65" text-anchor="middle" fill="#000" >*OH Coverage</text>
<text transform="translate(138,2418.7) rotate(-90)" font-size="64" text-anchor="middle" fill="#000">Free Energy Difference / eV</text>
<line x1="336" y1="1935.4" x2="452" y2="1935.4" stroke="#4D4D4D" stroke-width="4.3" stroke-linecap="round"/><rect x="379.5" y="1921.9" width="27" height="27" fill="#4D4D4D"/><text x="464.7" y="1954.4" font-size="53.5" text-anchor="start" fill="#000" >Initial states</text><line x1="336" y1="1999.3" x2="452" y2="1999.3" stroke="#E0393B" stroke-width="4.3" stroke-linecap="round"/><circle cx="393" cy="1999.3" r="14.5" fill="#E0393B"/><text x="464.7" y="2018.3" font-size="53.5" text-anchor="start" fill="#000" >Transition states</text><line x1="336" y1="2068" x2="452" y2="2068" stroke="#2B62B4" stroke-width="4.3" stroke-linecap="round"/><polygon points="393,2047 375,2078.5 411,2078.5" fill="#2B62B4"/><text x="464.7" y="2087" font-size="53.5" text-anchor="start" fill="#000" ><tspan>ΔΔG</tspan><tspan font-size="44" dy="-20">≠</tspan></text><line x1="336" y1="2134" x2="452" y2="2134" stroke="#35A064" stroke-width="4.3" stroke-linecap="round"/><polygon points="393,2155 375,2123.5 411,2123.5" fill="#35A064"/><text x="464.7" y="2153" font-size="53.5" text-anchor="start" fill="#000" >ΔΔG</text>
<text x="1585.3" y="1839.6" font-size="133" text-anchor="start" fill="#000" font-weight="bold" >e</text>
<polyline points="1899.9,2122.3 2134.6,2165.7 2369.4,2031.3 2604.1,2110.9 2838.8,1998.8" fill="none" stroke="#4D4D4D" stroke-width="4.3" stroke-linejoin="round"/><rect x="1886.4" y="2108.8" width="27" height="27" fill="#4D4D4D"/><rect x="2121.1" y="2152.2" width="27" height="27" fill="#4D4D4D"/><rect x="2355.9" y="2017.8" width="27" height="27" fill="#4D4D4D"/><rect x="2590.6" y="2097.4" width="27" height="27" fill="#4D4D4D"/><rect x="2825.3" y="1985.3" width="27" height="27" fill="#4D4D4D"/>
<polyline points="1899.9,2122.3 2134.6,2113.3 2369.4,2086.1 2604.1,2511 2838.8,2556.2" fill="none" stroke="#E0393B" stroke-width="4.3" stroke-linejoin="round"/><circle cx="1899.9" cy="2122.3" r="14.5" fill="#E0393B"/><circle cx="2134.6" cy="2113.3" r="14.5" fill="#E0393B"/><circle cx="2369.4" cy="2086.1" r="14.5" fill="#E0393B"/><circle cx="2604.1" cy="2511" r="14.5" fill="#E0393B"/><circle cx="2838.8" cy="2556.2" r="14.5" fill="#E0393B"/>
<polyline points="1899.9,2122.3 2134.6,2069.9 2369.4,2175.9 2604.1,2523 2838.8,2679.7" fill="none" stroke="#2B62B4" stroke-width="4.3" stroke-linejoin="round"/><polygon points="1899.9,2101.3 1881.9,2132.8 1917.9,2132.8" fill="#2B62B4"/><polygon points="2134.6,2048.9 2116.6,2080.4 2152.6,2080.4" fill="#2B62B4"/><polygon points="2369.4,2154.9 2351.4,2186.4 2387.4,2186.4" fill="#2B62B4"/><polygon points="2604.1,2502 2586.1,2533.5 2622.1,2533.5" fill="#2B62B4"/><polygon points="2838.8,2658.7 2820.8,2690.2 2856.8,2690.2" fill="#2B62B4"/>
<polyline points="1899.9,2122.3 2134.6,2223.5 2369.4,2311.5 2604.1,2317.5 2838.8,2875.6" fill="none" stroke="#35A064" stroke-width="4.3" stroke-linejoin="round"/><polygon points="1899.9,2143.3 1881.9,2111.8 1917.9,2111.8" fill="#35A064"/><polygon points="2134.6,2244.5 2116.6,2213 2152.6,2213" fill="#35A064"/><polygon points="2369.4,2332.5 2351.4,2301 2387.4,2301" fill="#35A064"/><polygon points="2604.1,2338.5 2586.1,2307 2622.1,2307" fill="#35A064"/><polygon points="2838.8,2896.6 2820.8,2865.1 2856.8,2865.1" fill="#35A064"/>
<rect x="1782.5" y="1881.3" width="1174.1" height="1084.7" fill="none" stroke="#000" stroke-width="5" />
<line x1="1758.5" y1="2965.9" x2="1782.5" y2="2965.9" stroke="#000" stroke-width="4.8" />
<text x="1741.7" y="2982.2" font-size="52" text-anchor="end" fill="#000" >-1.4</text>
<line x1="1770.5" y1="2905.7" x2="1782.5" y2="2905.7" stroke="#000" stroke-width="4.8" />
<line x1="1758.5" y1="2845.4" x2="1782.5" y2="2845.4" stroke="#000" stroke-width="4.8" />
<text x="1741.7" y="2861.7" font-size="52" text-anchor="end" fill="#000" >-1.2</text>
<line x1="1770.5" y1="2785.2" x2="1782.5" y2="2785.2" stroke="#000" stroke-width="4.8" />
<line x1="1758.5" y1="2724.9" x2="1782.5" y2="2724.9" stroke="#000" stroke-width="4.8" />
<text x="1741.7" y="2741.2" font-size="52" text-anchor="end" fill="#000" >-1.0</text>
<line x1="1770.5" y1="2664.6" x2="1782.5" y2="2664.6" stroke="#000" stroke-width="4.8" />
<line x1="1758.5" y1="2604.4" x2="1782.5" y2="2604.4" stroke="#000" stroke-width="4.8" />
<text x="1741.7" y="2620.7" font-size="52" text-anchor="end" fill="#000" >-0.8</text>
<line x1="1770.5" y1="2544.1" x2="1782.5" y2="2544.1" stroke="#000" stroke-width="4.8" />
<line x1="1758.5" y1="2483.9" x2="1782.5" y2="2483.9" stroke="#000" stroke-width="4.8" />
<text x="1741.7" y="2500.2" font-size="52" text-anchor="end" fill="#000" >-0.6</text>
<line x1="1770.5" y1="2423.6" x2="1782.5" y2="2423.6" stroke="#000" stroke-width="4.8" />
<line x1="1758.5" y1="2363.3" x2="1782.5" y2="2363.3" stroke="#000" stroke-width="4.8" />
<text x="1741.7" y="2379.6" font-size="52" text-anchor="end" fill="#000" >-0.4</text>
<line x1="1770.5" y1="2303.1" x2="1782.5" y2="2303.1" stroke="#000" stroke-width="4.8" />
<line x1="1758.5" y1="2242.8" x2="1782.5" y2="2242.8" stroke="#000" stroke-width="4.8" />
<text x="1741.7" y="2259.1" font-size="52" text-anchor="end" fill="#000" >-0.2</text>
<line x1="1770.5" y1="2182.6" x2="1782.5" y2="2182.6" stroke="#000" stroke-width="4.8" />
<line x1="1758.5" y1="2122.3" x2="1782.5" y2="2122.3" stroke="#000" stroke-width="4.8" />
<text x="1741.7" y="2138.6" font-size="52" text-anchor="end" fill="#000" >0.0</text>
<line x1="1770.5" y1="2062" x2="1782.5" y2="2062" stroke="#000" stroke-width="4.8" />
<line x1="1758.5" y1="2001.8" x2="1782.5" y2="2001.8" stroke="#000" stroke-width="4.8" />
<text x="1741.7" y="2018.1" font-size="52" text-anchor="end" fill="#000" >0.2</text>
<line x1="1770.5" y1="1941.5" x2="1782.5" y2="1941.5" stroke="#000" stroke-width="4.8" />
<line x1="1758.5" y1="1881.3" x2="1782.5" y2="1881.3" stroke="#000" stroke-width="4.8" />
<text x="1741.7" y="1897.6" font-size="52" text-anchor="end" fill="#000" >0.4</text>
<line x1="1899.9" y1="2966" x2="1899.9" y2="2989.7" stroke="#000" stroke-width="4.8" />
<text x="1898.4" y="3047.5" font-size="52" text-anchor="middle" fill="#000" >0<tspan dx="8">/9</tspan></text>
<line x1="2134.6" y1="2966" x2="2134.6" y2="2989.7" stroke="#000" stroke-width="4.8" />
<text x="2133.1" y="3047.5" font-size="52" text-anchor="middle" fill="#000" >1<tspan dx="8">/9</tspan></text>
<line x1="2369.4" y1="2966" x2="2369.4" y2="2989.7" stroke="#000" stroke-width="4.8" />
<text x="2367.9" y="3047.5" font-size="52" text-anchor="middle" fill="#000" >2<tspan dx="8">/9</tspan></text>
<line x1="2604.1" y1="2966" x2="2604.1" y2="2989.7" stroke="#000" stroke-width="4.8" />
<text x="2602.6" y="3047.5" font-size="52" text-anchor="middle" fill="#000" >3<tspan dx="8">/9</tspan></text>
<line x1="2838.8" y1="2966" x2="2838.8" y2="2989.7" stroke="#000" stroke-width="4.8" />
<text x="2837.3" y="3047.5" font-size="52" text-anchor="middle" fill="#000" >4<tspan dx="8">/9</tspan></text>
<line x1="1782.5" y1="2966" x2="1782.5" y2="2977.8" stroke="#000" stroke-width="4.8" />
<line x1="2017.3" y1="2966" x2="2017.3" y2="2977.8" stroke="#000" stroke-width="4.8" />
<line x1="2252" y1="2966" x2="2252" y2="2977.8" stroke="#000" stroke-width="4.8" />
<line x1="2486.7" y1="2966" x2="2486.7" y2="2977.8" stroke="#000" stroke-width="4.8" />
<line x1="2721.5" y1="2966" x2="2721.5" y2="2977.8" stroke="#000" stroke-width="4.8" />
<line x1="2956.2" y1="2966" x2="2956.2" y2="2977.8" stroke="#000" stroke-width="4.8" />
<text x="2373.4" y="3143" font-size="65" text-anchor="middle" fill="#000" >*OH Coverage</text>
<text transform="translate(1625,2418.7) rotate(-90)" font-size="64" text-anchor="middle" fill="#000">Free Energy Difference / eV</text>
<line x1="1856" y1="2690.5" x2="1972" y2="2690.5" stroke="#4D4D4D" stroke-width="4.3" stroke-linecap="round"/><rect x="1899.5" y="2677" width="27" height="27" fill="#4D4D4D"/><text x="1984.7" y="2709.5" font-size="53.5" text-anchor="start" fill="#000" >Initial states</text><line x1="1856" y1="2754.5" x2="1972" y2="2754.5" stroke="#E0393B" stroke-width="4.3" stroke-linecap="round"/><circle cx="1913" cy="2754.5" r="14.5" fill="#E0393B"/><text x="1984.7" y="2773.5" font-size="53.5" text-anchor="start" fill="#000" >Transition states</text><line x1="1856" y1="2825.5" x2="1972" y2="2825.5" stroke="#2B62B4" stroke-width="4.3" stroke-linecap="round"/><polygon points="1913,2804.5 1895,2836 1931,2836" fill="#2B62B4"/><text x="1984.7" y="2844.5" font-size="53.5" text-anchor="start" fill="#000" ><tspan>ΔΔG</tspan><tspan font-size="44" dy="-20">≠</tspan></text><line x1="1856" y1="2889.5" x2="1972" y2="2889.5" stroke="#35A064" stroke-width="4.3" stroke-linecap="round"/><polygon points="1913,2910.5 1895,2879 1931,2879" fill="#35A064"/><text x="1984.7" y="2908.5" font-size="53.5" text-anchor="start" fill="#000" >ΔΔG</text>
<text x="3098.6" y="1969.8" font-size="133" text-anchor="start" fill="#000" font-weight="bold" >f</text>
<clipPath id="clipf"><rect x="3195" y="1995.5" width="1381.8" height="970.4"/></clipPath>
<g clip-path="url(#clipf)">
<rect x="3195" y="1995.5" width="1381.8" height="970.4" fill="#B8D0E8"/>
<circle cx="4380.5" cy="2701" r="23" fill="#F5F5F5" stroke="#000" stroke-width="3.2"/>
<line x1="4381.5" y1="2722" x2="4382.5" y2="2745" stroke="#000" stroke-width="9.5" stroke-linecap="round"/><line x1="4381.5" y1="2722" x2="4382.5" y2="2745" stroke="#fff" stroke-width="4" stroke-linecap="round"/>
<circle cx="4383.9" cy="2768.1" r="34" fill="#B81010" stroke="#000" stroke-width="3.2"/>
<circle cx="3206.8" cy="2824.5" r="79.2" fill="#F48E7C" stroke="#000" stroke-width="3.5"/>
<circle cx="3364.4" cy="2824.5" r="79.2" fill="#F48E7C" stroke="#000" stroke-width="3.5"/>
<circle cx="3522" cy="2824.5" r="79.2" fill="#F48E7C" stroke="#000" stroke-width="3.5"/>
<circle cx="3679.6" cy="2824.5" r="79.2" fill="#F48E7C" stroke="#000" stroke-width="3.5"/>
<circle cx="3837.2" cy="2824.5" r="79.2" fill="#F48E7C" stroke="#000" stroke-width="3.5"/>
<circle cx="3994.8" cy="2824.5" r="79.2" fill="#F48E7C" stroke="#000" stroke-width="3.5"/>
<circle cx="4152.4" cy="2824.5" r="79.2" fill="#F48E7C" stroke="#000" stroke-width="3.5"/>
<circle cx="4310" cy="2824.5" r="79.2" fill="#F48E7C" stroke="#000" stroke-width="3.5"/>
<circle cx="4467.6" cy="2824.5" r="79.2" fill="#F48E7C" stroke="#000" stroke-width="3.5"/>
<circle cx="4625.2" cy="2824.5" r="79.2" fill="#F48E7C" stroke="#000" stroke-width="3.5"/>
<path d="M3726.7,2595 L3726.7,2735 Q3726.7,2835 3826.7,2835 L3886.5,2835 Q3986.5,2835 3986.5,2735 L3986.5,2650" fill="none" stroke="#000" stroke-width="23.7" stroke-linecap="butt"/><polygon points="3986.5,2593 3964,2655 4009,2655" fill="#767171" stroke="#000" stroke-width="3.2"/><path d="M3726.7,2596.6 L3726.7,2735 Q3726.7,2835 3826.7,2835 L3886.5,2835 Q3986.5,2835 3986.5,2735 L3986.5,2650" fill="none" stroke="#767171" stroke-width="17.3" stroke-linecap="butt"/>
<circle cx="3628.7" cy="2761.4" r="23" fill="#F5F5F5" stroke="#000" stroke-width="3.2"/>
<line x1="3629.7" y1="2782.4" x2="3627.4" y2="2802.5" stroke="#000" stroke-width="9.5" stroke-linecap="round"/><line x1="3629.7" y1="2782.4" x2="3627.4" y2="2802.5" stroke="#fff" stroke-width="4" stroke-linecap="round"/>
<circle cx="3626.4" cy="2832.5" r="34" fill="#B81010" stroke="#000" stroke-width="3.2"/>
<circle cx="4101.3" cy="2768.1" r="23" fill="#F5F5F5" stroke="#000" stroke-width="3.2"/>
<line x1="4102.3" y1="2789.1" x2="4102.9" y2="2808.6" stroke="#000" stroke-width="9.5" stroke-linecap="round"/><line x1="4102.3" y1="2789.1" x2="4102.9" y2="2808.6" stroke="#fff" stroke-width="4" stroke-linecap="round"/>
<circle cx="4101.9" cy="2838.6" r="34" fill="#B81010" stroke="#000" stroke-width="3.2"/>
<circle cx="3237" cy="2903" r="79.2" fill="#F48E7C" stroke="#000" stroke-width="3.5"/>
<circle cx="3394.6" cy="2903" r="79.2" fill="#F48E7C" stroke="#000" stroke-width="3.5"/>
<circle cx="3552.2" cy="2903" r="79.2" fill="#F48E7C" stroke="#000" stroke-width="3.5"/>
<circle cx="3709.8" cy="2903" r="79.2" fill="#F48E7C" stroke="#000" stroke-width="3.5"/>
<circle cx="3867.4" cy="2903" r="79.2" fill="#F48E7C" stroke="#000" stroke-width="3.5"/>
<circle cx="4025" cy="2903" r="79.2" fill="#F48E7C" stroke="#000" stroke-width="3.5"/>
<circle cx="4182.6" cy="2903" r="79.2" fill="#F48E7C" stroke="#000" stroke-width="3.5"/>
<circle cx="4340.2" cy="2903" r="79.2" fill="#F48E7C" stroke="#000" stroke-width="3.5"/>
<circle cx="4497.8" cy="2903" r="79.2" fill="#F48E7C" stroke="#000" stroke-width="3.5"/>
<circle cx="4655.4" cy="2903" r="79.2" fill="#F48E7C" stroke="#000" stroke-width="3.5"/>
<circle cx="3338.4" cy="2839.2" r="23" fill="#F5F5F5" stroke="#000" stroke-width="3.2"/>
<line x1="3339.5" y1="2860" x2="3339.5" y2="2890" stroke="#000" stroke-width="9.5" stroke-linecap="round"/><line x1="3339.5" y1="2860" x2="3339.5" y2="2890" stroke="#fff" stroke-width="4" stroke-linecap="round"/>
<circle cx="3337.7" cy="2919.1" r="34" fill="#B81010" stroke="#000" stroke-width="3.2"/>
<circle cx="3259.5" cy="2979.5" r="79.2" fill="#F48E7C" stroke="#000" stroke-width="3.5"/>
<circle cx="3417.1" cy="2979.5" r="79.2" fill="#F48E7C" stroke="#000" stroke-width="3.5"/>
<circle cx="3574.7" cy="2979.5" r="79.2" fill="#F48E7C" stroke="#000" stroke-width="3.5"/>
<circle cx="3732.3" cy="2979.5" r="79.2" fill="#F48E7C" stroke="#000" stroke-width="3.5"/>
<circle cx="3889.9" cy="2979.5" r="79.2" fill="#F48E7C" stroke="#000" stroke-width="3.5"/>
<circle cx="4047.5" cy="2979.5" r="79.2" fill="#F48E7C" stroke="#000" stroke-width="3.5"/>
<circle cx="4205.1" cy="2979.5" r="79.2" fill="#F48E7C" stroke="#000" stroke-width="3.5"/>
<circle cx="4362.7" cy="2979.5" r="79.2" fill="#F48E7C" stroke="#000" stroke-width="3.5"/>
<circle cx="4520.3" cy="2979.5" r="79.2" fill="#F48E7C" stroke="#000" stroke-width="3.5"/>
<circle cx="4677.9" cy="2979.5" r="79.2" fill="#F48E7C" stroke="#000" stroke-width="3.5"/>
<circle cx="3308" cy="2092.2" r="33" fill="#B81010" stroke="#000" stroke-width="3.2"/>
<line x1="3316.6" y1="2117.6" x2="3334.6" y2="2144.6" stroke="#000" stroke-width="9" stroke-linecap="round"/><line x1="3316.6" y1="2117.6" x2="3334.6" y2="2144.6" stroke="#fff" stroke-width="3.5" stroke-linecap="round"/><line x1="3327.4" y1="2110.4" x2="3345.4" y2="2137.4" stroke="#000" stroke-width="9" stroke-linecap="round"/><line x1="3327.4" y1="2110.4" x2="3345.4" y2="2137.4" stroke="#fff" stroke-width="3.5" stroke-linecap="round"/>
<circle cx="3354.5" cy="2162.8" r="33" fill="#B81010" stroke="#000" stroke-width="3.2"/>
<circle cx="3598.4" cy="2226.6" r="34" fill="#B81010" stroke="#000" stroke-width="3.2"/>
<circle cx="3729.4" cy="2184" r="34" fill="#B81010" stroke="#000" stroke-width="3.2"/>
<line x1="3624.1" y1="2225.7" x2="3642.1" y2="2219.7" stroke="#000" stroke-width="9" stroke-linecap="round"/><line x1="3624.1" y1="2225.7" x2="3642.1" y2="2219.7" stroke="#fff" stroke-width="3.5" stroke-linecap="round"/><line x1="3619.9" y1="2213.3" x2="3637.9" y2="2207.3" stroke="#000" stroke-width="9" stroke-linecap="round"/><line x1="3619.9" y1="2213.3" x2="3637.9" y2="2207.3" stroke="#fff" stroke-width="3.5" stroke-linecap="round"/>
<line x1="3688.2" y1="2205.6" x2="3706.2" y2="2199.1" stroke="#000" stroke-width="9" stroke-linecap="round"/><line x1="3688.2" y1="2205.6" x2="3706.2" y2="2199.1" stroke="#fff" stroke-width="3.5" stroke-linecap="round"/><line x1="3683.8" y1="2193.4" x2="3701.8" y2="2186.9" stroke="#000" stroke-width="9" stroke-linecap="round"/><line x1="3683.8" y1="2193.4" x2="3701.8" y2="2186.9" stroke="#fff" stroke-width="3.5" stroke-linecap="round"/>
<circle cx="3661.6" cy="2207" r="32.5" fill="#767171" stroke="#000" stroke-width="3.2"/>
<circle cx="3305.5" cy="2358.6" r="34" fill="#B81010" stroke="#000" stroke-width="3.2"/>
<line x1="3293.4" y1="2369.8" x2="3290.4" y2="2378.8" stroke="#000" stroke-width="8" stroke-linecap="round"/><line x1="3293.4" y1="2369.8" x2="3290.4" y2="2378.8" stroke="#fff" stroke-width="2.5" stroke-linecap="round"/><line x1="3306.6" y1="2374.2" x2="3303.6" y2="2383.2" stroke="#000" stroke-width="8" stroke-linecap="round"/><line x1="3306.6" y1="2374.2" x2="3303.6" y2="2383.2" stroke="#fff" stroke-width="2.5" stroke-linecap="round"/>
<circle cx="3289.2" cy="2404.3" r="34" fill="#B81010" stroke="#000" stroke-width="3.2"/>
<circle cx="3719.7" cy="2411.3" r="34" fill="#B81010" stroke="#000" stroke-width="3.2"/>
<circle cx="3630" cy="2513" r="34" fill="#B81010" stroke="#000" stroke-width="3.2"/>
<line x1="3698.2" y1="2425.6" x2="3688.2" y2="2436.6" stroke="#000" stroke-width="9" stroke-linecap="round"/><line x1="3698.2" y1="2425.6" x2="3688.2" y2="2436.6" stroke="#fff" stroke-width="3.5" stroke-linecap="round"/><line x1="3707.8" y1="2434.4" x2="3697.8" y2="2445.4" stroke="#000" stroke-width="9" stroke-linecap="round"/><line x1="3707.8" y1="2434.4" x2="3697.8" y2="2445.4" stroke="#fff" stroke-width="3.5" stroke-linecap="round"/>
<line x1="3653" y1="2475.8" x2="3643" y2="2487.8" stroke="#000" stroke-width="9" stroke-linecap="round"/><line x1="3653" y1="2475.8" x2="3643" y2="2487.8" stroke="#fff" stroke-width="3.5" stroke-linecap="round"/><line x1="3663" y1="2484.2" x2="3653" y2="2496.2" stroke="#000" stroke-width="9" stroke-linecap="round"/><line x1="3663" y1="2484.2" x2="3653" y2="2496.2" stroke="#fff" stroke-width="3.5" stroke-linecap="round"/>
<circle cx="3675.8" cy="2459.8" r="32.5" fill="#767171" stroke="#000" stroke-width="3.2"/>
<circle cx="4440.7" cy="2099" r="34" fill="#B81010" stroke="#000" stroke-width="3.2"/>
<line x1="4420.7" y1="2117.3" x2="4404.7" y2="2140.3" stroke="#000" stroke-width="9" stroke-linecap="round"/><line x1="4420.7" y1="2117.3" x2="4404.7" y2="2140.3" stroke="#fff" stroke-width="3.5" stroke-linecap="round"/><line x1="4431.3" y1="2124.7" x2="4415.3" y2="2147.7" stroke="#000" stroke-width="9" stroke-linecap="round"/><line x1="4431.3" y1="2124.7" x2="4415.3" y2="2147.7" stroke="#fff" stroke-width="3.5" stroke-linecap="round"/>
<circle cx="4390.4" cy="2172.6" r="34" fill="#B81010" stroke="#000" stroke-width="3.2"/>
<circle cx="4448.7" cy="2347.5" r="30" fill="#B81010" stroke="#000" stroke-width="3.2"/>
<line x1="4457.2" y1="2368.6" x2="4463.2" y2="2376.6" stroke="#000" stroke-width="8" stroke-linecap="round"/><line x1="4457.2" y1="2368.6" x2="4463.2" y2="2376.6" stroke="#fff" stroke-width="2.5" stroke-linecap="round"/><line x1="4466.8" y1="2361.4" x2="4472.8" y2="2369.4" stroke="#000" stroke-width="8" stroke-linecap="round"/><line x1="4466.8" y1="2361.4" x2="4472.8" y2="2369.4" stroke="#fff" stroke-width="2.5" stroke-linecap="round"/>
<circle cx="4484.5" cy="2392.8" r="30" fill="#B81010" stroke="#000" stroke-width="3.2"/>
<circle cx="4045" cy="2057.4" r="21.5" fill="#F5F5F5" stroke="#000" stroke-width="3.2"/>
<circle cx="4112" cy="2037.9" r="21.5" fill="#F5F5F5" stroke="#000" stroke-width="3.2"/>
<circle cx="4251.8" cy="2109.9" r="21.5" fill="#F5F5F5" stroke="#000" stroke-width="3.2"/>
<circle cx="3973.8" cy="2124.1" r="21.5" fill="#F5F5F5" stroke="#000" stroke-width="3.2"/>
<circle cx="3935.8" cy="2183.4" r="21.5" fill="#F5F5F5" stroke="#000" stroke-width="3.2"/>
<circle cx="4049.6" cy="2278" r="21.5" fill="#F5F5F5" stroke="#000" stroke-width="3.2"/>
<line x1="4101.3" y1="2119.5" x2="4055" y2="2069.4" stroke="#000" stroke-width="9.5" stroke-linecap="round"/><line x1="4101.3" y1="2119.5" x2="4055" y2="2069.4" stroke="#fff" stroke-width="4" stroke-linecap="round"/>
<line x1="4101.3" y1="2119.5" x2="4110" y2="2053.9" stroke="#000" stroke-width="9.5" stroke-linecap="round"/><line x1="4101.3" y1="2119.5" x2="4110" y2="2053.9" stroke="#fff" stroke-width="4" stroke-linecap="round"/>
<line x1="4197.6" y1="2154.4" x2="4238.8" y2="2120.9" stroke="#000" stroke-width="9.5" stroke-linecap="round"/><line x1="4197.6" y1="2154.4" x2="4238.8" y2="2120.9" stroke="#fff" stroke-width="4" stroke-linecap="round"/>
<line x1="4101.3" y1="2119.5" x2="4197.6" y2="2154.4" stroke="#000" stroke-width="9.5" stroke-linecap="round"/><line x1="4101.3" y1="2119.5" x2="4197.6" y2="2154.4" stroke="#fff" stroke-width="4" stroke-linecap="round"/>
<line x1="4101.3" y1="2119.5" x2="4018.2" y2="2192.2" stroke="#000" stroke-width="9.5" stroke-linecap="round"/><line x1="4101.3" y1="2119.5" x2="4018.2" y2="2192.2" stroke="#fff" stroke-width="4" stroke-linecap="round"/>
<line x1="4018.2" y1="2192.2" x2="3980.8" y2="2137.1" stroke="#000" stroke-width="9.5" stroke-linecap="round"/><line x1="4018.2" y1="2192.2" x2="3980.8" y2="2137.1" stroke="#fff" stroke-width="4" stroke-linecap="round"/>
<line x1="4018.2" y1="2192.2" x2="3952.8" y2="2185.4" stroke="#000" stroke-width="9.5" stroke-linecap="round"/><line x1="4018.2" y1="2192.2" x2="3952.8" y2="2185.4" stroke="#fff" stroke-width="4" stroke-linecap="round"/>
<line x1="4018.2" y1="2192.2" x2="4046.6" y2="2270" stroke="#000" stroke-width="9.5" stroke-linecap="round"/><line x1="4018.2" y1="2192.2" x2="4046.6" y2="2270" stroke="#fff" stroke-width="4" stroke-linecap="round"/>
<circle cx="4101.3" cy="2119.5" r="32.5" fill="#767171" stroke="#000" stroke-width="3.2"/>
<circle cx="4018.2" cy="2192.2" r="32.5" fill="#767171" stroke="#000" stroke-width="3.2"/>
<circle cx="4197.6" cy="2154.4" r="33.5" fill="#B81010" stroke="#000" stroke-width="3.2"/>
<circle cx="4138.1" cy="2227" r="21.5" fill="#F5F5F5" stroke="#000" stroke-width="3.2"/>
<circle cx="4249.5" cy="2322.9" r="21.5" fill="#F5F5F5" stroke="#000" stroke-width="3.2"/>
<circle cx="3999.4" cy="2386.1" r="21.5" fill="#F5F5F5" stroke="#000" stroke-width="3.2"/>
<circle cx="4115.5" cy="2483.8" r="21.5" fill="#F5F5F5" stroke="#000" stroke-width="3.2"/>
<line x1="4164.5" y1="2315.7" x2="4142.1" y2="2243" stroke="#000" stroke-width="9.5" stroke-linecap="round"/><line x1="4164.5" y1="2315.7" x2="4142.1" y2="2243" stroke="#fff" stroke-width="4" stroke-linecap="round"/>
<line x1="4164.5" y1="2315.7" x2="4235.5" y2="2321.9" stroke="#000" stroke-width="9.5" stroke-linecap="round"/><line x1="4164.5" y1="2315.7" x2="4235.5" y2="2321.9" stroke="#fff" stroke-width="4" stroke-linecap="round"/>
<line x1="4099" y1="2396.5" x2="4016.4" y2="2388.1" stroke="#000" stroke-width="9.5" stroke-linecap="round"/><line x1="4099" y1="2396.5" x2="4016.4" y2="2388.1" stroke="#fff" stroke-width="4" stroke-linecap="round"/>
<line x1="4099" y1="2396.5" x2="4113.5" y2="2471.8" stroke="#000" stroke-width="9.5" stroke-linecap="round"/><line x1="4099" y1="2396.5" x2="4113.5" y2="2471.8" stroke="#fff" stroke-width="4" stroke-linecap="round"/>
<line x1="4159.1" y1="2311.3" x2="4093.6" y2="2392.1" stroke="#000" stroke-width="9" stroke-linecap="round"/><line x1="4159.1" y1="2311.3" x2="4093.6" y2="2392.1" stroke="#fff" stroke-width="3.5" stroke-linecap="round"/><line x1="4169.9" y1="2320.1" x2="4104.4" y2="2400.9" stroke="#000" stroke-width="9" stroke-linecap="round"/><line x1="4169.9" y1="2320.1" x2="4104.4" y2="2400.9" stroke="#fff" stroke-width="3.5" stroke-linecap="round"/>
<circle cx="4164.5" cy="2315.7" r="32.5" fill="#767171" stroke="#000" stroke-width="3.2"/>
<circle cx="4099" cy="2396.5" r="32.5" fill="#767171" stroke="#000" stroke-width="3.2"/>
<circle cx="3899.2" cy="2396.6" r="21.5" fill="#F5F5F5" stroke="#000" stroke-width="3.2"/>
<circle cx="4038.6" cy="2465.2" r="21.5" fill="#F5F5F5" stroke="#000" stroke-width="3.2"/>
<circle cx="3896.5" cy="2548.8" r="21.5" fill="#F5F5F5" stroke="#000" stroke-width="3.2"/>
<circle cx="3967.8" cy="2560.3" r="21.5" fill="#F5F5F5" stroke="#000" stroke-width="3.2"/>
<line x1="3943.8" y1="2478.9" x2="3905.2" y2="2410.6" stroke="#000" stroke-width="9.5" stroke-linecap="round"/><line x1="3943.8" y1="2478.9" x2="3905.2" y2="2410.6" stroke="#fff" stroke-width="4" stroke-linecap="round"/>
<line x1="3943.8" y1="2478.9" x2="4022.6" y2="2467.2" stroke="#000" stroke-width="9.5" stroke-linecap="round"/><line x1="3943.8" y1="2478.9" x2="4022.6" y2="2467.2" stroke="#fff" stroke-width="4" stroke-linecap="round"/>
<line x1="3943.8" y1="2478.9" x2="3904.5" y2="2536.8" stroke="#000" stroke-width="9.5" stroke-linecap="round"/><line x1="3943.8" y1="2478.9" x2="3904.5" y2="2536.8" stroke="#fff" stroke-width="4" stroke-linecap="round"/>
<line x1="3943.8" y1="2478.9" x2="3964.8" y2="2548.3" stroke="#000" stroke-width="9.5" stroke-linecap="round"/><line x1="3943.8" y1="2478.9" x2="3964.8" y2="2548.3" stroke="#fff" stroke-width="4" stroke-linecap="round"/>
<circle cx="3943.8" cy="2478.9" r="32.5" fill="#767171" stroke="#000" stroke-width="3.2"/>
<polygon points="3392.4,2476.6 3431.4,2628.2 3421,2630.9 3452.3,2676.5 3457.8,2621.4 3447.4,2624.1 3408.4,2472.4" fill="#767171" stroke="#000" stroke-width="3.2" stroke-linejoin="miter"/>
<polygon points="4369.4,2461.9 4291.3,2597.3 4282,2592 4272.5,2646.5 4314.9,2610.9 4305.6,2605.6 4383.6,2470.1" fill="#767171" stroke="#000" stroke-width="3.2" stroke-linejoin="miter"/>
</g>
</svg>
</body></html>
